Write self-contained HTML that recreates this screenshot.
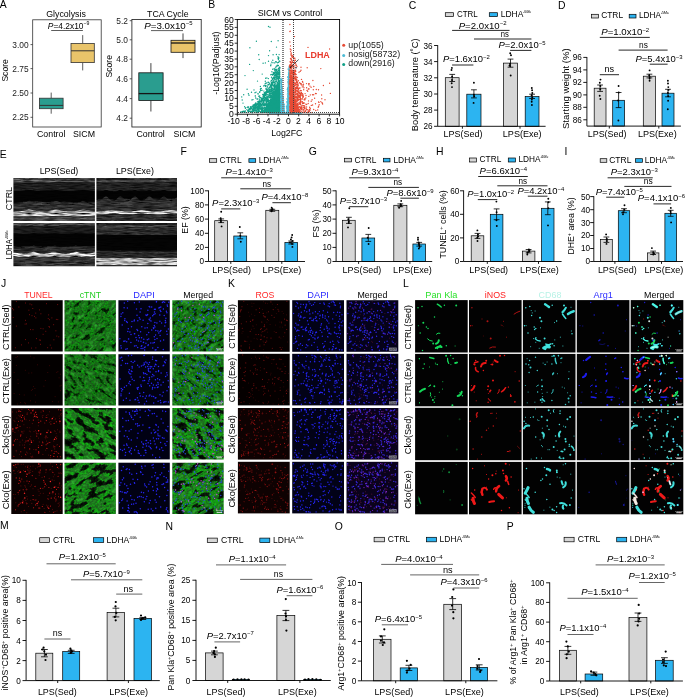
<!DOCTYPE html>
<html><head><meta charset="utf-8"><title>Figure</title>
<style>html,body{margin:0;padding:0;background:#fff}svg{display:block}text{font-family:"Liberation Sans", Arial, sans-serif}</style>
</head><body>
<svg width="685" height="697" viewBox="0 0 685 697">
<defs><filter id="gt0" x="0" y="0" width="100%" height="100%" color-interpolation-filters="sRGB"><feTurbulence type="fractalNoise" baseFrequency="0.13 0.26" numOctaves="4" seed="3" result="n"/><feColorMatrix in="n" type="matrix" values="0.3 0 0 0 -0.07  2.2 0 0 0 -0.6  0.3 0 0 0 -0.07  0 0 0 0 1"/><feComponentTransfer result="g"><feFuncG type="table" tableValues="0.10 0.14 0.34 0.66 0.44 0.39 0.41 0.45 0.54 0.62"/></feComponentTransfer><feTurbulence type="fractalNoise" baseFrequency="0.55" numOctaves="1" seed="103" result="n2"/><feColorMatrix in="n2" type="matrix" values="0 0 0 0 0.25  0.9 0 0 0 -0.2  0 0 0 0 0.25  0 0 0 0 1" result="h"/><feComposite in="g" in2="h" operator="arithmetic" k1="0" k2="1" k3="0.6" k4="-0.15"/></filter><filter id="gt1" x="0" y="0" width="100%" height="100%" color-interpolation-filters="sRGB"><feTurbulence type="fractalNoise" baseFrequency="0.13 0.26" numOctaves="4" seed="11" result="n"/><feColorMatrix in="n" type="matrix" values="0.3 0 0 0 -0.07  2.2 0 0 0 -0.6  0.3 0 0 0 -0.07  0 0 0 0 1"/><feComponentTransfer result="g"><feFuncG type="table" tableValues="0.10 0.14 0.32 0.64 0.43 0.38 0.40 0.44 0.52 0.60"/></feComponentTransfer><feTurbulence type="fractalNoise" baseFrequency="0.55" numOctaves="1" seed="111" result="n2"/><feColorMatrix in="n2" type="matrix" values="0 0 0 0 0.25  0.9 0 0 0 -0.2  0 0 0 0 0.25  0 0 0 0 1" result="h"/><feComposite in="g" in2="h" operator="arithmetic" k1="0" k2="1" k3="0.6" k4="-0.15"/></filter><filter id="gt2" x="0" y="0" width="100%" height="100%" color-interpolation-filters="sRGB"><feTurbulence type="fractalNoise" baseFrequency="0.085 0.18" numOctaves="4" seed="23" result="n"/><feColorMatrix in="n" type="matrix" values="0.3 0 0 0 -0.07  2.2 0 0 0 -0.6  0.3 0 0 0 -0.07  0 0 0 0 1"/><feComponentTransfer result="g"><feFuncG type="table" tableValues="0.04 0.05 0.07 0.16 0.70 0.60 0.42 0.42 0.50 0.62"/></feComponentTransfer><feTurbulence type="fractalNoise" baseFrequency="0.55" numOctaves="1" seed="123" result="n2"/><feColorMatrix in="n2" type="matrix" values="0 0 0 0 0.25  0.9 0 0 0 -0.2  0 0 0 0 0.25  0 0 0 0 1" result="h"/><feComposite in="g" in2="h" operator="arithmetic" k1="0" k2="1" k3="0.6" k4="-0.15"/></filter><filter id="gt3" x="0" y="0" width="100%" height="100%" color-interpolation-filters="sRGB"><feTurbulence type="fractalNoise" baseFrequency="0.085 0.18" numOctaves="4" seed="37" result="n"/><feColorMatrix in="n" type="matrix" values="0.3 0 0 0 -0.07  2.2 0 0 0 -0.6  0.3 0 0 0 -0.07  0 0 0 0 1"/><feComponentTransfer result="g"><feFuncG type="table" tableValues="0.04 0.05 0.07 0.14 0.66 0.60 0.42 0.42 0.50 0.60"/></feComponentTransfer><feTurbulence type="fractalNoise" baseFrequency="0.55" numOctaves="1" seed="137" result="n2"/><feColorMatrix in="n2" type="matrix" values="0 0 0 0 0.25  0.9 0 0 0 -0.2  0 0 0 0 0.25  0 0 0 0 1" result="h"/><feComposite in="g" in2="h" operator="arithmetic" k1="0" k2="1" k3="0.6" k4="-0.15"/></filter><clipPath id="ce1"><rect x="13.4" y="177.9" width="81.5" height="43.2"/></clipPath><filter id="ec1" x="-5%" y="-5%" width="110%" height="110%" color-interpolation-filters="sRGB"><feGaussianBlur in="SourceGraphic" stdDeviation="0.55 0.3" result="b"/><feTurbulence type="fractalNoise" baseFrequency="0.09 0.8" numOctaves="2" seed="7" result="n"/><feColorMatrix in="n" type="matrix" values="0 0 0 0 0  0 0 0 0 0  0 0 0 0 0  1.7 0 0 0 -0.62" result="a"/><feComposite in="a" in2="b" operator="over"/></filter><clipPath id="ce2"><rect x="96.4" y="177.9" width="80.6" height="43.2"/></clipPath><filter id="ec2" x="-5%" y="-5%" width="110%" height="110%" color-interpolation-filters="sRGB"><feGaussianBlur in="SourceGraphic" stdDeviation="0.55 0.3" result="b"/><feTurbulence type="fractalNoise" baseFrequency="0.09 0.8" numOctaves="2" seed="14" result="n"/><feColorMatrix in="n" type="matrix" values="0 0 0 0 0  0 0 0 0 0  0 0 0 0 0  1.7 0 0 0 -0.62" result="a"/><feComposite in="a" in2="b" operator="over"/></filter><clipPath id="ce3"><rect x="13.4" y="223.1" width="81.5" height="43.2"/></clipPath><filter id="ec3" x="-5%" y="-5%" width="110%" height="110%" color-interpolation-filters="sRGB"><feGaussianBlur in="SourceGraphic" stdDeviation="0.55 0.3" result="b"/><feTurbulence type="fractalNoise" baseFrequency="0.09 0.8" numOctaves="2" seed="21" result="n"/><feColorMatrix in="n" type="matrix" values="0 0 0 0 0  0 0 0 0 0  0 0 0 0 0  1.7 0 0 0 -0.62" result="a"/><feComposite in="a" in2="b" operator="over"/></filter><clipPath id="ce4"><rect x="96.4" y="223.1" width="80.6" height="43.2"/></clipPath><filter id="ec4" x="-5%" y="-5%" width="110%" height="110%" color-interpolation-filters="sRGB"><feGaussianBlur in="SourceGraphic" stdDeviation="0.55 0.3" result="b"/><feTurbulence type="fractalNoise" baseFrequency="0.09 0.8" numOctaves="2" seed="28" result="n"/><feColorMatrix in="n" type="matrix" values="0 0 0 0 0  0 0 0 0 0  0 0 0 0 0  1.7 0 0 0 -0.62" result="a"/><feComposite in="a" in2="b" operator="over"/></filter><clipPath id="cg0"><rect x="64.5" y="300.2" width="51.4" height="51.3"/></clipPath><clipPath id="cg10"><rect x="172.3" y="300.2" width="51.4" height="51.3"/></clipPath><clipPath id="cg1"><rect x="64.5" y="354.2" width="51.4" height="51.3"/></clipPath><clipPath id="cg11"><rect x="172.3" y="354.2" width="51.4" height="51.3"/></clipPath><clipPath id="cg2"><rect x="64.5" y="408.1" width="51.4" height="51.3"/></clipPath><clipPath id="cg12"><rect x="172.3" y="408.1" width="51.4" height="51.3"/></clipPath><clipPath id="cg3"><rect x="64.5" y="462.7" width="51.4" height="51.3"/></clipPath><clipPath id="cg13"><rect x="172.3" y="462.7" width="51.4" height="51.3"/></clipPath></defs>
<rect width="685" height="697" fill="#fff"/>
<text x="-0.3" y="7.6" font-size="10.4">A</text>
<rect x="32.7" y="19.8" width="68.5" height="107.2" fill="none" stroke="#333" stroke-width="0.8"/>
<text x="28.6" y="47.6" font-size="8.4" text-anchor="end" fill="#222">3.00</text>
<text x="28.6" y="71.6" font-size="8.4" text-anchor="end" fill="#222">2.75</text>
<text x="28.6" y="96" font-size="8.4" text-anchor="end" fill="#222">2.50</text>
<text x="28.6" y="120.3" font-size="8.4" text-anchor="end" fill="#222">2.25</text>
<path d="M32.7 44.6h-2.2M32.7 68.6h-2.2M32.7 93h-2.2M32.7 117.3h-2.2" stroke="#333" stroke-width=".8" fill="none"/>
<text x="66" y="16.8" font-size="8.8" text-anchor="middle">Glycolysis</text>
<path d="M51.2 92.6V98.2M51.2 108.7V113.7" stroke="#333" stroke-width=".8" fill="none"/>
<rect x="39.4" y="98.2" width="23.7" height="10.5" fill="#2a9d8f" stroke="#333" stroke-width="0.8"/>
<path d="M39.4 105.4L63.1 105.4" stroke="#333" stroke-width="1" fill="none"/>
<path d="M82.7 35.1V43.5M82.7 62.6V70.4" stroke="#333" stroke-width=".8" fill="none"/>
<rect x="71" y="43.5" width="23.3" height="19.1" fill="#e9c46a" stroke="#333" stroke-width="0.8"/>
<path d="M71 50.8L94.3 50.8" stroke="#333" stroke-width="1" fill="none"/>
<text x="47.8" y="28.6" font-size="8.8" textLength="41.6" lengthAdjust="spacingAndGlyphs"><tspan font-style="italic">P</tspan>=4.2x10<tspan font-size="5.4" dy="-3.2">−9</tspan></text>
<path d="M51.2 30.5L82.9 30.5" stroke="#333" stroke-width="0.8" fill="none"/>
<text x="51.2" y="137.1" font-size="8.8" text-anchor="middle">Control</text>
<text x="84" y="137.1" font-size="8.8" text-anchor="middle">SICM</text>
<text font-size="8.6" text-anchor="middle" transform="translate(7.7 70.4) rotate(-90)">Score</text>
<rect x="131.9" y="19.4" width="69.3" height="107.6" fill="none" stroke="#151515" stroke-width="0.8"/>
<text x="128" y="23.7" font-size="8.4" text-anchor="end" fill="#222">5.2</text>
<text x="128" y="42.8" font-size="8.4" text-anchor="end" fill="#222">5.0</text>
<text x="128" y="62.2" font-size="8.4" text-anchor="end" fill="#222">4.8</text>
<text x="128" y="81.8" font-size="8.4" text-anchor="end" fill="#222">4.6</text>
<text x="128" y="101.6" font-size="8.4" text-anchor="end" fill="#222">4.4</text>
<text x="128" y="121.2" font-size="8.4" text-anchor="end" fill="#222">4.2</text>
<path d="M131.9 20.7h-2.2M131.9 39.8h-2.2M131.9 59.2h-2.2M131.9 78.8h-2.2M131.9 98.6h-2.2M131.9 118.2h-2.2" stroke="#333" stroke-width=".8" fill="none"/>
<text x="167.8" y="16.8" font-size="8.8" text-anchor="middle">TCA Cycle</text>
<path d="M150.9 63.1V72.8M150.9 100.5V111.5" stroke="#151515" stroke-width=".8" fill="none"/>
<rect x="138.8" y="72.8" width="24.3" height="27.7" fill="#2a9d8f" stroke="#151515" stroke-width="0.8"/>
<path d="M138.8 93.6L163.1 93.6" stroke="#151515" stroke-width="1.3" fill="none"/>
<path d="M183 33.4V40.3M183 52.3V58.1" stroke="#151515" stroke-width=".8" fill="none"/>
<rect x="171" y="40.3" width="24" height="12" fill="#e9c46a" stroke="#151515" stroke-width="0.8"/>
<path d="M171 43L195 43" stroke="#151515" stroke-width="1.3" fill="none"/>
<text x="144.2" y="28.6" font-size="8.8" textLength="48.4" lengthAdjust="spacingAndGlyphs"><tspan font-style="italic">P</tspan>=3.0x10<tspan font-size="5.4" dy="-3.2">−5</tspan></text>
<path d="M151 30.6L183 30.6" stroke="#333" stroke-width="0.8" fill="none"/>
<text x="150.6" y="137.1" font-size="8.8" text-anchor="middle">Control</text>
<text x="184.4" y="137.1" font-size="8.8" text-anchor="middle">SICM</text>
<text font-size="8.6" text-anchor="middle" transform="translate(111.6 66.3) rotate(-90)">Score</text>
<text x="208.3" y="7.6" font-size="10.4">B</text>
<path d="M280.1 113L280.1 95.4L280.7 81.4L281.5 76.5L282.1 84.5L283.2 98.5L284.9 110.9L285.5 113Z" fill="#4dbbd5"/>
<path d="M289.7 113L289.7 69.1L288.6 65.7L287.8 79.9L287.4 95.4L286.4 110.9L285.8 113Z" fill="#4dbbd5"/>
<path d="M269.3 112.6H301.8V113.8H269.3Z" fill="#4dbbd5"/>
<path d="M280.1 112.7L280.1 79.6L277.8 83L274.7 90.7L271.6 98.5L267 106.2L262.6 110.9L260.8 112.7Z" fill="#12a088"/>
<path d="M289.5 112.7L289.5 74.5L291.7 75.6L293.4 83L295.1 98.5L297.9 107L301 112.7Z" fill="#e64b35"/>
<path d="M281 86.1h0M280.5 78.6h0M288.7 92.8h0M282.3 94h0M282.4 86.3h0M288.3 89.8h0M287.2 110.5h0M283.4 108.1h0M281.4 81.7h0M288.1 87.5h0M283.4 102.6h0M284.7 106.7h0M286.1 112h0M281.8 93h0M286.4 108.3h0M287.8 111.2h0M281.2 80.6h0M286.8 102.7h0M283.5 112.2h0M289.4 70.4h0M283.8 110h0M287.7 76.6h0M281 79.5h0M288.7 82.6h0M282.5 95.3h0M282.6 97.6h0M284.2 106.6h0M280.4 80.6h0M283.8 99.7h0M286.5 106.4h0M287.5 101.6h0M287.2 94h0M281.5 81.5h0M286.3 106.1h0M284 111.7h0M283.3 107.9h0M287.3 107.9h0M289.3 66.2h0M287.6 102h0M281.8 84.8h0M280.8 80.6h0M287.7 91.5h0M287.5 93.1h0M287 106h0M283.6 97.5h0M288.8 74.4h0M282.7 93.8h0M282.1 95h0M287.3 104.3h0M287.9 79.5h0M287.5 90.9h0M287.8 89.3h0M284.6 106.8h0M287.6 77.6h0M289.7 67.1h0M288.2 81.7h0M288.5 73.5h0M287.9 97.8h0M281 84.6h0M283.1 99.8h0M288.9 91.9h0M282.1 95.4h0M284.4 110.4h0M281.4 89.5h0M288 89.8h0M286.7 101.6h0M283.4 102h0M287.2 89.4h0M284.1 106.8h0M282.1 81.3h0M289.1 73.7h0M287.5 106.4h0M288.8 70.1h0M287.6 81.9h0M286.7 98.9h0M283.4 96.8h0M286.4 106.9h0M288.3 74.5h0M281.4 93.5h0M288.7 96.2h0M289.7 69.5h0M287 109.7h0M282.6 102.1h0M288.9 91.2h0M282.2 88.5h0M287.7 87.5h0M282.8 102.5h0M282.6 94.2h0M282.6 86.6h0M283.2 104.5h0M283 94.3h0M289.4 68.2h0M288.5 88.5h0M289.1 74.5h0M282.5 87.9h0M288.5 89.9h0M282.1 90.6h0M281.1 89.4h0M287.4 108.4h0M283.6 107.5h0M288.1 96.4h0M289.1 78.5h0M288.2 101.4h0M281.9 91.5h0M284.4 108.2h0M283.3 96.4h0M282.3 89.7h0M287.6 89.2h0M282.8 100.9h0M288.1 108.1h0M281.7 95.3h0M281.2 79.5h0M287.3 101.6h0M283.5 110.2h0M286.4 106h0M287.6 96.2h0M282.8 98.7h0M286.8 107.8h0M283.9 104.8h0M288.1 69.4h0M288.2 83h0M288.9 75.1h0M283 97h0M284.4 104.1h0M288.4 102.9h0M288.7 91.6h0M288.3 95.4h0M281.6 89h0M287.1 102.5h0M288.1 68.7h0M282 79.6h0M282.7 90.7h0M287.8 95.4h0M284 111.2h0M287.4 88.3h0M283 95h0M282 78.9h0M283.3 108.6h0M288.3 72.8h0M283.4 103.9h0M282.1 91.3h0M283.9 111h0M282.3 96.5h0M289.4 67.8h0M284 110.1h0M281.9 88.2h0M282.9 100.8h0M288.3 79.6h0M288 99.6h0M280.5 79.9h0M280.8 83.4h0M289.1 81.9h0M281 85.6h0M283.3 101.3h0M284.1 105.9h0M283 98.6h0M281 80.1h0M288.6 83.4h0M284.3 104.6h0M282 90.2h0" stroke="#4dbbd5" stroke-width="1.1" stroke-linecap="round" fill="none"/>
<path d="M276.3 66.3h0M272.5 110.8h0M275.1 109.3h0M277.8 107.5h0M262.1 106.2h0M273.8 82.5h0M270.9 88.9h0M271.7 93.2h0M275.3 104.7h0M278 99.4h0M272.2 90.8h0M255.9 107.4h0M270.6 109.3h0M241.1 112.5h0M268 98.9h0M258.9 103.9h0M253.8 104.9h0M272.6 110.8h0M253.6 110.4h0M278.7 111.7h0M276.2 81.2h0M276.5 96.5h0M263 97.6h0M274.3 102.7h0M253.1 111.5h0M256.2 110.3h0M279.9 94.6h0M278.7 72.1h0M264.2 111.7h0M265.5 94.9h0M274.5 75.4h0M275.9 106.2h0M271.6 109.6h0M279.8 74.8h0M279.9 97h0M266.8 90.9h0M274.4 100.4h0M269.3 112h0M265.7 94.9h0M274.3 85.1h0M273.7 101.4h0M252.3 106.9h0M277.3 103.2h0M276.7 101.1h0M279.5 71.6h0M244.5 112h0M277.3 104.5h0M257.9 107h0M264.1 111.1h0M275.3 94.4h0M256.9 109.1h0M268.4 89.1h0M271.3 108.9h0M277.2 78.2h0M272.3 101.5h0M242.4 111.8h0M276.7 94.7h0M277.3 100.4h0M269.3 105.8h0M268.8 101.1h0M272.8 99h0M262.9 112.4h0M276.4 112.5h0M257.4 106.4h0M276 90.1h0M270 105.1h0M276.1 90.1h0M261.6 104.9h0M273.1 97.7h0M259.3 101.2h0M272.1 95.3h0M275.1 72.4h0M274.6 88.3h0M267.3 97.7h0M261.4 98.1h0M266.6 91h0M270.1 100.7h0M275.8 67.3h0M268.2 112.3h0M274.9 76h0M279.4 108.2h0M278 107.2h0M268.7 91.8h0M263.8 94.1h0M271 64.1h0M278 56.6h0M274.4 100.5h0M279 90.1h0M272.4 79.2h0M271.7 103.8h0M257.2 99.3h0M278.2 104.7h0M262 111h0M253 109.7h0M279.2 70.6h0M274.4 97.9h0M260.4 89.2h0M276.9 77.7h0M274.8 102.2h0M272 98.9h0M277.8 71.7h0M268 85.3h0M277.3 91.7h0M268.7 110.4h0M279.5 111.7h0M265 98h0M270.9 86.9h0M271.7 90.3h0M279.2 76.9h0M277.3 106.9h0M254.1 105.6h0M253.9 106.9h0M264.7 112.1h0M258.6 105.8h0M263.2 100.7h0M273 96.2h0M257.3 112h0M270 92.6h0M274.9 76h0M258.6 103.2h0M277 109.5h0M279.4 69.2h0M267.9 96.7h0M275.5 94.4h0M263.5 96.9h0M277.6 93.5h0M278.8 93.5h0M270.7 95.9h0M276.8 73.2h0M250.4 108.7h0M278.3 70.3h0M268.4 109.2h0M276.4 62h0M256.2 105.3h0M257.8 108.4h0M268.4 102h0M272.7 109.4h0M269.9 105.4h0M275.8 97.9h0M272.3 83.8h0M261.3 88.4h0M259.4 106.5h0M277.2 101.8h0M241 112.1h0M274.7 78.8h0M271.7 85h0M273.9 109.5h0M272.8 104.9h0M262 106.1h0M264.4 105.5h0M273.6 108.4h0M243.1 111.3h0M279.9 93.4h0M265.6 92h0M267.3 86.6h0M270.3 89.8h0M279.9 106h0M273.2 81.5h0M278.4 59.6h0M264.2 95.4h0M272.3 92.5h0M272.2 110.5h0M272.2 78.7h0M273.5 80.3h0M269.7 106h0M278.4 65.5h0M270.2 93.9h0M274.6 111.4h0M276.1 80.4h0M271.3 106.6h0M275.5 104h0M270.5 85.4h0M277.4 84.8h0M265.5 104.8h0M277.2 110.2h0M276.5 76.3h0M268.5 108.1h0M274.6 111.5h0M270.9 81.1h0M271 84.9h0M276.4 78.8h0M267 111.6h0M271.6 101.5h0M275.5 96.7h0M276.2 110.1h0M278.9 80.7h0M275 89.4h0M244.3 112.1h0M278.7 85.6h0M248.4 111.7h0M266.5 107.3h0M276 75.4h0M278 80.1h0M253.6 110.1h0M271.5 89.8h0M275.4 111.4h0M250.5 106.8h0M276.4 108.7h0M270.2 101.1h0M276.6 81.7h0M260.1 108.6h0M261 101.7h0M279.7 74.5h0M271.7 100.6h0M276.8 85.5h0M254.3 108.6h0M276.6 69.9h0M277.8 88.1h0M269.7 105.7h0M268.4 110.1h0M277.1 106.8h0M266.5 99.7h0M267.2 97.2h0M279.1 104h0M273.9 98.9h0M277.5 108.9h0M270.1 104.1h0M273.7 93.1h0M248.4 111.2h0M243.7 94.8h0M273.6 82.1h0M266.9 112.4h0M274.8 89.5h0M276.7 106.7h0M274 95.6h0M277 104.5h0M263.8 111.7h0M277.5 74.8h0M266.7 107.9h0M258.7 102.2h0M266 104.6h0M269.7 92.9h0M257.7 112.3h0M270.8 95.3h0M274.9 90.9h0M265.9 103.3h0M267.9 107.1h0M268.7 101.1h0M274.1 73h0M275.2 111.1h0M277.4 65.9h0M255.5 103.5h0M257 103.8h0M279.5 91.6h0M267.3 87h0M258.3 110.8h0M276.7 91.8h0M272.6 104.2h0M271.2 107.9h0M278 75h0M266.9 98.7h0M268.5 99h0M244.6 111.5h0M252.6 110.7h0M264.6 104.3h0M261.2 112h0M253.6 107.9h0M248.6 107.2h0M264.3 95.7h0M272.9 80h0M269.5 106.7h0M271.6 106.5h0M257.7 109.8h0M255 106.8h0M270.9 112.4h0M273.5 100.8h0M258.4 109.6h0M271 97.1h0M257 112.6h0M271.1 108.5h0M259.5 101.9h0M279.1 54.6h0M279.6 76.3h0M278.3 81.2h0M271.9 111.5h0M273.7 88.9h0M278.1 94.3h0M262.1 108.5h0M273.8 112.2h0M251.3 107.9h0M266.5 105.7h0M254 107.4h0M264.2 97.1h0M277.9 94.3h0M276.4 54.5h0M270.7 65.4h0M277.8 111h0M277.1 83.6h0M268.7 92.2h0M272.8 110.6h0M273.7 78.2h0M277.7 78.6h0M271.9 71.7h0M271.2 103.2h0M279.4 81.9h0M268.5 88.9h0M277.4 95.4h0M277.5 98.2h0M273.9 109.5h0M252.3 112.7h0M278.7 91.8h0M279.7 104.7h0M274.4 78.1h0M270.2 93h0M276.2 80.7h0M275.5 88.1h0M256.2 111.8h0M261.7 109.5h0M266 94.1h0M279.9 89.7h0M272.1 102.6h0M269.4 95.1h0M257.2 106.2h0M270.7 87.1h0M272.8 85.2h0M258.9 109.5h0M273.3 106.4h0M269.1 110h0M249.4 108.7h0M252.6 111.2h0M276.2 111.3h0M266.4 97.8h0M272.4 93.6h0M278.2 74.3h0M280 102.8h0M265.2 97.4h0M271.3 99.2h0M261.6 111.2h0M275.3 103h0M260.5 104h0M271.7 92.6h0M276 92.8h0M271.8 88.6h0M277.7 108.5h0M276.5 86.3h0M263.2 105.5h0M274.4 85.3h0M266.9 88.3h0M265.1 104.3h0M278.8 101.4h0M263.7 108.7h0M273.6 105.5h0M272.5 97.7h0M261.2 98.3h0M269 100.6h0M256.1 111.4h0M273.3 100.1h0M270.8 74.7h0M279.6 92h0M268 97h0M277.1 78.2h0M276.1 107h0M277.7 72.6h0M279.7 108.3h0M277.9 106.3h0M267 109h0M275.9 77.1h0M259.2 110.1h0M279.1 74.8h0M264.7 108.2h0M265 109.9h0M274.1 93.4h0M271.4 95.9h0M266.6 104.6h0M262 90.3h0M270.9 85.9h0M263.6 85.9h0M278.8 98.2h0M262.8 99.6h0M277.3 95.1h0M272.8 99.6h0M254.3 108.3h0M276.7 99.6h0M267.5 97.8h0M274.7 72.7h0M250.8 111.6h0M266.3 93.4h0M258.9 104.7h0M275.9 86.1h0M270.9 109.7h0M275.2 87.7h0M248.7 109.1h0M275.2 100.5h0M265.7 86.1h0M260.9 104.3h0M262.3 112.5h0M242.8 112h0M264.6 100.2h0M278.7 83.6h0M279.7 108.9h0M257.3 109.9h0M277.5 110.6h0M265.8 111h0M261.7 105.5h0M258 93.5h0M275 109.7h0M265.7 88.9h0M255.4 108.4h0M276 86.7h0M267.2 104.1h0M262 99.5h0M253.3 107.9h0M276.2 76.5h0M255.5 104.7h0M261.9 108.5h0M268.1 111.7h0M252.6 106.2h0M264.6 99.5h0M259.3 111.6h0M272.7 82.6h0M257.3 105h0M279.1 78.7h0M256.1 104.3h0M253.3 105.6h0M265.3 100.8h0M270.6 102.3h0M259.7 105.7h0M266.3 110.5h0M279.7 106h0M277.2 111.3h0M279.5 91.7h0M277.3 73.2h0M265.1 93.5h0M277.3 65.2h0M271.5 99h0M262.2 74.1h0M272.5 94.8h0M273.2 97.9h0M267.3 89.7h0M279.6 73.8h0M266.8 111.7h0M255 112.2h0M246.9 109.6h0M259.7 111.3h0M266.8 110h0M279.3 60.9h0M272 111.6h0M253.8 105.3h0M268.5 110.3h0M269.1 103.8h0M268.6 96.8h0M259 105.7h0M272 104.4h0M276.3 98.9h0M252.8 110.3h0M275 78.6h0M279.2 92.2h0M276 73h0M267.1 110.5h0M258.4 109.1h0M271.7 87.8h0M253 108.6h0M279.6 73.4h0M274.1 85.2h0M273.1 73.1h0M278.6 86.7h0M270.3 96.2h0M278.3 58.7h0M265.5 95.6h0M248.8 110.5h0M276.9 105h0M272.8 75h0M268.3 100.1h0M268.3 104.8h0M254 89.9h0M262.7 103.7h0M279.3 71.1h0M271.4 82.1h0M273.5 72.4h0M258.1 111.5h0M276.8 110.8h0M268.3 109.7h0M279.8 87.1h0M258.9 110.6h0M269.6 102.3h0M265.8 93.1h0M277.6 102.6h0M254.5 104.7h0M277.1 110.5h0M270 101h0M275.6 69.3h0M272.3 82.2h0M279.1 85.6h0M277.2 85.9h0M277.6 101.2h0M272.3 96.4h0M272.5 103.5h0M266 92.6h0M266.7 102.4h0M274.5 101.9h0M274.7 70.3h0M265.8 99.3h0M268.2 101.5h0M267.9 106.9h0M277.4 96.6h0M262.9 108.6h0M257.2 109.5h0M278.8 109.9h0M271.6 110.8h0M279.4 103h0M273.1 107.6h0M271 87.7h0M262.5 100.6h0M255.2 105.9h0M276.1 62.1h0M243.5 111.7h0M279.4 75.1h0M264.9 98.5h0M275.2 91.3h0M273.5 95.6h0M253 110.4h0M274.7 78.7h0M276.9 77.8h0M251.9 99.9h0M266 93.4h0M262.7 103.9h0M279.7 97.2h0M259.7 96h0M273.2 94.2h0M264.1 104.6h0M276.4 98.6h0M274 78.1h0M269.1 109.9h0M261.3 99.2h0M240.8 112.4h0M276.5 86.6h0M271.4 82.5h0M258.5 108.9h0M266.7 106.1h0M275.2 93.5h0M271.9 92.9h0M267 110h0M273.3 77.7h0M271.3 82.9h0M262.3 107.4h0M274.5 109.1h0M270.1 103h0M251.7 108.7h0M269.7 95.8h0M254.7 109.9h0M268.3 105.3h0M245.2 112.2h0M279.1 103.2h0M254.8 110.5h0M277.4 104.9h0M273.4 94.6h0M277.4 110h0M273.5 106.1h0M271.3 111.7h0M267.6 110.6h0M261.6 110.8h0M277.1 98h0M272.2 82.8h0M269.8 100.4h0M279.7 101.5h0M272.8 93h0M272.1 108.9h0M276.8 96.7h0M255.6 109.6h0M267.5 105.2h0M255 107.4h0M278.3 99.5h0M274.9 85.7h0M259.2 101.2h0M266.7 83h0M271.1 93.1h0M268.2 92.1h0M277.1 74.7h0M273.5 77.3h0M275.4 111.2h0M266.8 108.8h0M277.6 94.4h0M269.4 112.7h0M278.9 76.2h0M275.7 61.8h0M259.6 111.6h0M267.8 94.9h0M250.9 110.1h0M261.5 101.4h0M275.4 85.6h0M278.6 73.2h0M258.6 102.6h0M274 78.6h0M279.8 97.2h0M275 101h0M274.9 103.6h0M270.7 85.7h0M274.1 92.7h0M274.6 92.3h0M270.4 99.7h0M263.3 110.7h0M278.7 100.8h0M275.1 71.8h0M273.5 109.9h0M273.6 95.9h0M256.7 105.6h0M256.1 92.1h0M277.5 86h0M271.3 107.7h0M279.3 104.8h0M267.3 104.3h0M274.8 111.2h0M270.9 89h0M264.2 103.3h0M274.2 68.5h0M244.6 106.6h0M266.9 77.9h0M276.5 101h0M265.3 104.2h0M266.5 93.1h0M256.9 107.8h0M278.1 99.1h0M274.4 79.9h0M260.7 90.5h0M275.4 101.3h0M259.7 108.7h0M277.5 111.5h0M274.3 88.9h0M278 95.1h0M274.4 106.2h0M275.6 108.3h0M265.5 107.6h0M270 106.4h0M260.9 111.5h0M278.4 94.1h0M274.7 108.5h0M256.6 111.6h0M262.7 103.2h0M248.1 106.7h0M261 109.6h0M278.2 94.7h0M267.1 91.8h0M266.8 96.4h0M268.8 109.6h0M255.7 103.2h0M274.6 92.3h0M275.9 75.4h0M274.4 82h0M265.3 81.2h0M268.7 95.1h0M276.1 77.4h0M267.4 112.4h0M247.6 110.8h0M271.1 88.5h0M278.1 92.6h0M257.2 98.6h0M261.9 98.4h0M273.4 96.8h0M268.1 82.3h0M264.3 92.8h0M277.9 101.2h0M278.7 90.2h0M261.6 112.2h0M262.8 101.9h0M262.4 108.1h0M260.1 108.5h0M271.8 97h0M266.1 111.4h0M275.4 74.3h0M279.4 97.7h0M269.5 89.4h0M268.9 84.4h0M275 85.4h0M262.7 94.5h0M253 105.1h0M254.3 112.1h0M267.3 106.3h0M274.2 87.5h0M270.4 107.1h0M274.4 86.2h0M272.5 110.2h0M275.9 105.2h0M273.4 91h0M269 96h0M258.8 96.2h0M270.9 98.3h0M270.8 65.7h0M275.1 89.3h0M279.5 108.7h0M279.3 77.7h0M273.9 92.2h0M269.8 92.7h0M272.3 88.5h0M274.4 96.2h0M241 111.7h0M259.6 102.5h0M276.7 103.2h0M272.4 110.8h0M278.6 105h0M274.6 85.4h0M272.7 111.8h0M263.4 101.5h0M278.2 93.3h0M261.9 111.7h0M265.4 86.6h0M249.9 109.3h0M263.2 108.1h0M273.1 91.6h0M256.9 110.3h0M261.3 108.7h0M258.2 109.3h0M273.4 89.6h0M274.5 91.4h0M269.8 91.3h0M270.9 87.4h0M273 62.7h0M278.9 68.7h0M269.1 89h0M273.1 78h0M278.5 91.3h0M274.7 94.6h0M274.9 106h0M278.7 107.9h0M263.1 96.6h0M251 108.1h0M274 77.1h0M264.8 85.2h0M270.1 97.7h0M251.1 108.1h0M276.7 95.3h0M268.8 109h0M270.2 95.6h0M269.2 106.3h0M271.2 87.9h0M259.1 108.5h0M273.1 102.2h0M279.4 90.8h0M252.1 111.1h0M263.7 105.6h0M264.5 99.8h0M270.3 95.6h0M277.3 92.9h0M270 108.8h0M278.6 90.4h0M279.4 77.4h0M271.3 88.1h0M266.4 94.7h0M276.1 106.4h0M263.9 103.1h0M259.9 107.3h0M264.4 97.4h0M274.9 87.2h0M278.7 98.2h0M266.1 108.4h0M270 105.1h0M259.7 92.4h0M275.4 81.8h0M265.7 111.8h0M277.3 95.7h0M268.4 104h0M271.6 83.1h0M275.6 86.3h0M279.5 90.1h0M266 85.4h0M253.6 109.3h0M273.5 97.7h0M270.2 91.8h0M261.1 102.7h0M278.9 58h0M272.9 109.8h0M259.6 103.1h0M272.7 90.4h0M253.7 105.5h0M279 101.8h0M267.5 100.7h0M270.3 90.1h0M253 99.6h0M264 102h0M276.3 104.5h0M268.2 99.7h0M276.1 99.6h0M274.2 84h0M258.4 101.3h0M265.6 78.2h0M274.7 90.8h0M256.3 107.5h0M270.5 104.4h0M260.7 97.8h0M254.8 104.1h0M278.3 83.6h0M249 95.3h0M277.8 99.3h0M261.4 99h0M265.1 93.1h0M259 107.8h0M273.9 96.4h0M278 58.1h0M257.9 101.5h0M266.1 102.1h0M260.6 105.8h0M274.1 107.8h0M278.5 76.8h0M261.2 98.3h0M276 69.4h0M279.5 105h0M256.4 112h0M256 106.5h0M271.9 74.4h0M268.1 103.5h0M273.6 106.8h0M264 103.8h0M255.7 98h0M268.1 108.7h0M269.2 103.1h0M277.8 102.6h0M272.8 60.2h0M275.3 86.2h0M261.9 110.2h0M266.3 106.4h0M269.3 97.5h0M275.2 110.3h0M258.1 94h0M274.9 82.4h0M268 112.4h0M274.9 103.5h0M276.5 106.4h0M276.9 99h0M270.4 90.3h0M274.2 85.7h0M249.5 109.6h0M261.2 107.6h0M267.4 97.1h0M264.2 95.9h0M250.4 108h0M268.7 90.8h0M257.6 106.5h0M255.3 110.3h0M274.9 105.2h0M248.8 109.5h0M278.6 79.4h0M255.2 95.9h0M270.5 103.1h0M279.7 68.8h0M278.6 94.9h0M274.9 99.4h0M271.5 80.4h0M260.4 101.4h0M272.4 111.4h0M275.3 98.9h0M244.4 111.5h0M244.3 111.7h0M279.9 76.7h0M271.2 84.8h0M279.8 101.8h0M253.3 108.7h0M270.6 86.9h0M269 88h0M269.1 96.3h0M266.3 102.2h0M252.2 112.3h0M265.5 97.5h0M274.4 73.4h0M251.3 111.8h0M271.3 111.3h0M272.7 88.1h0M271 100.4h0M272.8 100.4h0M259.7 103.3h0M256.1 104.4h0M267.7 100.4h0M279.3 67.3h0M271.2 83.9h0M267.5 108.1h0M248.1 112.3h0M252.5 110.8h0M255.8 108.2h0M277.7 106.3h0M267.8 99.5h0M277.7 74.1h0M266.7 99h0M254.3 107.8h0M273 103.9h0M257.3 105.1h0M272.8 109.1h0M260.2 103.1h0M275.8 75.2h0M259.9 108h0M263.9 103h0M273.7 74.3h0M275.6 79.3h0M264.7 107.4h0M269.4 90.5h0M279.6 74h0M263.3 98.4h0M264.8 98.9h0M263.7 111.5h0M278.7 62.3h0M270.3 90.3h0M255.4 96h0M268.1 84.5h0M278.6 68.4h0M276.2 98.8h0M275 104.9h0M255 92.7h0M265.1 111.5h0M279.5 87.5h0M271.4 86.8h0M274.7 77.4h0M265.4 110h0M272.9 89.6h0M274.7 102.3h0M266.4 101.5h0M277.3 101.6h0M271.1 84.3h0M259.8 97.4h0M269 90.5h0M278.9 105.7h0M266.6 89.6h0M259.1 98.9h0M264.8 97.7h0M258.3 106.8h0M266.6 110.3h0M277.3 111.8h0M269.4 87.5h0M278.3 78.2h0M266 112.4h0M278.5 77.4h0M278.6 110.9h0M268.6 97h0M274.4 89.3h0M268.2 110.1h0M272.2 106.4h0M265.2 83.6h0M263.1 104.5h0M277.6 85.4h0M269.7 108.9h0M270.2 85.1h0M276 81.1h0M279.8 108.7h0M276.1 70.5h0M276 75.4h0M258.9 109.3h0M279.6 70.7h0M273.3 85.6h0M260.1 100.3h0M264.6 96.4h0M260 104.5h0M279.6 110.4h0M278.6 57.8h0M278.9 93.1h0M276 108.3h0M265.5 83.3h0M276.2 97.8h0M274.7 107.3h0M279.8 61.3h0M278.3 90.7h0M264.3 95.6h0M266.8 92.7h0M258.9 101.9h0M275.8 105.5h0M277 100.2h0M269.6 110.2h0M261.4 101.3h0M252.7 107h0M277.6 103h0M278.5 98.7h0M260.4 86.5h0M263.8 101.3h0M271.7 96.5h0M278.3 73h0M266.1 110.8h0M245.4 108.3h0M271.2 99.8h0M279.3 80.6h0M279.7 82.8h0M276.6 72.8h0M269.1 94.4h0M263.9 91.1h0M267.3 90.5h0M269 92.7h0M275.2 86.3h0M266.1 110.7h0M278.3 77.6h0M276.8 79.3h0M270.8 86.6h0M279.3 87.5h0M276 73.2h0M274.8 91.3h0M252.2 111.8h0M277.4 82.5h0M279.9 67.5h0M266.4 106.6h0M278.4 103.4h0M270.8 94.2h0M259.8 101.3h0M273.4 74.6h0M273.9 95.7h0M275.9 71.9h0M247.2 107.5h0M273.7 93.5h0M275.6 75.5h0M274.5 106.4h0M270.3 86.8h0M274.3 110h0M259.8 91.8h0M264 98.9h0M277.5 91.8h0M264.3 95h0M259.5 107.8h0M277 69.2h0M260.8 106.3h0M279.9 72.1h0M261 112.5h0M263.2 96.3h0M277.6 86.6h0M263.4 104.7h0M273.5 100.9h0M267 104.5h0M260.5 109.1h0M279.8 81.9h0M253.7 111.5h0M255 107.2h0M279.1 87.6h0M271.5 86.1h0M269 88.2h0M276.9 71h0M270.9 87.3h0M243.9 111.1h0M272.9 104.8h0M279.5 78.3h0M277.9 74.8h0M274.6 87.1h0M268.4 78.6h0M267.1 102.1h0M263.9 100.3h0M279.1 105h0M278.3 72.1h0M264.8 93.8h0M278.6 84.4h0M266.5 107.9h0M272.3 99.8h0M278.3 88h0M266.2 103.4h0M262.3 112.4h0M255.1 105.5h0M253.5 107.6h0M272 103.4h0M257.2 106h0M272 112.2h0M274.8 75h0M279.6 102.8h0M278.9 69.2h0M272 102.3h0M278.4 95h0M274.4 69.7h0M278 101.6h0M270.9 107.2h0M266.1 111.6h0M263.1 108.8h0M264.9 110.8h0M273.1 86.3h0M255 106.4h0M273.2 109.1h0M262.3 108.5h0M279.3 81.6h0M276.5 86.3h0M272 103h0M274.5 107h0M269.4 87.2h0M259.8 108.4h0M275.1 110.8h0M276 75h0M277.6 91.4h0M273.2 88.9h0M275.6 97.4h0M276.5 85h0M257.7 103.7h0M276.7 74.2h0M267.4 97.9h0M270.2 85.1h0M260.7 88.8h0M275.6 69.5h0M275.3 101.5h0M278.9 68.7h0M275.6 105.9h0M272.4 101.9h0M273.1 104.2h0M278.8 74.2h0M270.7 99.4h0M272.9 108.5h0M259.5 108.2h0M263.6 104.2h0M272.2 107.2h0M270.1 107.5h0M267.8 112.5h0M265.8 94h0M264.6 107.6h0M258.4 108.3h0M275.6 96.7h0M249.2 109.1h0M265.5 98h0M279.4 96.3h0M259.3 105.7h0M264.4 96.5h0M257.3 102.1h0M277.4 76.3h0M276.4 98.8h0M273.1 101.4h0M272.7 69.2h0M275.1 84.4h0M277.8 95.8h0M272.7 84h0M261.3 101.7h0M273.9 92.1h0M277.1 92.6h0M275.2 99h0M271.7 91.6h0M261.3 106.1h0M275.9 109h0M276.8 103.5h0M267.1 107.8h0M267.1 96.6h0M274.4 101.8h0M272.9 96.2h0M263.4 95.7h0M277.5 74.6h0M271.4 86.9h0M279.3 91.2h0M277.1 72.9h0M272.6 92.5h0M277 87.6h0M264.9 93h0M271.7 90.7h0M279.5 105.2h0M262.9 109.3h0M279.9 82h0M257.5 81.1h0M275.2 81.9h0M277.3 93.5h0M267.3 107h0M259.1 107.4h0M274.6 109.6h0M271.4 97.5h0M244.4 111.8h0M265.7 108.6h0M277.2 83.4h0M275 99.2h0M274.8 107h0M266.8 112.6h0M267.7 91h0M264.1 107.2h0M276.8 106.7h0M245.4 110.9h0M261.5 104.2h0M251.1 112h0M267.5 101.5h0M277.9 75h0M261.6 105.3h0M271.1 94.6h0M270.3 102.5h0M269.8 105.2h0M268.2 112.2h0M261.5 100.3h0M269.7 93.1h0M276.1 74.5h0M252.6 109.5h0M262.5 98.3h0M263.2 102.2h0M262.7 111.8h0M274.6 108.5h0M260.7 104.1h0M254.5 108.8h0M249.7 111.5h0M277.5 105.2h0M271.5 77.3h0M265 97.1h0M276.7 76.1h0M252.9 106.1h0M259.2 110.9h0M279.5 78.2h0M278.6 112.5h0M271.1 91.4h0M263.8 95.3h0M274.4 103h0M267.4 94.7h0M275.3 83.6h0M268.4 108.8h0M275 109.6h0M248.1 112.1h0M264 104.7h0M269.4 83.7h0M269.4 93.5h0M268.9 82.4h0M275.5 101.9h0M259.7 100h0M256.8 104.5h0M268.7 102.6h0M262.4 110.3h0M264 94.6h0M266.3 104.7h0M264.9 112h0M262 112.2h0M255.7 105.5h0M271.5 108.5h0M276.2 105.1h0M262.9 104.5h0M251.9 106.4h0M251.2 107.8h0M255.1 104.5h0M257.8 104.6h0M266.8 102.6h0M272.5 90.9h0M276 105.9h0M268.8 103.4h0M279.6 87.3h0M255.7 103h0M253.3 105h0M278.5 104h0M276.9 86.6h0M274.6 77.7h0M267.5 92.6h0M270.6 85.2h0M272.5 75h0M272.9 85.5h0M279.7 72.7h0M279.9 110.6h0M279 99.3h0M253.3 107.9h0M264.5 108.9h0M253.4 110.5h0M260.2 108.2h0M278.1 77.5h0M274.8 84.6h0M266.3 92.5h0M264.1 101.1h0M277.2 97.7h0M262 110.4h0M258.3 110.8h0M266.5 100.6h0M275.1 96.7h0M279.4 102.3h0M266.5 104.4h0M271.1 106.2h0M263.8 95.8h0M274.9 72h0M271.2 103.6h0M267.9 106.9h0M265.8 98h0M252.2 112.4h0M274.9 70h0M273.4 109.3h0M271.4 92.7h0M279.2 108.8h0M277.7 62.7h0M265.9 105.8h0M277.4 83.8h0M265.9 111.3h0M274.1 94.7h0M276.9 84.9h0M271.2 88.4h0M268.5 26.5h0M270 27.3h0M256.4 41.2h0M271.3 41.5h0M278.1 40.7h0M249.9 47.7h0M276.5 47.1h0M269.6 50.8h0M258.7 54.8h0M268.5 55.6h0M273.1 54.8h0M278.1 57.9h0M259.2 59.5h0M249.6 64.4h0M263.1 63.2h0M265.4 62.9h0M268.5 61.3h0M271.6 62.1h0M274.7 62.9h0M253.3 70.6h0M245 75.6h0M241.7 96.9h0M242.2 100h0M243 103.1h0M245.3 107.8h0M247.1 89.2h0M248.4 93.8h0M251.5 92.3h0" stroke="#12a088" stroke-width="1.4" stroke-linecap="round" fill="none"/>
<path d="M305.1 93.6h0M292.4 62.4h0M298 84h0M298.1 93.1h0M292.4 82.1h0M290.7 70.4h0M294.8 67.1h0M295.9 106.4h0M296.8 79.3h0M289.7 110.2h0M289.9 74.2h0M295.7 85h0M303.2 102.8h0M299.8 99.1h0M302.7 103.3h0M292.9 89.6h0M295.1 103.3h0M297.6 100.1h0M289.5 103.1h0M291.3 81.4h0M301.2 101.6h0M296.8 100.1h0M293.1 94.1h0M292.7 80.7h0M296.7 97.5h0M291.7 79.5h0M295.6 104.2h0M291.6 82.6h0M299.3 95.6h0M295.5 111.1h0M291.8 88.8h0M301.7 107.7h0M292 106.9h0M290 95h0M297.4 97.9h0M300.1 93.2h0M297.7 100.1h0M293.8 104.9h0M290.1 72.4h0M296.1 82.8h0M301.2 108.2h0M291.9 73.7h0M291.9 94.1h0M289.4 94h0M290.8 112h0M289.8 82h0M295.6 71.1h0M293.8 103h0M293.1 73.9h0M297.2 81.1h0M294.1 85.6h0M292.9 102.2h0M289.6 92.9h0M292.2 70.6h0M291.4 75.4h0M295.2 110.8h0M292.9 77.7h0M290.7 66.6h0M297.2 105h0M291.7 87.8h0M302.6 93.6h0M289.5 65.3h0M296.9 81.9h0M295 95.3h0M293 98.9h0M309 112.1h0M291.4 90h0M292.5 74.9h0M293 96.9h0M294.6 108.6h0M291.6 63.3h0M295.5 99.7h0M290.6 96.4h0M295.7 71.6h0M291.2 82.9h0M293.6 78.7h0M292.2 76.6h0M289.6 101.6h0M291.1 82.2h0M297.3 77.4h0M289.5 81.3h0M291.7 65.5h0M292.4 97.7h0M294.7 72.4h0M295.4 87.5h0M298.4 97.2h0M297.5 99.2h0M300 103.7h0M294.1 73.7h0M291.3 53h0M292.1 71.1h0M290.9 103.6h0M302.8 82.2h0M301.6 98.9h0M294.2 77.9h0M294.5 111.3h0M293.2 64.4h0M292.4 98.6h0M292.2 73.2h0M303.8 105.7h0M304.8 108.7h0M293.6 54.7h0M299.9 99.4h0M291.9 81.8h0M292.3 78.4h0M295.1 101h0M305.8 104.1h0M291.8 101.6h0M296 80.6h0M297.6 111.6h0M289.9 79.4h0M292.4 96.3h0M293.1 83.7h0M293.4 73.6h0M290 89.2h0M293 96.1h0M299.9 110h0M294.7 96.8h0M295.4 103.7h0M301.9 107.3h0M289.5 87.2h0M291.9 78.7h0M292 75.3h0M295 95.1h0M300.9 93h0M295.2 74.8h0M293.6 75.9h0M292 86.7h0M293 91.1h0M297 66.6h0M292.4 61.2h0M297.2 105.3h0M293.1 98.1h0M290.6 83.5h0M298.4 80.7h0M290.8 87.5h0M293.1 107.3h0M290.9 67.8h0M291 108h0M289.4 91h0M295.3 83.6h0M293.1 112.1h0M292.6 107h0M293.8 62.5h0M312 112.4h0M294.1 108.9h0M293.2 89.6h0M300.4 94.4h0M294 104.1h0M294.9 87h0M293.9 92.3h0M289.7 66.3h0M298.3 89.6h0M299.1 96.7h0M290.2 67.2h0M292 102.5h0M300.3 97.8h0M296.8 101.6h0M290.4 62.6h0M292.2 98h0M301.4 84.9h0M304.3 112.2h0M296.2 76.8h0M296.6 108h0M289.4 97.9h0M294.9 102.9h0M294.4 98.6h0M292.8 79.8h0M295.4 73.6h0M292.7 92.4h0M292.7 65.8h0M304.1 99.7h0M296.8 94.6h0M296.8 84.4h0M291 86.1h0M304 110.7h0M295.5 74.6h0M294.9 73.8h0M295 74.5h0M293.1 77.3h0M289.8 100.1h0M290.5 51.6h0M291.2 93.5h0M291.5 109.1h0M291.8 86.2h0M290.8 103.2h0M297.4 103.7h0M291.1 59.7h0M294.7 92.5h0M295.6 93.9h0M294.9 97.3h0M293.7 71.9h0M292.9 70.7h0M290 84.8h0M302.2 94.6h0M292.6 108.4h0M297.7 107h0M292.8 91.5h0M292.4 107.5h0M295.7 89.2h0M294.2 110.4h0M296.1 97.4h0M291.1 81.7h0M293.5 87.3h0M295.1 104.6h0M301.2 92.8h0M292 76.3h0M289.9 71.7h0M300.4 93.5h0M291.2 97.6h0M297.1 88.6h0M295.2 71.2h0M298 106.2h0M292.6 81.2h0M291.8 75.9h0M292.8 99.8h0M294.2 112h0M290.2 74.8h0M290.1 112.7h0M290.1 61.7h0M294.7 89.2h0M289.5 70.3h0M295.1 76.5h0M299 112h0M298.9 92.4h0M301.5 109.1h0M293.3 99.9h0M293.3 87.1h0M299.6 97.4h0M300.6 100h0M295.4 79.5h0M294.4 84.1h0M293.1 84.2h0M300.5 102.4h0M294 81.1h0M296.9 87.6h0M295.6 87.8h0M292 90.1h0M292.1 72h0M301 70.3h0M293.5 66.9h0M297.3 99.8h0M290.3 93.1h0M291.1 100.9h0M298.5 99.3h0M294.4 98.6h0M295.9 79.2h0M289.9 65.9h0M290.3 75.8h0M302.4 101.8h0M292.2 111.9h0M290.1 109h0M299.1 102.6h0M292.1 80.5h0M291.2 64.1h0M303.5 84.2h0M304.2 103h0M300.8 93.9h0M295.7 91.6h0M292.7 85.3h0M300.7 100.6h0M303.5 103.4h0M295.7 111.3h0M300 90.9h0M293 90.9h0M300 88h0M291.7 60.2h0M299.3 93.2h0M291.3 94.7h0M291.8 85.5h0M297.6 95.5h0M292.5 100.6h0M306.2 108.8h0M290.8 87.2h0M293.5 68.6h0M305.7 110.7h0M290.1 93.8h0M291.7 69h0M290.5 97.9h0M292.5 77.9h0M291.1 105.2h0M291.5 72.2h0M293.8 58.9h0M290.8 78.8h0M292.2 84.4h0M295.6 83h0M290 97.4h0M294.8 90.1h0M301.8 107.3h0M298.5 89.8h0M299.8 96.2h0M298.1 92.1h0M297.8 109.4h0M290.4 68.8h0M297.1 101.3h0M290.8 62.8h0M291.7 108.1h0M296.7 98.9h0M301.5 111.9h0M290 80.6h0M301.7 101.9h0M294.2 99.5h0M294.3 82.7h0M292 75.3h0M294.4 92.5h0M303.9 105.6h0M297.2 87.2h0M289.6 89.3h0M292.6 104.7h0M297.4 100.7h0M289.9 73.5h0M296.5 88.5h0M296.3 90.5h0M295.1 95h0M289.9 72.7h0M296.5 65.3h0M292.9 84.4h0M307.6 112.5h0M300.4 94.7h0M291.7 79.6h0M293.6 93.9h0M292.9 107.9h0M300.1 107h0M297.2 86.6h0M294.1 86h0M291.4 89h0M291 91.9h0M294.9 58.2h0M292.7 86.3h0M294.1 98.5h0M291.8 92h0M293.8 68.7h0M291.2 78.3h0M290.4 92h0M301.5 92.8h0M294.7 96.7h0M298.6 91.7h0M297.5 93.5h0M293 110.2h0M300.5 98.7h0M291.8 92.1h0M291.1 76.9h0M293.4 81.5h0M292.7 83.8h0M298.2 97.2h0M299.6 99.6h0M291.1 107.3h0M291 111.9h0M302.7 97.7h0M290.5 101.1h0M295.2 100.5h0M296.3 93.1h0M298.9 88.4h0M290.4 64.6h0M289.5 94.1h0M291.3 78.2h0M293.8 80.5h0M301 107.5h0M292.1 112.7h0M295.4 89h0M299.6 95.2h0M291.7 85.8h0M297.7 106.3h0M291.1 96.1h0M292 61.9h0M298 84.5h0M297.2 96.6h0M301.7 106.6h0M300.3 97h0M289.9 66.8h0M306.4 109.5h0M302.9 112.1h0M295.7 64h0M290.1 106.4h0M294.2 70.9h0M296.1 101.3h0M293 79.1h0M298 91.3h0M302.4 103.6h0M299 72.3h0M300.2 83.2h0M290 75.8h0M298 98.6h0M292.9 93.1h0M298.5 107.1h0M294.8 70.3h0M290.8 103.8h0M297.4 82.7h0M294.9 83.4h0M295.1 96.8h0M292 96.4h0M293 88.2h0M292.3 106.5h0M291.1 50h0M300.8 110h0M290.4 81.9h0M295.4 60.3h0M298.8 100.1h0M297.7 103.5h0M297.4 109.8h0M290.7 82.3h0M306 95.5h0M292.1 80.7h0M305.1 107.1h0M291 76.9h0M304.9 99.5h0M292.3 70.3h0M290.4 73.4h0M293.2 67.2h0M289.9 31.5h0M289.6 107h0M295.5 110.7h0M298.9 99.7h0M294.5 61h0M296 97.4h0M289.9 83.3h0M297.1 86.2h0M310.2 108.2h0M291 66.3h0M304.7 106h0M292.8 82.1h0M289.7 80h0M295.3 91.5h0M290.1 96.1h0M293.6 78.1h0M292.9 107.1h0M292.6 80.1h0M290.9 87.1h0M297.6 94h0M296.3 87.5h0M293.7 106.1h0M295.9 92.7h0M292.9 94.5h0M302.3 86.9h0M302.8 105.5h0M295 62.8h0M293 72.7h0M295.4 110h0M290.7 76h0M289.7 77.2h0M300.2 103.3h0M293.5 65h0M302.7 95.8h0M293.2 109.3h0M290.4 108.8h0M293.4 74.7h0M296.2 74.5h0M294 74.9h0M291.9 106.3h0M294.4 98.5h0M297 87.9h0M290.6 71.7h0M295.5 99.8h0M294.9 88.3h0M294 71.3h0M293.4 98.2h0M291 73.5h0M289.7 99.1h0M298.6 108h0M303.5 109.7h0M295.1 106.8h0M292.8 79.6h0M295.5 94.6h0M291.7 92.9h0M304.3 108.7h0M299.8 103.1h0M291.1 105.6h0M296.2 96.5h0M297.7 82.9h0M293 112.5h0M297.3 82.1h0M292.5 87.9h0M302 107.4h0M290.6 77.7h0M295.7 87.7h0M291.3 67.9h0M292.2 88.7h0M295.7 103.1h0M293.2 80h0M308.3 111.4h0M295 107.3h0M298.4 85.8h0M300.8 95.6h0M296 102h0M297.6 109.7h0M298.6 102.9h0M292 92.5h0M289.4 84h0M293.6 57.8h0M292.7 100.9h0M292.2 90.8h0M291.5 58.9h0M304 112.3h0M295.3 74.6h0M296.8 86.3h0M297.6 90.3h0M296.1 106.5h0M291 104.2h0M292.8 106.1h0M297.8 100.7h0M292.2 107.9h0M302.1 95.8h0M295 91.7h0M292.5 57.3h0M290.9 97.2h0M292.5 81.7h0M290.2 77.4h0M291 79h0M292.9 95.3h0M296.9 97.6h0M300.2 104.4h0M300.9 94.2h0M290.3 81.6h0M297 95.1h0M298.4 104.7h0M291.3 108.1h0M295 65.6h0M298.1 97.7h0M291 54h0M292.4 83h0M291.7 77.4h0M291.4 112h0M290.3 64.7h0M289.9 88.3h0M293.4 80.3h0M295 76.9h0M290.1 82h0M290.3 77.4h0M297.4 87.3h0M297.9 90.8h0M292.1 56h0M291.2 67.2h0M297.3 91.4h0M305 99.7h0M305.4 111.6h0M291.8 55.1h0M294.3 78.9h0M295 89.3h0M291.4 70.8h0M291.3 67.1h0M302.3 109.9h0M302.5 96h0M290.5 67.5h0M297.4 103.1h0M292.4 87.4h0M292.9 82.4h0M300.2 101.5h0M289.8 90.8h0M291.3 103.3h0M299.3 92.8h0M298.8 107.5h0M291 66.9h0M309.4 111.6h0M299.6 104h0M298.1 103.1h0M297.5 95.3h0M305.5 111.8h0M291.5 67h0M309.3 109.8h0M294.5 111.3h0M290.8 99.7h0M295.2 78.8h0M296.4 84.3h0M290 93h0M290.6 100.1h0M293.8 82.6h0M291.9 107.6h0M299.1 87.9h0M294.1 72.5h0M301.4 93.6h0M292.6 88.6h0M308.9 110.3h0M291.7 76h0M302 108.4h0M294.3 111.3h0M292.9 73.3h0M291.2 103.3h0M295.6 70.1h0M293.4 105.9h0M294.3 73.2h0M302.3 99h0M290.3 92.4h0M290.4 85.9h0M290.1 67.8h0M292.1 92.4h0M292.1 66.9h0M294.8 85.4h0M290.7 107.2h0M293.6 92.2h0M298.5 95h0M296.5 107.7h0M289.8 90.6h0M297.3 94.2h0M292.4 87.9h0M296.5 81.4h0M291.7 84.5h0M293.7 100.9h0M296.3 82.3h0M289.4 83h0M291.2 67.5h0M295.5 94.7h0M300.3 90.5h0M301.1 111.7h0M297.8 94.8h0M290.8 75.2h0M295.7 90.4h0M291 99.8h0M294.7 99h0M289.5 66.9h0M299.2 109.4h0M297.4 100.6h0M296 79.5h0M292.9 73.5h0M290.6 110.6h0M293 83.1h0M291.5 72.9h0M294.5 111.6h0M290.9 70.5h0M291.5 66.5h0M297.9 90.8h0M296.6 81.4h0M300.6 94.7h0M296.8 104.4h0M293.9 112.6h0M293.6 93.7h0M292.3 70.7h0M298.1 88.2h0M299.5 106.6h0M295.1 98.8h0M296.3 107.6h0M292.1 90h0M301.2 105.2h0M290.9 79.7h0M293.9 77.6h0M293.3 87.1h0M291.9 107.5h0M290.5 61.7h0M290.5 102.3h0M299 92.1h0M290.7 94h0M298.3 108.1h0M300.3 108.2h0M301.3 90.7h0M297.1 85.7h0M291.4 84.1h0M290.9 112.7h0M295.9 78.1h0M291.2 65.5h0M299.4 112.5h0M292.9 112.5h0M303.9 87.8h0M308.2 89.1h0M318.6 101.9h0M303.7 107.5h0M309.2 83.8h0M318.2 107.2h0M300.9 93.9h0M305.8 97.9h0M314.6 98.2h0M313.3 89.7h0M318.6 106.2h0M306.5 83.6h0M319.2 104.7h0M318.5 89.8h0M312.1 99.7h0M303.7 89.8h0M300.4 103.9h0M302.5 81.4h0M304.8 98.6h0M313.7 94.7h0M319 102.4h0M303.1 95h0M302.1 85h0M301.5 79.4h0M306.6 107h0M303.3 96.9h0M300.2 96.1h0M312.5 94.8h0M306.3 109h0M307.7 91.2h0M311.3 105.4h0M322.4 103h0M311.2 101.2h0M313.7 109.5h0M321.9 102.7h0M303.3 96.2h0M308.8 84.7h0M315.5 93.5h0M308.5 100.9h0M315.8 110.5h0M322.6 104h0M304.4 99.6h0M310.2 108.8h0M309 89h0M298.5 92.8h0M311.1 87.3h0M300.5 93.3h0M299.6 82.7h0M308.9 88.7h0M310.3 94.9h0M298.4 95.9h0M306.6 87.7h0M316.3 93.6h0M301.2 83.8h0M307 90.4h0M307.4 109.7h0M308.8 96.4h0M321.8 98.7h0M312.6 105h0M321.6 95h0M316.3 89.5h0M313.8 86.5h0M304.7 107.2h0M303.4 86h0M310 110.2h0M300.8 84h0M308.2 103.5h0M315.5 103.8h0M300.8 107.1h0M306.7 104.5h0M309.6 107.2h0M289.9 24.5h0M290.2 31.2h0M294.5 36.6h0M289.9 42h0M290.5 45.9h0M290.2 49h0M290.9 55.1h0M291.7 56.7h0M292.6 55.9h0M290.5 58.5h0M291.4 62.9h0M308 47.4h0M329.6 49h0M320.8 68.6h0M307.2 67.8h0M301 67.2h0M300.2 71.4h0M329.6 83.3h0M323.4 85.5h0M330.4 93.4h0M325 99.7h0M320.8 101.6h0M317.7 109.9h0M312.9 80.5h0M308.7 83.8h0M310 86.1h0M294.8 77.6h0M296.4 79.9h0" stroke="#e64b35" stroke-width="1.4" stroke-linecap="round" fill="none"/>
<path d="M283 20V114" stroke="#808080" stroke-width="2" stroke-dasharray="1 1" fill="none"/>
<path d="M293.5 20V114" stroke="#444" stroke-width="1" stroke-dasharray="1 1" fill="none"/>
<path d="M238 112.5H339" stroke="#444" stroke-width="1" stroke-dasharray="1 1" fill="none"/>
<rect x="237.3" y="19.5" width="102.3" height="94.7" fill="none" stroke="#000" stroke-width="0.9"/>
<text x="233.9" y="117.2" font-size="8.6" text-anchor="end">0</text>
<text x="233.9" y="109.3" font-size="8.6" text-anchor="end">5</text>
<text x="233.9" y="101.4" font-size="8.6" text-anchor="end">10</text>
<text x="233.9" y="93.5" font-size="8.6" text-anchor="end">15</text>
<text x="233.9" y="85.6" font-size="8.6" text-anchor="end">20</text>
<text x="233.9" y="77.7" font-size="8.6" text-anchor="end">25</text>
<text x="233.9" y="69.8" font-size="8.6" text-anchor="end">30</text>
<text x="233.9" y="62" font-size="8.6" text-anchor="end">35</text>
<text x="233.9" y="54.1" font-size="8.6" text-anchor="end">40</text>
<text x="233.9" y="46.2" font-size="8.6" text-anchor="end">45</text>
<text x="233.9" y="38.3" font-size="8.6" text-anchor="end">50</text>
<text x="233.9" y="30.4" font-size="8.6" text-anchor="end">55</text>
<text x="233.9" y="22.5" font-size="8.6" text-anchor="end">60</text>
<path d="M237.3 114.2h-2.6M237.3 106.3h-2.6M237.3 98.4h-2.6M237.3 90.5h-2.6M237.3 82.6h-2.6M237.3 74.7h-2.6M237.3 66.8h-2.6M237.3 59h-2.6M237.3 51.1h-2.6M237.3 43.2h-2.6M237.3 35.3h-2.6M237.3 27.4h-2.6M237.3 19.5h-2.6M237.3 114.2v2.2M247.5 114.2v2.2M257.8 114.2v2.2M268 114.2v2.2M278.2 114.2v2.2M288.5 114.2v2.2M298.7 114.2v2.2M308.9 114.2v2.2M319.1 114.2v2.2M329.4 114.2v2.2M339.6 114.2v2.2" stroke="#000" stroke-width=".8" fill="none"/>
<text x="233.6" y="123.9" font-size="8.6" text-anchor="middle">-10</text>
<text x="246.1" y="123.9" font-size="8.6" text-anchor="middle">-8</text>
<text x="256.6" y="123.9" font-size="8.6" text-anchor="middle">-6</text>
<text x="266.6" y="123.9" font-size="8.6" text-anchor="middle">-4</text>
<text x="276.9" y="123.9" font-size="8.6" text-anchor="middle">-2</text>
<text x="288.4" y="123.9" font-size="8.6" text-anchor="middle">0</text>
<text x="298.5" y="123.9" font-size="8.6" text-anchor="middle">2</text>
<text x="308.6" y="123.9" font-size="8.6" text-anchor="middle">4</text>
<text x="318.8" y="123.9" font-size="8.6" text-anchor="middle">6</text>
<text x="329" y="123.9" font-size="8.6" text-anchor="middle">8</text>
<text x="339.8" y="123.9" font-size="8.6" text-anchor="middle">10</text>
<text x="290" y="16.1" font-size="8.8" text-anchor="middle" textLength="64.6" lengthAdjust="spacingAndGlyphs">SICM vs Control</text>
<text x="286.8" y="136" font-size="8.8" text-anchor="middle">Log2FC</text>
<text font-size="8.8" text-anchor="middle" textLength="63.2" lengthAdjust="spacingAndGlyphs" transform="translate(218.6 63.2) rotate(-90)">-Log10(Padjust)</text>
<path d="M290.5 67.2L298.7 59.5" stroke="#222" stroke-width="0.8" fill="none"/>
<path d="M290.5 67.2h0M296 67.8h0" stroke="#222" stroke-width="1.6" stroke-linecap="round" fill="none"/>
<text x="305" y="58" font-size="9.2" textLength="24.8" lengthAdjust="spacingAndGlyphs" fill="#e8392b" font-weight="bold">LDHA</text>
<circle cx="343.7" cy="45.2" r="1.5" fill="#e64b35"/>
<text x="348.3" y="47.7" font-size="8.8" textLength="35.5" lengthAdjust="spacingAndGlyphs" fill="#222">up(1055)</text>
<circle cx="343.7" cy="55.5" r="1.5" fill="#4dbbd5"/>
<text x="348.3" y="57.1" font-size="8.8" textLength="52" lengthAdjust="spacingAndGlyphs" fill="#222">nosig(58732)</text>
<circle cx="343.7" cy="64.6" r="1.5" fill="#12a088"/>
<text x="348.3" y="66.4" font-size="8.8" textLength="46.5" lengthAdjust="spacingAndGlyphs" fill="#222">down(2916)</text>
<text x="408.8" y="8.9" font-size="10.4">C</text>
<rect x="445.3" y="12.7" width="8.3" height="3.9" fill="#d6d6d6" stroke="#000" stroke-width="0.7"/>
<text x="456.9" y="17.1" font-size="8.3" textLength="20.8" lengthAdjust="spacingAndGlyphs">CTRL</text>
<rect x="489.3" y="12.7" width="8.1" height="3.9" fill="#2cb4f1" stroke="#000" stroke-width="0.7"/>
<text x="500.7" y="17.1" font-size="8.3" textLength="22.6" lengthAdjust="spacingAndGlyphs">LDHA</text>
<text x="523.6" y="13.1" font-size="4.2" textLength="7.6" lengthAdjust="spacingAndGlyphs" font-style="italic">ΔMc</text>
<rect x="445.3" y="77.7" width="13.8" height="48.6" fill="#d6d6d6" stroke="#000" stroke-width="0.7"/>
<rect x="466.8" y="94.2" width="14.2" height="32.1" fill="#2cb4f1" stroke="#000" stroke-width="0.7"/>
<rect x="503.4" y="63.1" width="14.2" height="63.2" fill="#d6d6d6" stroke="#000" stroke-width="0.7"/>
<rect x="525.2" y="96.6" width="13.8" height="29.7" fill="#2cb4f1" stroke="#000" stroke-width="0.7"/>
<path d="M452.2 74.4V81.5M449.3 74.4h5.8M449.3 81.5h5.8" stroke="#000" stroke-width=".8" fill="none"/>
<path d="M473.9 89.8V97.9M471 89.8h5.8M471 97.9h5.8" stroke="#000" stroke-width=".8" fill="none"/>
<path d="M510.5 59.1V67.2M507.6 59.1h5.8M507.6 67.2h5.8" stroke="#000" stroke-width=".8" fill="none"/>
<path d="M532.1 94.2V98.5M529.2 94.2h5.8M529.2 98.5h5.8" stroke="#000" stroke-width=".8" fill="none"/>
<path d="M437.7 45.1V126.3H545.6" stroke="#000" stroke-width=".9" fill="none"/>
<text x="432.6" y="48.5" font-size="8.2" text-anchor="end">36</text>
<text x="432.6" y="64.5" font-size="8.2" text-anchor="end">34</text>
<text x="432.6" y="80.8" font-size="8.2" text-anchor="end">32</text>
<text x="432.6" y="97" font-size="8.2" text-anchor="end">30</text>
<text x="432.6" y="113" font-size="8.2" text-anchor="end">28</text>
<text x="432.6" y="129.2" font-size="8.2" text-anchor="end">26</text>
<path d="M437.7 45.5h-3.6M437.7 61.6h-3.6M437.7 77.8h-3.6M437.7 94h-3.6M437.7 110.1h-3.6M437.7 126.3h-3.6M462.4 126.3v2.4M520 126.3v2.4" stroke="#000" stroke-width=".9" fill="none"/>
<text x="463" y="136.9" font-size="8.9" text-anchor="middle" textLength="38.8" lengthAdjust="spacingAndGlyphs">LPS(Sed)</text>
<text x="522.2" y="136.9" font-size="8.9" text-anchor="middle" textLength="38.8" lengthAdjust="spacingAndGlyphs">LPS(Exe)</text>
<path d="M451.9 67.9h0M451.5 70h0M452.1 76.6h0M452 80h0M451.7 83.2h0M452 87.1h0M473.9 82.8h0M473.9 94.6h0M474.2 96.3h0M473.6 102.9h0M510.2 53.2h0M511 55.2h0M509.9 64h0M509.5 65.6h0M510 66h0M510.7 75.5h0M531.8 88h0M532.1 90.2h0M532.3 93h0M531.6 95.2h0M532.3 97.4h0M531.9 99.6h0M531.7 101.8h0M531.9 105h0" stroke="#000" stroke-width="1.9" stroke-linecap="round" fill="none"/>
<path d="M452.1 30.4L509.5 30.4" stroke="#111" stroke-width="0.9" fill="none"/>
<text x="458.7" y="28.5" font-size="8.6" textLength="47.9" lengthAdjust="spacingAndGlyphs"><tspan font-style="italic">P</tspan>=2.0x10<tspan font-size="5.4" dy="-3.2">−2</tspan></text>
<path d="M474 39L531.4 39" stroke="#111" stroke-width="0.9" fill="none"/>
<text x="500.7" y="36.8" font-size="8.6" textLength="8.1" lengthAdjust="spacingAndGlyphs">ns</text>
<path d="M510.1 50.4L531.4 50.4" stroke="#111" stroke-width="0.9" fill="none"/>
<text x="498.5" y="48.2" font-size="8.6" textLength="47.1" lengthAdjust="spacingAndGlyphs"><tspan font-style="italic">P</tspan>=2.0x10<tspan font-size="5.4" dy="-3.2">−5</tspan></text>
<path d="M452.1 65L473.4 65" stroke="#111" stroke-width="0.9" fill="none"/>
<text x="442.9" y="62.4" font-size="8.6" textLength="46.9" lengthAdjust="spacingAndGlyphs"><tspan font-style="italic">P</tspan>=1.6x10<tspan font-size="5.4" dy="-3.2">−2</tspan></text>
<text font-size="8.8" text-anchor="middle" textLength="93" lengthAdjust="spacingAndGlyphs" transform="translate(418 84.8) rotate(-90)">Body temperature (˚C)</text>
<text x="557.9" y="8.9" font-size="10.4">D</text>
<rect x="591.6" y="14.3" width="6.9" height="3.7" fill="#d6d6d6" stroke="#000" stroke-width="0.7"/>
<text x="601.2" y="18.4" font-size="8.3" textLength="21.9" lengthAdjust="spacingAndGlyphs">CTRL</text>
<rect x="629.2" y="14.3" width="6.8" height="3.7" fill="#2cb4f1" stroke="#000" stroke-width="0.7"/>
<text x="639" y="18.4" font-size="8.3" textLength="22" lengthAdjust="spacingAndGlyphs">LDHA</text>
<text x="661.3" y="14.4" font-size="4.2" textLength="7.6" lengthAdjust="spacingAndGlyphs" font-style="italic">ΔMc</text>
<rect x="594.2" y="88.2" width="11.8" height="37.9" fill="#d6d6d6" stroke="#000" stroke-width="0.7"/>
<rect x="612.7" y="100.3" width="11.9" height="25.8" fill="#2cb4f1" stroke="#000" stroke-width="0.7"/>
<rect x="643.3" y="76.2" width="12.2" height="49.9" fill="#d6d6d6" stroke="#000" stroke-width="0.7"/>
<rect x="662" y="93.2" width="12" height="32.9" fill="#2cb4f1" stroke="#000" stroke-width="0.7"/>
<path d="M600.1 85V91.4M597.2 85h5.8M597.2 91.4h5.8" stroke="#000" stroke-width=".8" fill="none"/>
<path d="M618.6 92.5V107.6M615.7 92.5h5.8M615.7 107.6h5.8" stroke="#000" stroke-width=".8" fill="none"/>
<path d="M649.4 74.2V77.9M646.5 74.2h5.8M646.5 77.9h5.8" stroke="#000" stroke-width=".8" fill="none"/>
<path d="M668 89.3V96.8M665.1 89.3h5.8M665.1 96.8h5.8" stroke="#000" stroke-width=".8" fill="none"/>
<path d="M586.9 57V126.1H680.9" stroke="#000" stroke-width=".9" fill="none"/>
<text x="581.9" y="60.4" font-size="8.2" text-anchor="end">96</text>
<text x="581.9" y="72.9" font-size="8.2" text-anchor="end">94</text>
<text x="581.9" y="85.4" font-size="8.2" text-anchor="end">92</text>
<text x="581.9" y="97.9" font-size="8.2" text-anchor="end">90</text>
<text x="581.9" y="110.2" font-size="8.2" text-anchor="end">88</text>
<text x="581.9" y="122.8" font-size="8.2" text-anchor="end">86</text>
<path d="M586.9 57.4h-3.6M586.9 69.9h-3.6M586.9 82.4h-3.6M586.9 94.9h-3.6M586.9 107.3h-3.6M586.9 119.8h-3.6M609.3 126.1v2.4M658.8 126.1v2.4" stroke="#000" stroke-width=".9" fill="none"/>
<text x="607.1" y="137" font-size="8.9" text-anchor="middle" textLength="38.8" lengthAdjust="spacingAndGlyphs">LPS(Sed)</text>
<text x="657.3" y="137" font-size="8.9" text-anchor="middle" textLength="38.8" lengthAdjust="spacingAndGlyphs">LPS(Exe)</text>
<path d="M600.5 79.6h0M599.8 82.8h0M600.4 86h0M600.3 89.3h0M599.7 95.7h0M600.4 99h0M618.6 86h0M618.7 92.5h0M618.1 100.5h0M618.4 120.5h0M649.6 70.4h0M649.2 75.3h0M649.7 77h0M649.6 78.5h0M649.6 80.7h0M667.9 80.7h0M668 83.5h0M668.3 87.1h0M668.5 89.9h0M667.9 92.9h0M668.2 96.2h0M668.1 100.7h0M667.8 109.3h0" stroke="#000" stroke-width="1.9" stroke-linecap="round" fill="none"/>
<path d="M599.8 37.4L649.8 37.4" stroke="#111" stroke-width="0.9" fill="none"/>
<text x="601.2" y="34.7" font-size="8.6" textLength="48" lengthAdjust="spacingAndGlyphs"><tspan font-style="italic">P</tspan>=1.0x10<tspan font-size="5.4" dy="-3.2">−2</tspan></text>
<path d="M618.6 50.1L667.6 50.1" stroke="#111" stroke-width="0.9" fill="none"/>
<text x="639" y="48" font-size="8.6" textLength="8.8" lengthAdjust="spacingAndGlyphs">ns</text>
<path d="M649.8 64.2L667.6 64.2" stroke="#111" stroke-width="0.9" fill="none"/>
<text x="635.5" y="61.9" font-size="8.6" textLength="47.1" lengthAdjust="spacingAndGlyphs"><tspan font-style="italic">P</tspan>=5.4x10<tspan font-size="5.4" dy="-3.2">−3</tspan></text>
<path d="M599.8 74.7L619 74.7" stroke="#111" stroke-width="0.9" fill="none"/>
<text x="604.5" y="72.1" font-size="8.6" textLength="9.7" lengthAdjust="spacingAndGlyphs">ns</text>
<text font-size="8.8" text-anchor="middle" textLength="80.6" lengthAdjust="spacingAndGlyphs" transform="translate(569.3 88.7) rotate(-90)">Starting weight (%)</text>
<text x="-0.2" y="157.6" font-size="10.4">E</text>
<text x="59" y="173.6" font-size="8.9" text-anchor="middle" textLength="38.7" lengthAdjust="spacingAndGlyphs">LPS(Sed)</text>
<text x="134.9" y="173.6" font-size="8.9" text-anchor="middle" textLength="38" lengthAdjust="spacingAndGlyphs">LPS(Exe)</text>
<text font-size="8.6" text-anchor="middle" textLength="23.2" lengthAdjust="spacingAndGlyphs" transform="translate(11.6 198.6) rotate(-90)">CTRL</text>
<g transform="translate(11.6 259.3) rotate(-90)">
<text x="0" y="0" font-size="8.6" textLength="20.1" lengthAdjust="spacingAndGlyphs">LDHA</text>
<text x="20.5" y="-4" font-size="4.2" textLength="8.5" lengthAdjust="spacingAndGlyphs" font-style="italic">ΔMc</text>
</g>
<g clip-path="url(#ce1)"><g filter="url(#ec1)">
<rect x="10.4" y="174.9" width="87.5" height="49.2" fill="#050505"/>
<rect x="10.4" y="177.9" width="87.5" height="4.6" fill="rgb(62,62,62)"/>
<rect x="10.4" y="181.3" width="87.5" height="1.2" fill="rgb(110,110,110)"/>
<rect x="10.4" y="182.5" width="87.5" height="8.1" fill="rgb(34,34,34)"/>
<path d="M25.2 180.5h13.6M68.3 179.2h5.3M54.7 180.4h6.7M31.7 180.9h10.8M48.6 181.4h13.8" stroke="rgb(144,144,144)" stroke-width=".7" fill="none" opacity=".8"/>
<path d="M65.8 180h5.4M57.2 177.9h4.7M67.5 181h3.1M76.9 181.5h4.5M89.5 178.3h5.8M64.9 178.3h12.8M27.5 178.1h3.7M47.7 179.9h6.3" stroke="rgb(80,80,80)" stroke-width=".7" fill="none" opacity=".8"/>
<path d="M25.1 178.2h4M38.3 180.3h3.2M84.2 180.1h6.4M38.3 178h13.4M18.7 181.7h10.8M20.5 181.9h13.5M14.2 179.4h9M13.4 179.5h6.1M20.8 180.7h11.2" stroke="rgb(128,128,128)" stroke-width=".7" fill="none" opacity=".8"/>
<path d="M49.2 179.5h6.6M79.6 178.4h10.5M66.3 179.7h3.1M14.1 178.7h4.7M39.8 181.2h10.2M82.5 180.7h8M29 181.5h6M56 180.9h4.4" stroke="rgb(112,112,112)" stroke-width=".7" fill="none" opacity=".8"/>
<path d="M26.4 179.7h7.7M42.5 181.9h7.2M72.3 181.5h12.8M93.3 178.4h12.9M67.1 179.2h12.8M38 178.4h7.1M66.9 180.9h10.6M66.9 179.3h11.1M94.3 178.1h11.1M44 178.2h8" stroke="rgb(96,96,96)" stroke-width=".7" fill="none" opacity=".8"/>
<path d="M68.3 183h5.9M21.1 188.3h10.8M29 184.6h5.4M11.7 186h5.1M11.9 183.4h9.7M60.5 190.3h13.9M13.6 183.6h6.2M34.1 190.3h5.6M34.8 182.8h12.9M21.5 184.1h4.8M84.9 189.8h11.3M75.7 184h5.5M85.6 182.8h4.4M67.9 184h11.7M92.4 184.6h11M42.8 184.7h11.3M33.1 188h9.9M13.9 186h4.1M55.2 183.3h12.7M83.3 188.7h12.4M91.3 186.5h11.1M13.1 189.7h11.2M30.5 182.6h10.9M14.9 188.9h5.8M83 184.4h6.5M38.7 187.1h12.7M9.4 188.1h4.2M84 189.5h5.8M26.5 189.8h4.2M19.5 183.9h9.6M61.6 189.8h9.8M85.8 184.1h12.5M50.3 188h4.7M51.3 183.9h11.3M84.4 184.4h6.5M69.1 186h3.4M77.7 186.4h7M13.4 190.1h11.7" stroke="rgb(48,48,48)" stroke-width=".7" fill="none" opacity=".8"/>
<path d="M92.9 188h11.8M28.5 183.3h5.1M87.9 188.2h8.6M58.3 189.6h8.3M73.7 189.8h13.3M64.1 187.7h10.5M13.2 189.2h10.4M40.5 187.7h12.4M12.2 190h3.6M54.3 182.9h10.8M90 183.6h5.7M80.2 188.9h4.8M56.2 190.2h11M56.8 183.6h12.1M51.6 183.7h6.4M45.1 183.8h11.7M36.3 182.6h4.7M58 185h6.2M83.9 187.9h12.6M23.3 188.7h3.6M91.6 184.1h8.7" stroke="rgb(32,32,32)" stroke-width=".7" fill="none" opacity=".8"/>
<path d="M59.2 188.3h10.3M89.3 187.2h6.7M56.7 185.6h4.7M89.6 188.8h9.8M93.7 183.5h12.2M88 186.4h7.6M33.3 186.9h9.2M22.2 189.5h10.9M92.8 189.9h4.7M25.8 188.2h12.6M32.2 184.9h5.4" stroke="rgb(64,64,64)" stroke-width=".7" fill="none" opacity=".8"/>
<path d="M10.7 191.1L12 191.3L13.4 191.3L14.8 191.4L16.1 191.4L17.5 191.4L18.8 191.3L20.2 191.2L21.6 191L22.9 190.9L24.3 190.7L25.6 190.5L27 190.2L28.3 190L29.7 189.9L31.1 190.1L32.4 190.4L33.8 190.6L35.1 190.8L36.5 191L37.9 191.1L39.2 191.3L40.6 191.3L41.9 191.4L43.3 191.4L44.6 191.4L46 191.3L47.4 191.2L48.7 191L50.1 190.9L51.4 190.6L52.8 190.4L54.1 190.2L55.5 189.9L56.9 189.9L58.2 190.2L59.6 190.4L60.9 190.6L62.3 190.8L63.7 191L65 191.2L66.4 191.3L67.7 191.4L69.1 191.4L70.5 191.4L71.8 191.4L73.2 191.3L74.5 191.2L75.9 191L77.2 190.8L78.6 190.6L80 190.4L81.3 190.2L82.7 189.9L84 189.9L85.4 190.2L86.8 190.4L88.1 190.7L89.5 190.9L90.8 191L92.2 191.2L93.5 191.3L94.9 191.4L96.3 191.4L97.6 191.4L97.6 203.8L96.3 203.8L94.9 203.7L93.5 203.5L92.2 203.1L90.8 202.7L89.5 202.2L88.1 201.6L86.8 200.9L85.4 200.2L84 199.4L82.7 199.3L81.3 200.1L80 200.8L78.6 201.5L77.2 202.1L75.9 202.6L74.5 203.1L73.2 203.4L71.8 203.7L70.5 203.8L69.1 203.8L67.7 203.7L66.4 203.4L65 203.1L63.7 202.7L62.3 202.1L60.9 201.5L59.6 200.8L58.2 200.1L56.9 199.4L55.5 199.4L54.1 200.1L52.8 200.9L51.4 201.5L50.1 202.2L48.7 202.7L47.4 203.1L46 203.5L44.6 203.7L43.3 203.8L41.9 203.8L40.6 203.6L39.2 203.4L37.9 203L36.5 202.6L35.1 202L33.8 201.4L32.4 200.7L31.1 200L29.7 199.3L28.3 199.5L27 200.2L25.6 201L24.3 201.6L22.9 202.2L21.6 202.7L20.2 203.2L18.8 203.5L17.5 203.7L16.1 203.8L14.8 203.8L13.4 203.6L12 203.4L10.7 203Z" fill="rgb(4,4,4)"/>
<path d="M10.7 204.5L12 204.9L13.4 205.1L14.8 205.3L16.1 205.3L17.5 205.2L18.8 205L20.2 204.7L21.6 204.2L22.9 203.7L24.3 203.1L25.6 202.5L27 201.7L28.3 201L29.7 200.8L31.1 201.5L32.4 202.2L33.8 202.9L35.1 203.5L36.5 204.1L37.9 204.5L39.2 204.9L40.6 205.1L41.9 205.3L43.3 205.3L44.6 205.2L46 205L47.4 204.6L48.7 204.2L50.1 203.7L51.4 203L52.8 202.4L54.1 201.6L55.5 200.9L56.9 200.9L58.2 201.6L59.6 202.3L60.9 203L62.3 203.6L63.7 204.2L65 204.6L66.4 204.9L67.7 205.2L69.1 205.3L70.5 205.3L71.8 205.2L73.2 204.9L74.5 204.6L75.9 204.1L77.2 203.6L78.6 203L80 202.3L81.3 201.6L82.7 200.8L84 200.9L85.4 201.7L86.8 202.4L88.1 203.1L89.5 203.7L90.8 204.2L92.2 204.6L93.5 205L94.9 205.2L96.3 205.3L97.6 205.3L97.6 211.7L96.3 211.7L94.9 211.7L93.5 211.6L92.2 211.5L90.8 211.3L89.5 211.2L88.1 211L86.8 210.7L85.4 210.5L84 210.2L82.7 210.2L81.3 210.5L80 210.7L78.6 210.9L77.2 211.1L75.9 211.3L74.5 211.5L73.2 211.6L71.8 211.7L70.5 211.7L69.1 211.7L67.7 211.7L66.4 211.6L65 211.5L63.7 211.3L62.3 211.1L60.9 210.9L59.6 210.7L58.2 210.5L56.9 210.2L55.5 210.2L54.1 210.5L52.8 210.7L51.4 210.9L50.1 211.2L48.7 211.3L47.4 211.5L46 211.6L44.6 211.7L43.3 211.7L41.9 211.7L40.6 211.6L39.2 211.6L37.9 211.4L36.5 211.3L35.1 211.1L33.8 210.9L32.4 210.7L31.1 210.4L29.7 210.2L28.3 210.3L27 210.5L25.6 210.8L24.3 211L22.9 211.2L21.6 211.3L20.2 211.5L18.8 211.6L17.5 211.7L16.1 211.7L14.8 211.7L13.4 211.6L12 211.6L10.7 211.4Z" fill="rgb(52,52,52)"/>
<path d="M58.7 208.2h12.7M52.4 205.2h11.6M15.4 208.9h8.9M44.3 204.6h9.3M75.2 206.3h3.8M91.9 203.4h11.1M84.8 209.3h5.2M57.2 203.9h8M82 208.8h11.4M13.1 204.2h11.8M25.3 208.4h11.6M56.5 205.7h9M91.5 209.9h11.8M45.1 209.3h10.8M89.9 208.1h3.7M51.3 203.4h5.7M78.4 206h4M70.5 206.5h11.6M59.7 209.3h4.3M53.3 204.4h4.3M21.7 207.4h6.1M18.5 209.3h3.8M36.5 205.7h5.2M26.2 202.3h9.7M76.1 208.6h7.6M31.9 204.1h8.4M90.8 206.7h8.9M62.9 202.3h7.9M93.3 209.6h3.3M38.9 202.3h7M63.6 203.1h12.8M47 207.5h11.2M77.7 208.4h12M39 205h13.1" stroke="rgb(48,48,48)" stroke-width=".7" fill="none" opacity=".8"/>
<path d="M10.8 207.4h5M27.5 202h10.7M58.6 204.2h3.9M50.7 202.1h4.2M42.1 202.6h7.7M52.8 208h7.5M35.2 202h6.7M64.6 207.6h4.2M78.2 204.1h11.5M72.5 205.3h10.3M32.7 205.6h6M24 209.5h5.6M68.3 206.7h9.5M23.8 209.3h3.1M91.1 203.1h6M13.5 205.6h7M42.4 206h6.5M61.7 207.9h11.1M59.3 203.9h12.7M77.4 204.8h9.9M51 209.1h13.6M22.3 207.2h4.4M50 202.8h3.2M47.4 206.8h12.2M68.7 203.3h11.1M61.4 202.2h4.2" stroke="rgb(64,64,64)" stroke-width=".7" fill="none" opacity=".8"/>
<path d="M32.8 204.4h9.3M10.4 209.9h7.1M79.7 202.7h7.2M53.9 203.2h6.1M91.4 208.4h8.1M73.4 203.2h10.6M32.5 207.6h12.2M23 202.2h10.3M61.4 208.5h11.8M66.2 205.6h12.4M47.4 202.7h13.3M87.7 202.3h11M62.9 202.9h9.7M56.6 205.9h4.2M12.8 204.3h11.6M60.3 209.4h11.8M62 207.6h7.4M38 203.1h7.8M36.2 209.5h4.6M11.5 208h13.4M54.9 207.2h11.9M20 204.2h9.1M50.8 202.4h8.1M57 205.2h12.7M29.6 207.3h13.8M57 208.3h13.2M40.8 202.4h9.8M91.8 207.9h5.8M11.4 209.3h9.3M80.1 205.8h13.8M68.2 205.7h12.6M27.6 202.4h8.5M47.9 203.1h7.1M37.8 206.8h5.3M52.9 206.9h11.8M49.7 205.9h11.7M11 207.8h13.8M82.7 208.1h12M14 209.3h3.9M77.9 202.8h7.6M56 202.7h10.9M29.3 203.3h12.3M10 206h10.9M92.6 207.1h10M62.3 202.8h10.5" stroke="rgb(80,80,80)" stroke-width=".7" fill="none" opacity=".8"/>
<path d="M37 203.8h4.9M37.5 208.8h13.8M14.3 202.9h12.6M26.3 205.2h10.5M31.4 204h10.6M90.8 204.6h4.9M90 205.7h7.1M44.6 206.3h11.4M40.8 204.5h9M13.4 208.2h9.9M92.5 203.2h8.5M80.9 204.3h10.1M44.2 207.7h3.1M41.2 204.7h8.7M33.3 203.9h13.8" stroke="rgb(96,96,96)" stroke-width=".7" fill="none" opacity=".8"/>
<path d="M10.7 211.1L12 211.3L13.4 211.4L14.8 211.5L16.1 211.5L17.5 211.5L18.8 211.4L20.2 211.2L21.6 211L22.9 210.8L24.3 210.5L25.6 210.2L27 209.9L28.3 209.5L29.7 209.4L31.1 209.8L32.4 210.1L33.8 210.4L35.1 210.7L36.5 210.9L37.9 211.2L39.2 211.3L40.6 211.4L41.9 211.5L43.3 211.5L44.6 211.4L46 211.3L47.4 211.2L48.7 211L50.1 210.7L51.4 210.5L52.8 210.2L54.1 209.8L55.5 209.5L56.9 209.5L58.2 209.8L59.6 210.1L60.9 210.4L62.3 210.7L63.7 211L65 211.2L66.4 211.3L67.7 211.4L69.1 211.5L70.5 211.5L71.8 211.4L73.2 211.3L74.5 211.2L75.9 211L77.2 210.7L78.6 210.4L80 210.1L81.3 209.8L82.7 209.4L84 209.5L85.4 209.8L86.8 210.2L88.1 210.5L89.5 210.8L90.8 211L92.2 211.2L93.5 211.4L94.9 211.5L96.3 211.5L97.6 211.5L97.6 214.2L96.3 214.2L94.9 214.2L93.5 214.1L92.2 214L90.8 213.9L89.5 213.8L88.1 213.6L86.8 213.5L85.4 213.3L84 213.1L82.7 213.1L81.3 213.3L80 213.4L78.6 213.6L77.2 213.8L75.9 213.9L74.5 214L73.2 214.1L71.8 214.2L70.5 214.2L69.1 214.2L67.7 214.2L66.4 214.1L65 214L63.7 213.9L62.3 213.8L60.9 213.6L59.6 213.5L58.2 213.3L56.9 213.1L55.5 213.1L54.1 213.3L52.8 213.5L51.4 213.6L50.1 213.8L48.7 213.9L47.4 214L46 214.1L44.6 214.2L43.3 214.2L41.9 214.2L40.6 214.2L39.2 214.1L37.9 214L36.5 213.9L35.1 213.8L33.8 213.6L32.4 213.4L31.1 213.3L29.7 213.1L28.3 213.1L27 213.3L25.6 213.5L24.3 213.7L22.9 213.8L21.6 213.9L20.2 214L18.8 214.1L17.5 214.2L16.1 214.2L14.8 214.2L13.4 214.2L12 214.1L10.7 214Z" fill="rgb(225,225,225)"/>
<rect x="10.4" y="214.1" width="87.5" height="2.2" fill="rgb(255,255,255)"/>
<rect x="10.4" y="216.2" width="87.5" height="5.7" fill="rgb(92,92,92)"/>
<path d="M73.1 216.8h3.2M54.3 217.8h9.5M54.3 216.8h3.2M74.9 220.7h10.6M14.1 219.6h3.6M71.7 218.7h6.9M53.4 218.4h10.8M54.7 217.5h6.7M87.3 218.7h6.9" stroke="rgb(80,80,80)" stroke-width=".7" fill="none" opacity=".8"/>
<path d="M67.1 218.9h5.8M35.6 217.5h5.9M42.2 216.9h7.3M75.1 217.5h5M37.5 220h3.5M44.1 217.1h10.8M14.7 218.5h10M60.6 217.3h5.3M56.3 217.8h4.7" stroke="rgb(96,96,96)" stroke-width=".7" fill="none" opacity=".8"/>
<path d="M79.3 219.4h8.2M70.3 217.8h12M52.7 218.8h13.6M16.5 216.4h7.8M11.7 218.2h12.5M45.7 217.9h4.2M45.8 216.7h3.3M77.6 218.7h9" stroke="rgb(128,128,128)" stroke-width=".7" fill="none" opacity=".8"/>
<path d="M87.7 218.4h7.4M79.5 218h7.2M62.6 219.9h9.1M36.2 217.4h12.6M94.7 218.5h13.4M83.8 217.5h12.1M75.9 218.6h8.8M76.4 220h11.7M58.1 220h10.3M75.1 219.5h9.3M54.5 220.6h8.4M10.4 216.9h9.6" stroke="rgb(112,112,112)" stroke-width=".7" fill="none" opacity=".8"/>
<path d="M62.7 217.7h11.3M15.6 219.9h11.7M48.5 217.7h12.7M66.8 220.3h7.3M18.6 218.7h10.7M16.1 220.5h6M72.3 220.5h12.8M84 220.8h6M68.9 219.7h13.6M75.1 220.3h12.9" stroke="rgb(64,64,64)" stroke-width=".7" fill="none" opacity=".8"/>
<path d="M80 219.6h3.7M49.6 217.9h6.9" stroke="rgb(48,48,48)" stroke-width=".7" fill="none" opacity=".8"/>
</g></g>
<g clip-path="url(#ce2)"><g filter="url(#ec2)">
<rect x="93.4" y="174.9" width="86.6" height="49.2" fill="#050505"/>
<rect x="93.4" y="177.9" width="86.6" height="2" fill="rgb(30,30,30)"/>
<rect x="93.4" y="179.9" width="86.6" height="2" fill="rgb(85,85,85)"/>
<rect x="93.4" y="181.9" width="86.6" height="9" fill="rgb(40,40,40)"/>
<path d="M144.1 178.5h4.9M149.9 181.4h7.3M136.6 181.8h7.4M106.1 181.7h3.8M162.4 181.1h8.1M147 178.8h10.7M114.9 181.2h11.6M96.6 181.4h5.1M168.7 179h12.7" stroke="rgb(112,112,112)" stroke-width=".7" fill="none" opacity=".8"/>
<path d="M124.3 180.3h9.8M136.8 178.1h9.8M160.8 178.4h10.6M134.3 179.7h5.4M144.6 178.5h9.9M99.3 178.9h6.7M105.7 181.5h5.3M128.5 180.4h9.1M167.5 180.6h12.1M172.5 179.8h7.9M169.7 180.3h9.9M124.3 181.4h5.8M109.6 181.7h7.9M126.9 178.8h4.6M155 179.1h5.2M173.5 180.7h10M130 178.5h9.6M141.3 177.9h6.1M139 179.9h9.6" stroke="rgb(96,96,96)" stroke-width=".7" fill="none" opacity=".8"/>
<path d="M154.3 181.4h7.1M155.4 179.9h7.7M104.3 178.4h7.6M126.9 180.8h5.7M110.8 180.5h4M131.6 181.6h3.1" stroke="rgb(80,80,80)" stroke-width=".7" fill="none" opacity=".8"/>
<path d="M98.3 178.8h7.3M173.2 181.4h6.8M130.2 181.6h5.7M132.9 181.6h13.5M156 180.9h13.5" stroke="rgb(64,64,64)" stroke-width=".7" fill="none" opacity=".8"/>
<path d="M124.8 181.1h12.2" stroke="rgb(128,128,128)" stroke-width=".7" fill="none" opacity=".8"/>
<path d="M138.8 190.5h3.9M167.1 184h4.5M109 186.3h4.2M174.6 186.7h3.6M124.8 189.5h7.8M169.7 188h12.3M161.7 188h12M161 185.5h3.1M115.6 185.8h3.7M99.7 184.9h7.4M158.6 182.6h3.9M119.2 184.5h12.1M153.4 187.6h5.1M134.4 182h6.1M94.7 188.8h8.5M144.4 185h9M104.9 185.1h7M174.6 185.2h7.4M112.1 183.7h11.4M108.6 183.7h10.7M119.1 188.6h13.7M125.1 189.5h6.8M170.7 189.9h13.1M164 187.2h13.9M159.3 185.6h3.8M157.5 188.6h5.1M169.6 189.2h4M92.6 186.3h11.8M154.5 182.1h9.7M152.8 188.3h4.9M165.5 187.2h10.1M166 182h5.3M147.7 186.6h13.3M128.3 183.4h5M113 190.9h10.7M176.3 182.1h7.4" stroke="rgb(48,48,48)" stroke-width=".7" fill="none" opacity=".8"/>
<path d="M155.7 182.8h10.1M122.1 186.2h13.6M133.1 185h10.6M150.3 182.4h13.9M161 185.3h13.7M93.4 183.8h4.9M112.4 188.4h9.4M119.8 190.5h12.3M146.9 184.5h12.9M154.2 184.1h13.8M162.8 190.8h8.7M167.8 186.2h9.5M155.7 185.3h6.7M166.5 186.9h13.6M119.7 182.8h8.7M119.6 188.8h11.2M147.9 186.3h5.3M144.5 189.9h11.6M172 183.5h5.3M98.2 188.4h10.2M163.7 189.3h5.7" stroke="rgb(32,32,32)" stroke-width=".7" fill="none" opacity=".8"/>
<path d="M97.2 183.3h4.9M176.5 186h12.2M160.2 184.8h11.2M98.7 184.5h12.5M114.1 189.9h11.1M174.6 190.7h7.8M164.8 185.2h12.8M163.7 190.1h12.7M146.6 182.7h6.8M162.4 183.3h6.6M106.8 186.9h13.9M142.9 188.6h11.3M142.9 187.4h9.4M105.8 189.3h13M165.4 188.1h9.2M124.7 188.2h4.2M120.3 185.6h9M101.2 189.4h11.6M172 190.7h9.3M155.6 183h13.3M129.8 186.1h4.4M101.8 184.3h4.1M147.2 188.6h9.9" stroke="rgb(64,64,64)" stroke-width=".7" fill="none" opacity=".8"/>
<path d="M93.7 190.6L95.1 191.5L96.4 192.4L97.7 193L99.1 193.1L100.4 192.6L101.8 191.8L103.1 190.9L104.5 190.2L105.8 189.9L107.1 190.1L108.5 190.8L109.8 191.7L111.2 192.6L112.5 193L113.9 193L115.2 192.5L116.6 191.6L117.9 190.7L119.2 190.1L120.6 189.9L121.9 190.2L123.3 191L124.6 191.9L126 192.7L127.3 193.1L128.6 193L130 192.3L131.3 191.5L132.7 190.6L134 190L135.4 189.9L136.7 190.4L138 191.2L139.4 192.1L140.7 192.8L142.1 193.1L143.4 192.9L144.8 192.2L146.1 191.3L147.4 190.4L148.8 190L150.1 190L151.5 190.5L152.8 191.4L154.2 192.3L155.5 192.9L156.8 193.1L158.2 192.8L159.5 192L160.9 191.1L162.2 190.3L163.6 189.9L164.9 190.1L166.3 190.7L167.6 191.6L168.9 192.4L170.3 193L171.6 193.1L173 192.6L174.3 191.8L175.7 190.9L177 190.2L178.3 189.9L179.7 190.1L179.7 196.4L178.3 196L177 196.4L175.7 197.5L174.3 198.9L173 200.1L171.6 200.7L170.3 200.6L168.9 199.8L167.6 198.5L166.3 197.2L164.9 196.2L163.6 196L162.2 196.6L160.9 197.8L159.5 199.1L158.2 200.3L156.8 200.8L155.5 200.5L154.2 199.5L152.8 198.2L151.5 196.9L150.1 196.1L148.8 196.1L147.4 196.8L146.1 198L144.8 199.4L143.4 200.4L142.1 200.8L140.7 200.4L139.4 199.3L138 197.9L136.7 196.7L135.4 196L134 196.2L132.7 197L131.3 198.3L130 199.7L128.6 200.6L127.3 200.8L126 200.2L124.6 199L123.3 197.6L121.9 196.5L120.6 196L119.2 196.3L117.9 197.3L116.6 198.6L115.2 199.9L113.9 200.7L112.5 200.7L111.2 200L109.8 198.7L108.5 197.4L107.1 196.3L105.8 196L104.5 196.4L103.1 197.5L101.8 198.9L100.4 200.1L99.1 200.8L97.7 200.6L96.4 199.8L95.1 198.4L93.7 197.1Z" fill="rgb(4,4,4)"/>
<path d="M93.7 197.6L95.1 198.9L96.4 200.3L97.7 201.1L99.1 201.3L100.4 200.6L101.8 199.4L103.1 198L104.5 196.9L105.8 196.5L107.1 196.8L108.5 197.9L109.8 199.2L111.2 200.5L112.5 201.2L113.9 201.2L115.2 200.4L116.6 199.1L117.9 197.8L119.2 196.8L120.6 196.5L121.9 197L123.3 198.1L124.6 199.5L126 200.7L127.3 201.3L128.6 201.1L130 200.2L131.3 198.8L132.7 197.5L134 196.7L135.4 196.5L136.7 197.2L138 198.4L139.4 199.8L140.7 200.9L142.1 201.3L143.4 200.9L144.8 199.9L146.1 198.5L147.4 197.3L148.8 196.6L150.1 196.6L151.5 197.4L152.8 198.7L154.2 200L155.5 201L156.8 201.3L158.2 200.8L159.5 199.6L160.9 198.3L162.2 197.1L163.6 196.5L164.9 196.7L166.3 197.7L167.6 199L168.9 200.3L170.3 201.1L171.6 201.2L173 200.6L174.3 199.4L175.7 198L177 196.9L178.3 196.5L179.7 196.9L179.7 210.4L178.3 210.3L177 210.4L175.7 210.7L174.3 211L173 211.3L171.6 211.5L170.3 211.5L168.9 211.2L167.6 210.9L166.3 210.6L164.9 210.4L163.6 210.3L162.2 210.4L160.9 210.7L159.5 211.1L158.2 211.4L156.8 211.5L155.5 211.4L154.2 211.2L152.8 210.8L151.5 210.5L150.1 210.3L148.8 210.3L147.4 210.5L146.1 210.8L144.8 211.2L143.4 211.4L142.1 211.5L140.7 211.4L139.4 211.1L138 210.8L136.7 210.5L135.4 210.3L134 210.3L132.7 210.6L131.3 210.9L130 211.2L128.6 211.4L127.3 211.5L126 211.3L124.6 211.1L123.3 210.7L121.9 210.4L120.6 210.3L119.2 210.4L117.9 210.6L116.6 211L115.2 211.3L113.9 211.5L112.5 211.5L111.2 211.3L109.8 211L108.5 210.6L107.1 210.4L105.8 210.3L104.5 210.4L103.1 210.7L101.8 211L100.4 211.3L99.1 211.5L97.7 211.5L96.4 211.2L95.1 210.9L93.7 210.6Z" fill="rgb(55,55,55)"/>
<path d="M127.6 201.7h4.3M110.3 208.2h7.2M130.7 202.8h9.3M120.7 210.1h9.9M131.7 205h6.1M171 208.1h13.4M100.8 199.7h6.8M157.7 202.2h13.3M124.1 202.3h4.7M151 210.1h9.5M151.7 202.2h8.8M165.5 206.1h10.1M97.3 210.4h3.9M101.2 209.6h8.1M108.4 208.5h5.6M92.3 203.1h7.7M157.9 210.7h9.4M93.4 201.1h13.5M175.3 209.7h4M115 207.8h3.4M102.4 204.1h6.7M120 204.5h12.6M161.8 205.6h3.7M120.4 203.9h5.1M92.2 206.3h4.4M173.9 207.5h13.8M172.2 207.5h10.6M120.3 203.4h9.6M170.9 209.8h5.2M152.4 209.6h13.6M172.4 209.4h6.6M159.9 204.7h9.8M98.3 206h10.3M113.6 203.1h5.3" stroke="rgb(96,96,96)" stroke-width=".7" fill="none" opacity=".8"/>
<path d="M97.6 199.4h11M171.9 202.8h10.7M171.6 207.4h12.6M125.7 207.7h9M136.1 207.4h8M160.8 209.5h5.7M140 201.3h11.2M97 208.8h11.5M122.5 203.4h10.8M128.6 209.4h10M177 203.7h8.6M157.8 204.3h6.9M170.4 208.3h12.5M134.8 209.4h12.2M93.7 200.6h8.4M116.7 210.3h9.2M165.5 203.4h4.7M165.1 205.7h3.4M105.5 207.6h3.4M166.1 206.9h11.1M103.2 204.1h4.2M100.2 201.1h9.4M93.6 204.8h4.5M102.4 201h7.7M163.2 208h4.4M97.7 203.5h12.7M138 210.1h7.4M134 202.7h4.1M151.9 201h13.6M122.6 205.5h6.9M156.4 208.3h7.8M107.2 206.3h8.4M106 205.9h4.9M92.6 207.6h10.4M95.7 204.7h4.9M174.2 209.2h12.2M102 209.5h6.3M175.9 209h4.1M108 205.8h12.5M141.3 209.3h13.8M114.4 201.7h10.3M124.3 208.5h9.7M174.4 200.1h12.7M139.7 202.7h8.5M122.6 199.3h4.5M99.9 210.9h3.1M146.6 208.8h8.6M134.2 209.9h5.6M130.1 207h4.4M150.8 204.9h8.5M127.5 208.9h8.8M134.3 205.6h10.9M140.3 209.3h11.5M171.1 210.6h4.2M170.8 203.7h4.5M117.3 209.5h11M104.1 210.3h8.6M108.3 205.2h12.2M126.7 206.5h4.2M122.4 209.8h10.2M130.1 203.1h13.7M175.9 202.9h8.7M101.6 205.7h8.5" stroke="rgb(64,64,64)" stroke-width=".7" fill="none" opacity=".8"/>
<path d="M153.9 209.7h9.6M115.2 210.8h3.9M116 210.6h5.5M140.4 202.9h8.3M160.2 209.9h9.8M92.4 208.2h9.8M164.4 205.9h3.1M145.9 203.6h3.2M126.7 205.2h3.8M163.5 204.1h11.3M155.2 206.3h11.4M114 204.5h10.5M123.8 199.6h6.4M95.2 201.7h12.3M174.3 208.4h13.4M105.6 199.8h7.9M94.3 210.1h5.4M160.2 199.2h11.1M94 206h5.4M124.7 208.3h5.7M172.5 207.9h12.8M110.9 205.1h10.2M174.9 208.1h4.6M127.6 207h12.5M98.6 203.5h12.5M136.5 202.2h4.3M160.4 206h11.7M134.9 206.9h8.9M125.6 202.9h5.9M172.2 199.1h4.7M101.8 206.2h9.8M132.2 207.5h11.4M174 208.9h8.1M154 207.7h3.7M170.8 206h10M160.6 199.2h13.9M104.4 210.6h10.9M97.9 205h3.7M150.1 201h4.6M105 210.5h8.3M150.5 200.6h5.9M94.4 207.2h3.2M108 207.3h11.1M111.4 208.3h5.8M154.4 200.1h8.2M119.5 209.7h7.2M135.3 201.1h4M109.9 202.2h8.3M131.9 199h4.1M122.2 209.4h13.6M138.6 204.3h11.8M171.1 203.7h3.4M165 204.8h5.3M147.8 209.1h10.2M154.4 205.8h11.2M148.1 199.2h14" stroke="rgb(80,80,80)" stroke-width=".7" fill="none" opacity=".8"/>
<path d="M128.3 203.8h9.6M112.9 201.9h6M133.3 206.1h4.8M163.6 207.8h11.9M121 206.5h6.9M160.6 203.2h11.1M92.2 203.5h7.1M116.9 198.9h10.9M107.4 210.5h12.1M167.2 202.3h3.2M139.3 200.6h11.4M172.2 200.7h8.2M137.8 206.1h4.6M142.5 200.3h9.7M150.7 203.9h13.7M167.4 208.1h11.6M148.8 207.6h13.2M150.3 199.5h12.1M143.4 199.1h13.1M149.6 199.1h4M115.7 200.8h12M142.9 210.7h9.8M171 203.9h10.2M159.7 205.7h8.6M129.4 208.3h12M173.5 209.7h5.2M134.6 209.3h5.7M145.6 208.5h4.1M156.1 200.1h13.6M148.4 207.9h12.6M121.5 201.5h7.2M94 207.5h10.5M103.3 200.1h13.2M134.2 205.8h12.4M174.5 199.6h10.5M138.7 202.3h11.4M171.7 208.6h7.2M131 209h5.8M148.7 207h10.1M108.9 201.5h9.3" stroke="rgb(48,48,48)" stroke-width=".7" fill="none" opacity=".8"/>
<path d="M134.4 205.6h3.8M150.9 204.3h6.9M101.2 199.4h5.9M154.3 210.8h7.2M161 199.4h5.5M117.3 201h6.2M146 209.9h5" stroke="rgb(32,32,32)" stroke-width=".7" fill="none" opacity=".8"/>
<path d="M93.7 211.2L95.1 211.4L96.4 211.5L97.7 211.6L99.1 211.6L100.4 211.6L101.8 211.5L103.1 211.3L104.5 211.2L105.8 211L107.1 210.8L108.5 210.6L109.8 210.4L111.2 210.3L112.5 210.2L113.9 210.2L115.2 210.2L116.6 210.3L117.9 210.5L119.2 210.7L120.6 210.9L121.9 211.1L123.3 211.3L124.6 211.4L126 211.5L127.3 211.6L128.6 211.6L130 211.5L131.3 211.4L132.7 211.3L134 211.1L135.4 210.9L136.7 210.7L138 210.5L139.4 210.4L140.7 210.3L142.1 210.2L143.4 210.2L144.8 210.3L146.1 210.4L147.4 210.6L148.8 210.8L150.1 211L151.5 211.2L152.8 211.3L154.2 211.5L155.5 211.6L156.8 211.6L158.2 211.6L159.5 211.5L160.9 211.4L162.2 211.2L163.6 211L164.9 210.8L166.3 210.6L167.6 210.4L168.9 210.3L170.3 210.2L171.6 210.2L173 210.2L174.3 210.3L175.7 210.5L177 210.6L178.3 210.8L179.7 211L179.7 214.2L178.3 214.1L177 213.9L175.7 213.8L174.3 213.7L173 213.6L171.6 213.6L170.3 213.6L168.9 213.7L167.6 213.8L166.3 213.9L164.9 214L163.6 214.2L162.2 214.3L160.9 214.4L159.5 214.5L158.2 214.6L156.8 214.6L155.5 214.6L154.2 214.5L152.8 214.4L151.5 214.3L150.1 214.1L148.8 214L147.4 213.9L146.1 213.7L144.8 213.7L143.4 213.6L142.1 213.6L140.7 213.6L139.4 213.7L138 213.8L136.7 213.9L135.4 214.1L134 214.2L132.7 214.4L131.3 214.5L130 214.6L128.6 214.6L127.3 214.6L126 214.6L124.6 214.5L123.3 214.4L121.9 214.2L120.6 214.1L119.2 213.9L117.9 213.8L116.6 213.7L115.2 213.6L113.9 213.6L112.5 213.6L111.2 213.7L109.8 213.8L108.5 213.9L107.1 214L105.8 214.2L104.5 214.3L103.1 214.4L101.8 214.5L100.4 214.6L99.1 214.6L97.7 214.6L96.4 214.5L95.1 214.4L93.7 214.3Z" fill="rgb(250,250,250)"/>
<rect x="93.4" y="214.5" width="86.6" height="7.4" fill="rgb(58,58,58)"/>
<path d="M121.1 217.4h9.3M113.6 215.8h8.5M133.4 216.9h3.5M142.7 219.5h11.4M119.4 220.8h6.9M92.7 216.3h13M169.1 215h10.1M121.6 220.4h4.9M111.5 219.3h3.5M102 218.1h12.9M169 215.9h11M104 220.1h11.5M116.8 215h11.9M172.7 214.7h4M151.9 215.1h10.9M152.8 219.3h9.5M127.7 216.7h9.6" stroke="rgb(80,80,80)" stroke-width=".7" fill="none" opacity=".8"/>
<path d="M143 217.4h4.4M143.2 216.8h8.3M155.7 219.2h5.9M121.9 216.6h5.7M110.8 218.6h3.9M122.4 216.9h8.4M101 216.5h9.4M116.1 218.7h12.5M156.9 217.6h12.9M103.5 216.3h7.5M100.3 220.5h12.7M155 215.9h8M168.1 220.2h5.9M115.3 218.9h8.7M168.6 215.1h7M163.4 218.4h12.5M141 217h11.8M163.1 217.5h10.3M151.4 215.3h3.2M155.3 218.9h4.4M142.7 215.4h12.7M138.7 217.6h9.7M166.4 218.6h4.8M159 220.2h5.6M109.8 220.3h3.4M175.1 218.3h4.2M175 214.7h6" stroke="rgb(48,48,48)" stroke-width=".7" fill="none" opacity=".8"/>
<path d="M95 216.9h10.6M104.6 217.5h3.7M168.1 217.8h13.3M129 216.9h7.3M119.6 217.7h4.7M111.2 220.7h12.1M127.5 216.1h13.1M108.6 216.5h8.6M121.7 216.9h4.2M149.4 217.7h13.6M112 220.2h8.6M143.1 218.3h12.7M176 218.2h3.5M166.1 216.9h12M153.3 216.6h8.2" stroke="rgb(96,96,96)" stroke-width=".7" fill="none" opacity=".8"/>
<path d="M164.1 217.9h11.2M100.5 214.8h7.8M115 220.5h8.1M148.3 216.1h10.7M119.3 220.5h10.1M137.7 218.3h11.8M110.1 216.9h10.9M151.3 220h7.3M132.3 217h13.8M93 219.3h12.9M139.7 218.2h11M112.9 215.1h7.8M124.8 216.5h12.9M132.8 218.5h7.8M176.3 215.8h13.4M97.3 219.9h7.7M94.5 217.8h9M122.3 220.3h3.3M147.6 220.1h11.1M131.8 220.1h6.4" stroke="rgb(64,64,64)" stroke-width=".7" fill="none" opacity=".8"/>
<path d="M113.7 220.4h3.2M101.6 220.5h4.7M168.1 220.3h12.3M166.6 216.6h13.1M95.3 215.9h3.3M148.8 218.8h5.1M166.1 216.7h4.7M147.5 220h5.7M103.7 217.8h8.2M155.9 218.1h3.9M156.5 220.5h11.9" stroke="rgb(32,32,32)" stroke-width=".7" fill="none" opacity=".8"/>
</g></g>
<g clip-path="url(#ce3)"><g filter="url(#ec3)">
<rect x="10.4" y="220.1" width="87.5" height="49.2" fill="#050505"/>
<rect x="10.4" y="223.1" width="87.5" height="2.6" fill="rgb(85,85,85)"/>
<rect x="10.4" y="225.7" width="87.5" height="7.9" fill="rgb(34,34,34)"/>
<path d="M47.9 225.6h10.9M43.8 223.6h11.1M76.4 224.2h9.3M93.7 223.7h12.8M16.8 225.5h11.9M60 224.5h7.3M11.2 225.2h9.8M14.2 224.7h3.3M33.2 225.4h11" stroke="rgb(128,128,128)" stroke-width=".7" fill="none" opacity=".8"/>
<path d="M15.2 223.7h9.6M85.4 224.1h12.6M27.6 223.3h12.1M44.7 223.5h5.8" stroke="rgb(80,80,80)" stroke-width=".7" fill="none" opacity=".8"/>
<path d="M17.7 223.7h4.4M69.7 224.5h6.3M64.4 223.2h12.6M64.3 224.6h7.2" stroke="rgb(112,112,112)" stroke-width=".7" fill="none" opacity=".8"/>
<path d="M40.3 223.7h9.4M50.4 223.3h14M81.8 224.9h8.9" stroke="rgb(144,144,144)" stroke-width=".7" fill="none" opacity=".8"/>
<path d="M49.5 224.7h5.8M75.2 224.6h10.8M73.2 224.3h3.7M62.2 224.6h5.5M56.3 224h10.4M87.9 223.9h5M67.4 225.6h6.8M22.5 224.7h7.7M30.2 223.9h8.7M36.8 224.6h11.7" stroke="rgb(96,96,96)" stroke-width=".7" fill="none" opacity=".8"/>
<path d="M75.4 226.8h12.8M94.8 225.8h11.6M12.9 226.6h13.3M76.2 232.5h11.3M29.7 227.7h7.8M66.1 227.2h10.2M10.3 227.9h11.7M25.5 228.7h4.2M36.4 229.2h6.6M43 226.5h4.2M91.9 228.1h8.3M79.3 229.8h10.7M63.4 233.4h12.1M17.9 227.8h5.8M25.5 231h6.3M33.7 227.4h5.4M47 229.9h11.7M60.6 231.6h5.9M47.2 226.6h9.5M37.5 228.4h12.1M34.8 231.5h12.1M21.7 233.2h12.5M11.7 232.7h10.7M87 232.6h11M89.1 229.4h7.7M43.4 231.6h12M59.2 227h8.3M69 225.9h7.4" stroke="rgb(48,48,48)" stroke-width=".7" fill="none" opacity=".8"/>
<path d="M83.8 230h13.3M48.3 233.1h11.4M55.4 229.4h4M32.2 232h11" stroke="rgb(16,16,16)" stroke-width=".7" fill="none" opacity=".8"/>
<path d="M10 229.6h6.7M67 229.3h12.5M73.9 232h9.4M93.1 231.4h13.4M61.4 228h10.6M60.9 233.2h6.6M47.6 228.2h10.8M20.7 226h11.3M65.3 233.3h13.3M12.2 230.9h3.3M39.6 230h3.2M71.1 232.6h12M59.5 231.1h12.4M75.6 232.9h6.3M63.5 233.5h10.8M36 226.7h5.7M72.2 233.6h3.1M68.6 233.6h12.4M16.9 227.6h8.8M20.4 229.4h3.3M64.9 233h9.3M40.3 229.1h9.9M77.3 226.9h12.4M91.5 227.3h9.5M57.4 233.5h6.3M58.4 228.6h7.6M87.2 227.1h8.5M94.8 227.4h11.8" stroke="rgb(32,32,32)" stroke-width=".7" fill="none" opacity=".8"/>
<path d="M10.7 233.4L12 233.2L13.4 233.2L14.8 233.4L16.1 233.6L17.5 233.8L18.8 233.9L20.2 234L21.6 234.1L22.9 234.1L24.3 234.1L25.6 234L27 233.9L28.3 233.8L29.7 233.7L31.1 233.5L32.4 233.3L33.8 233.1L35.1 233.3L36.5 233.5L37.9 233.7L39.2 233.8L40.6 234L41.9 234L43.3 234.1L44.6 234.1L46 234.1L47.4 234L48.7 233.9L50.1 233.7L51.4 233.6L52.8 233.4L54.1 233.2L55.5 233.2L56.9 233.4L58.2 233.6L59.6 233.8L60.9 233.9L62.3 234L63.7 234.1L65 234.1L66.4 234.1L67.7 234L69.1 233.9L70.5 233.8L71.8 233.7L73.2 233.5L74.5 233.3L75.9 233.1L77.2 233.3L78.6 233.5L80 233.7L81.3 233.8L82.7 234L84 234L85.4 234.1L86.8 234.1L88.1 234.1L89.5 234L90.8 233.9L92.2 233.7L93.5 233.6L94.9 233.4L96.3 233.2L97.6 233.2L97.6 245.1L96.3 244.9L94.9 245.5L93.5 246L92.2 246.5L90.8 246.9L89.5 247.2L88.1 247.4L86.8 247.5L85.4 247.5L84 247.3L82.7 247.1L81.3 246.8L80 246.4L78.6 245.9L77.2 245.3L75.9 244.8L74.5 245.2L73.2 245.7L71.8 246.3L70.5 246.7L69.1 247L67.7 247.3L66.4 247.5L65 247.5L63.7 247.4L62.3 247.2L60.9 246.9L59.6 246.6L58.2 246.1L56.9 245.6L55.5 245L54.1 244.9L52.8 245.5L51.4 246L50.1 246.5L48.7 246.9L47.4 247.2L46 247.4L44.6 247.5L43.3 247.5L41.9 247.3L40.6 247.1L39.2 246.7L37.9 246.3L36.5 245.8L35.1 245.3L33.8 244.7L32.4 245.2L31.1 245.8L29.7 246.3L28.3 246.7L27 247.1L25.6 247.3L24.3 247.5L22.9 247.5L21.6 247.4L20.2 247.2L18.8 246.9L17.5 246.5L16.1 246.1L14.8 245.5L13.4 245L12 245L10.7 245.5Z" fill="rgb(4,4,4)"/>
<path d="M10.7 246.3L12 245.8L13.4 245.8L14.8 246.3L16.1 246.9L17.5 247.3L18.8 247.7L20.2 248L21.6 248.2L22.9 248.3L24.3 248.3L25.6 248.1L27 247.9L28.3 247.5L29.7 247.1L31.1 246.6L32.4 246L33.8 245.5L35.1 246.1L36.5 246.6L37.9 247.1L39.2 247.5L40.6 247.9L41.9 248.1L43.3 248.3L44.6 248.3L46 248.2L47.4 248L48.7 247.7L50.1 247.3L51.4 246.8L52.8 246.3L54.1 245.7L55.5 245.8L56.9 246.4L58.2 246.9L59.6 247.4L60.9 247.7L62.3 248L63.7 248.2L65 248.3L66.4 248.3L67.7 248.1L69.1 247.8L70.5 247.5L71.8 247.1L73.2 246.5L74.5 246L75.9 245.6L77.2 246.1L78.6 246.7L80 247.2L81.3 247.6L82.7 247.9L84 248.1L85.4 248.3L86.8 248.3L88.1 248.2L89.5 248L90.8 247.7L92.2 247.3L93.5 246.8L94.9 246.3L96.3 245.7L97.6 245.9L97.6 252L96.3 251.9L94.9 252.3L93.5 252.6L92.2 252.9L90.8 253.2L89.5 253.4L88.1 253.5L86.8 253.6L85.4 253.6L84 253.5L82.7 253.4L81.3 253.1L80 252.9L78.6 252.5L77.2 252.2L75.9 251.8L74.5 252.1L73.2 252.5L71.8 252.8L70.5 253.1L69.1 253.3L67.7 253.5L66.4 253.6L65 253.6L63.7 253.6L62.3 253.4L60.9 253.2L59.6 253L58.2 252.7L56.9 252.4L55.5 252L54.1 252L52.8 252.3L51.4 252.7L50.1 253L48.7 253.2L47.4 253.4L46 253.5L44.6 253.6L43.3 253.6L41.9 253.5L40.6 253.3L39.2 253.1L37.9 252.8L36.5 252.5L35.1 252.2L33.8 251.8L32.4 252.2L31.1 252.5L29.7 252.8L28.3 253.1L27 253.3L25.6 253.5L24.3 253.6L22.9 253.6L21.6 253.5L20.2 253.4L18.8 253.2L17.5 253L16.1 252.7L14.8 252.3L13.4 252L12 252L10.7 252.3Z" fill="rgb(50,50,50)"/>
<path d="M10.2 247.9h8.1M60.2 247h6.8M75.8 251.7h9.8M19.6 251.9h8.7M49.6 251h11M81 247h13.6M85.4 247.6h12.4M47.2 247.2h4.2M54.6 249.8h12.7M71.3 249.8h4.8M9.3 250.5h6.8M43.6 251h6.2M12.9 250.2h9.8M31.5 251h11.6M40.9 250.8h6M73.7 246.9h13.7M63.5 249.7h13.1M56.9 250.6h6.5M49.6 250.9h10.5M63.2 251.2h4.5M82.4 249.9h10.3" stroke="rgb(64,64,64)" stroke-width=".7" fill="none" opacity=".8"/>
<path d="M55.2 250.9h12.7M22.3 247.1h10M52.2 252h6.8M91.7 247.2h9.6M13.3 249.9h7.7M84.1 246.7h10.5M53.4 247.4h7.5M34.8 251.9h12.4M65.5 247.4h9.1M62.3 247h9.3M92.1 247.2h4.5M10.4 250h4M85.3 247.8h3.5M57.4 251.1h8M27.8 248.7h7M44.6 251.9h4M15.1 249.1h10.4M76.1 246.7h7.9M20.1 248.2h6.1M21.2 246.6h9.1M8.6 250.8h5.4M8.4 247.2h8.6M8.5 247.2h12.2M75.4 248.9h4.6M55 251.2h6M42.3 251.6h5.2M28.7 248.5h10.4M74.3 247.3h8.9M55.5 251h8.3" stroke="rgb(48,48,48)" stroke-width=".7" fill="none" opacity=".8"/>
<path d="M43.3 247.3h10.2M52.6 249.5h5.8M75.2 249.4h10.5M47.3 246.9h12.2M52.1 251.3h4M57.9 247.9h13.3M64 251.3h7.4M51.3 247.6h8.6M60 248h6.3M11.2 251.6h13.8M43 249.6h4.1M24.6 247.7h5.4M45.2 248.4h12.6M41.5 247.7h9.3M84.2 248h13.9M37.8 250.1h7.3M87.4 249.1h10.4M29.8 246.8h11.9M58.2 251.7h5.7M69.5 247h11M34.4 249.2h5.4M10.7 249.4h10.6M31.7 251h5.4M10.1 248h10.5M93.5 251.4h3.8M72.7 248.2h13.1M50 249.7h12.1" stroke="rgb(80,80,80)" stroke-width=".7" fill="none" opacity=".8"/>
<path d="M48.5 248h8.8M23.8 250.9h4.3M87 247.3h7.4" stroke="rgb(32,32,32)" stroke-width=".7" fill="none" opacity=".8"/>
<path d="M10.7 252.3L12 251.9L13.4 251.9L14.8 252.3L16.1 252.7L17.5 253L18.8 253.3L20.2 253.5L21.6 253.6L22.9 253.7L24.3 253.7L25.6 253.6L27 253.4L28.3 253.1L29.7 252.8L31.1 252.5L32.4 252.1L33.8 251.7L35.1 252.1L36.5 252.5L37.9 252.9L39.2 253.2L40.6 253.4L41.9 253.6L43.3 253.7L44.6 253.7L46 253.6L47.4 253.5L48.7 253.3L50.1 253L51.4 252.6L52.8 252.3L54.1 251.9L55.5 251.9L56.9 252.3L58.2 252.7L59.6 253L60.9 253.3L62.3 253.5L63.7 253.6L65 253.7L66.4 253.7L67.7 253.6L69.1 253.4L70.5 253.1L71.8 252.8L73.2 252.4L74.5 252.1L75.9 251.7L77.2 252.1L78.6 252.5L80 252.9L81.3 253.2L82.7 253.4L84 253.6L85.4 253.7L86.8 253.7L88.1 253.6L89.5 253.5L90.8 253.2L92.2 253L93.5 252.6L94.9 252.2L96.3 251.8L97.6 252L97.6 255.9L96.3 255.8L94.9 256.1L93.5 256.4L92.2 256.7L90.8 256.9L89.5 257.1L88.1 257.2L86.8 257.3L85.4 257.3L84 257.2L82.7 257.1L81.3 256.9L80 256.6L78.6 256.4L77.2 256.1L75.9 255.7L74.5 256L73.2 256.3L71.8 256.6L70.5 256.8L69.1 257L67.7 257.2L66.4 257.3L65 257.3L63.7 257.3L62.3 257.1L60.9 257L59.6 256.8L58.2 256.5L56.9 256.2L55.5 255.9L54.1 255.8L52.8 256.2L51.4 256.5L50.1 256.7L48.7 257L47.4 257.1L46 257.2L44.6 257.3L43.3 257.3L41.9 257.2L40.6 257.1L39.2 256.9L37.9 256.6L36.5 256.3L35.1 256L33.8 255.7L32.4 256L31.1 256.3L29.7 256.6L28.3 256.9L27 257.1L25.6 257.2L24.3 257.3L22.9 257.3L21.6 257.2L20.2 257.1L18.8 257L17.5 256.7L16.1 256.5L14.8 256.2L13.4 255.9L12 255.9L10.7 256.2Z" fill="rgb(255,255,255)"/>
<rect x="10.4" y="256.9" width="87.5" height="10.2" fill="rgb(62,62,62)"/>
<path d="M78.6 263.9h11.7M74.4 263h5.8M15.7 261.2h7.2M38 257.1h11.5M84.1 257.5h11.2M82.4 262.6h11.8M32.8 261.5h3.9M64.2 260.8h8.4M79.3 262.3h7.3M31.9 263.2h4.7M73.2 259.2h6.3M86.7 259.3h7.4M82.8 264.5h13.1M64.8 262.8h13.3M11.8 264.3h7.7M54.6 264.8h11.8M49.3 257.2h5.5M83.4 259h7.7M90.3 263.2h8.3M30.8 263.6h3.6M74.1 263.5h13.7M38.7 261.6h12.1M90.5 264.1h9.1M75.5 264.4h12M69.5 264.5h4.2M17.5 265.4h7.8M38.9 265.8h3.1M25.1 257.7h4.9M82.6 261.8h13.2M39.9 261.8h11.8M88.9 260.9h5.4M62.4 262.3h6.7" stroke="rgb(48,48,48)" stroke-width=".7" fill="none" opacity=".8"/>
<path d="M88.8 263.7h13.5M79.5 260h11.6M21.3 262.8h8.2M30.7 259.4h4.4M38.1 264h11.7M21 257.8h12.7M64.9 265.7h8.5M75.1 265.4h6.8M78.1 258.6h7.2M20.5 259h4.8M15.6 258.4h4.2M32 261.5h10.2M21.8 262.9h9.2M33.6 260.3h5.2M21.7 259.6h12.1M10.4 261.4h13.2M60.4 261.4h12.5M80.8 264.1h7M72.8 264.5h4.6M62.2 262.1h10.5M68.7 259.9h7.1M49.4 260.2h5.3M8.8 265.4h13.1M39.6 259.2h10M33.7 258.2h5.7M20.9 260.3h5.8M84.2 259.5h8.6M93.6 262.3h11.1M34.4 258.5h7.8M57 261.9h11.7M71.3 258.2h3.1M91 257.2h9.8M55.5 265.9h10.2M89.5 258.5h11" stroke="rgb(64,64,64)" stroke-width=".7" fill="none" opacity=".8"/>
<path d="M18 264.7h12.8M18.3 265.8h11M90.7 260.2h9.8M33.4 257.3h4.5M12.8 263.2h13.6M46.6 265.9h11.4M66.2 264h4.7M36.8 260h4.3M16.9 259.3h6M22.9 258.6h10.8M23.7 265.2h10.5M37.5 263.2h9.7M53.1 262.4h3.7M40.8 259.9h5.1M57.3 265.2h6.2M84.5 262.8h9M82.3 259.6h8.6M90.7 258.1h9.1M10.9 264.7h9.5M84.9 264.5h8.2M59.2 259.9h8.5M61.8 260.6h5.8M73 263.3h9.7M16 264.9h6.2M72.3 264.6h10.4M86.6 261.7h3.9M60.4 263.4h8.7M55.7 257.2h13.7M80.7 262.2h5.9M73.5 265.4h13.9M57.6 264.5h5M44.8 262.4h4.8M26.4 260.9h3.5M59.9 263.1h3M13.9 259.2h5.7M69.7 263.5h8.3M39.7 257.7h8.1" stroke="rgb(80,80,80)" stroke-width=".7" fill="none" opacity=".8"/>
<path d="M70 257.7h3.4M51.4 263h13.9M29.3 258.2h4.9M69 264.6h13.2M53.1 263.1h11.2M64.9 262.4h10.1M22.1 264.3h8.3M87 263h8.4M38.4 264.3h5.6M89.3 261.7h6.6M93.9 263.4h3M24 262.1h8.6M15 265.4h6.2M76.8 263h9M45.8 263.1h11.7M79.6 257.6h12M82.6 262.6h11.7M58.1 260.6h3.4M52.8 262h3.3M10.1 259h5.4M67.3 258.2h6.7M48.2 265.4h7.3M58.4 259.7h5.6M19.4 261.4h3.7" stroke="rgb(32,32,32)" stroke-width=".7" fill="none" opacity=".8"/>
<path d="M25.2 261.9h11.8M83.8 265.3h13.3M89.7 265.2h8.1M65.5 259.5h3.2M51.2 260.7h13.6M83 260.5h6.1" stroke="rgb(112,112,112)" stroke-width=".7" fill="none" opacity=".8"/>
<path d="M46.3 258h11M59.1 258.4h10.1M38.2 263.4h7.7M20.9 263.4h5.5M86 258h13.9M38.6 260.4h13.8M59.1 257.8h10.7M59 260.1h11.6M85.2 261h13.5M21.2 261.6h13.7M15.7 259.4h10.2M40.4 259h4.6M36.7 261.7h7.1M24.9 261.9h6.6M86.3 260.7h4.5M69.3 263.5h7.2M27.4 259.2h12.1M42.3 259h4.2M74 262.2h13.3M77.4 258.6h4.2M62.6 260.5h6M75.7 261.4h9.5M90.6 258.4h12.2M9.2 265.1h4.5M51.6 263.5h13.8M39.8 264.5h13.7M25.9 264.8h6.2" stroke="rgb(96,96,96)" stroke-width=".7" fill="none" opacity=".8"/>
</g></g>
<g clip-path="url(#ce4)"><g filter="url(#ec4)">
<rect x="93.4" y="220.1" width="86.6" height="49.2" fill="#050505"/>
<rect x="93.4" y="223.1" width="86.6" height="2" fill="rgb(25,25,25)"/>
<rect x="93.4" y="225.1" width="86.6" height="2.6" fill="rgb(100,100,100)"/>
<rect x="93.4" y="227.7" width="86.6" height="7.4" fill="rgb(52,52,52)"/>
<path d="M166 234.6h11.1M131.3 228h8.9M121.4 234.2h13.9M105.1 224.8h9.9M92.2 224.9h11.9M137.2 229.7h10.9M93.8 230h13.1M161 230.2h9.7M150.4 223.2h5.3M106.6 227.1h3.9M112.8 225.9h11.8M96.1 225.5h8.6M94.6 233.7h5M99.5 223.9h6.6M168 226.7h5.4M143 226.5h5M96.3 228.7h8M161.3 231h3.5M156 232.6h13.4M166.9 223.4h6.9M106.6 226.5h9.5M122.6 233.3h13.5M93.7 225.9h3.5M138.5 230.2h11M175.7 230.3h6.5M135.4 226.1h12.9M108.4 234.2h6.2M151.4 234.6h3.7M153.5 226.8h6.4M115.1 229.9h13.5M175.3 229.5h8.9M120.9 227.5h4.7M166 231.4h13.3M137.9 229.9h11.5M148.5 233.3h8.9M98.7 227.5h5.7M105.4 223.3h7.9" stroke="rgb(48,48,48)" stroke-width=".7" fill="none" opacity=".8"/>
<path d="M152.5 227.1h11.9M169.7 232.4h8.1M103.9 230h5.6M102.4 234.3h10.9M102.7 230.8h3.4M125.4 224.2h13.8M170 228.3h3.7" stroke="rgb(32,32,32)" stroke-width=".7" fill="none" opacity=".8"/>
<path d="M168 225.1h4.3M94.9 233.2h10.3M150.8 233.2h12.4M135.8 233.2h8.7M173.5 229.9h10M117.7 232.7h10.5M128.9 223.2h4.3M122.9 229h11.9M128 228.4h13.7M161.9 226.1h12.1M116 233.9h3.1M112.3 230.4h7.6M101.5 234.9h8.7M131.7 234.2h7.8M170.6 229.1h6.6M98.2 229h5.5M156.7 228.8h11.2M127.5 231.8h11.2M114.6 225.3h8.5M102.1 227.8h10.2M102 224.8h3.3M113.2 230.5h12.3M96.9 233.3h9.6M150.6 234.7h12.4M127 232h10.4M100.6 229.1h12.4M121.4 227.4h10.3M144.8 225.8h9.1M120.6 229.9h6.8M105 227.9h9.8" stroke="rgb(80,80,80)" stroke-width=".7" fill="none" opacity=".8"/>
<path d="M146.7 227.1h12.5M119 227.8h9.8M140.1 225.3h4.1M162.3 232.7h5.8M136.1 225.3h3.4M144.6 224h10.9M130.1 228.9h4M111.8 229.5h5.2M167.1 224h9.2M172.5 229.7h8.4M124 225.7h11.5M168.3 226.4h4.5M128 229.8h3.3M144.3 234.6h5.6M138.1 235h3.4M162.6 231h13.5M160.7 233.9h11.6M164 234.6h12M135 223.7h13.4M104.5 228.1h5.2M91.9 232.7h11.4M174 225.3h10M140.8 234h5.5M99.7 233.6h4.7M97.7 227.8h10.6M98.7 223.6h6.4M174.6 229.9h9M158.8 226.3h9.6M168 230.8h6.8M154.9 231.3h7.2" stroke="rgb(64,64,64)" stroke-width=".7" fill="none" opacity=".8"/>
<path d="M145.6 229.7h13.1M141.4 225h4.6M100 233.3h9.1M98.6 224.5h7.6M107.7 223.2h12.6M167.6 224.7h10.4" stroke="rgb(96,96,96)" stroke-width=".7" fill="none" opacity=".8"/>
<rect x="93.4" y="235.1" width="86.6" height="15.7" fill="rgb(5,5,5)"/>
<rect x="93.4" y="250.8" width="86.6" height="7.3" fill="rgb(46,46,46)"/>
<path d="M157.5 253.7h3M142.2 255.6h9M120.4 253.1h9.5M118.8 252.1h9.3M142.3 252.7h6.1M157.1 257.5h3.9M141.6 257.9h4.6M126.7 256.3h11.7M97.9 257.9h6.9M109.4 252.8h8M92.2 252.4h4.5" stroke="rgb(32,32,32)" stroke-width=".7" fill="none" opacity=".8"/>
<path d="M158.5 251.9h6M139.7 257.1h7.5M109.3 252.7h13.7M110.9 257.4h12.6M176.3 256.1h8.4M160.7 252.5h3.4M148.2 256.1h11.5M155.1 256.9h9M116.9 252.3h7.9M115.5 253.3h7.4M104.2 254.1h10.7M117.8 254.7h9.8M100.2 256.9h11.7M116.8 254.9h12.9M171 250.8h7.7M173.1 251.5h6.4M169.8 256.2h7.9M131.5 252.8h10.9M116.2 258.1h7.6M173.9 256.2h11.4M147.8 256h12.2M136.7 253.1h5.1M146.1 256.3h11.3M141.1 257.7h9.9M121 256.2h5.6M150 257.7h12.8M119.2 253.5h6.7M175.1 253.8h5.4M99.5 254.6h8.4" stroke="rgb(64,64,64)" stroke-width=".7" fill="none" opacity=".8"/>
<path d="M153.6 257.9h12.7M133.3 256.8h9.4M149 253.8h12.4M108.1 255.5h10.1M173 255.9h9.6M113 252.4h13.7M95.5 253h3.7M102.4 255.6h7.6M130.8 254.2h6.3M118.1 257.4h9.6M144.5 256.6h11.5M120.8 254.4h7.4M171.3 257.8h4.4M113.1 258h6.3M170.8 252.9h8.1M121.8 253.1h11.4M113.8 256h8.8M121.5 253h3.3M136.6 253.3h7.3M149.7 252.3h8.3M93 251h7M130.1 252.4h11.7M135.8 258h4.1M155.8 255.5h3.6M158.7 253.1h9.8M125.2 251.6h13.9M116.6 257.7h5.8" stroke="rgb(80,80,80)" stroke-width=".7" fill="none" opacity=".8"/>
<path d="M129.3 252.4h9.6M145.9 256.6h6.5M144 257.7h9.7M170.7 255.2h8.2M96.8 253.7h5.8M143.2 251h13.1M147.7 253.6h14M107.8 253.6h5M130.9 256.2h5.5M157.4 257.4h10.2M104.2 256.2h8.1M161.1 253.9h4.8M115.1 250.8h6.1M135.6 251.9h6M138.5 256.8h5.6M164.1 252.2h5.9M118.8 256.1h11.3M137.7 255.6h3.7M98 251.2h13.8M101.2 254.3h4.7M95.6 252.5h8.9M139.2 251.1h6.6M131 253.7h3.6" stroke="rgb(48,48,48)" stroke-width=".7" fill="none" opacity=".8"/>
<rect x="93.4" y="258.1" width="86.6" height="7.2" fill="rgb(235,235,235)"/>
<path d="M141.4 261.8h3.5M112 260.3h14M143.8 260.9h3.8M135.4 262.9h6.9M132.2 262.5h13.2M98.1 262h4.9M143.7 260.8h8.6M127 263.2h13.3M165.4 263.5h3.1M100.7 259.8h7.2" stroke="rgb(176,176,176)" stroke-width=".7" fill="none" opacity=".8"/>
<path d="M118.5 259.9h8M165 263.7h5.8M96.3 261.1h12.6M161.6 264.8h3.4M138.9 262.3h8M126.7 264.6h4.6M156.1 262.3h4M122.4 258.9h4M121.1 259.6h13.1M118.5 260.4h12.9M133.9 264.7h13.6M147.7 261.9h4.3M144.4 263.9h3.9M166.6 264.1h4.1M99.5 261.7h11.7M114.3 261.1h13.4M92.3 258.3h8.6" stroke="rgb(224,224,224)" stroke-width=".7" fill="none" opacity=".8"/>
<path d="M121.7 262.3h3.1M116.2 265h11.8M99.9 262.3h11.3M126.8 259.9h5.6M131.9 261.7h13.1M107.2 263.3h6.2M114.5 262.4h7.8M97.1 263.4h10.2M102.2 264.9h5.7M154.2 262.7h4.6M142.7 259.9h4.2M141.3 262.6h5.1M133.7 262.5h11.4M102.2 259.9h7.7M146.2 262.3h12.5" stroke="rgb(192,192,192)" stroke-width=".7" fill="none" opacity=".8"/>
<path d="M129.3 265h3.8M138.5 258.7h8M120.6 263.5h6.6M122.7 260h7.5M100.4 259.5h12.8M103.7 264.2h9.1M117.5 263.8h11.8M162.2 261.9h9.3M114.7 258.7h5.7" stroke="rgb(208,208,208)" stroke-width=".7" fill="none" opacity=".8"/>
<path d="M134.4 260.2h10.7M151.9 264.5h9.6M145.7 261.5h9.1M92.7 262.3h10.3M173 264.1h10.6M127.8 258.4h5.3M162.8 258.7h5.5M137 263.6h8.5M135.7 263.9h7.7" stroke="rgb(240,240,240)" stroke-width=".7" fill="none" opacity=".8"/>
<rect x="93.4" y="265.3" width="86.6" height="1.8" fill="rgb(40,40,40)"/>
</g></g>
<text x="180.5" y="155.1" font-size="10.4">F</text>
<rect x="209.5" y="158.7" width="7.2" height="3.6" fill="#d6d6d6" stroke="#000" stroke-width="0.7"/>
<text x="219.6" y="162.7" font-size="8.3" textLength="22.1" lengthAdjust="spacingAndGlyphs">CTRL</text>
<rect x="248.9" y="158.7" width="6.8" height="3.6" fill="#2cb4f1" stroke="#000" stroke-width="0.7"/>
<text x="258.7" y="162.7" font-size="8.3" textLength="22.3" lengthAdjust="spacingAndGlyphs">LDHA</text>
<text x="281.3" y="158.7" font-size="4.2" textLength="7.6" lengthAdjust="spacingAndGlyphs" font-style="italic">ΔMc</text>
<rect x="214.7" y="220.7" width="12.9" height="40.8" fill="#d6d6d6" stroke="#000" stroke-width="0.7"/>
<rect x="233.8" y="236" width="12.9" height="25.5" fill="#2cb4f1" stroke="#000" stroke-width="0.7"/>
<rect x="265.8" y="210.3" width="13" height="51.2" fill="#d6d6d6" stroke="#000" stroke-width="0.7"/>
<rect x="284.9" y="242.4" width="12.6" height="19.1" fill="#2cb4f1" stroke="#000" stroke-width="0.7"/>
<path d="M221.2 218.9V222.6M218.3 218.9h5.8M218.3 222.6h5.8" stroke="#000" stroke-width=".8" fill="none"/>
<path d="M240.3 232.8V238.8M237.4 232.8h5.8M237.4 238.8h5.8" stroke="#000" stroke-width=".8" fill="none"/>
<path d="M272.3 209.3V211.3M269.4 209.3h5.8M269.4 211.3h5.8" stroke="#000" stroke-width=".8" fill="none"/>
<path d="M291.2 241V244M288.3 241h5.8M288.3 244h5.8" stroke="#000" stroke-width=".8" fill="none"/>
<path d="M208.5 190.4V261.5H305" stroke="#000" stroke-width=".9" fill="none"/>
<text x="204" y="193.8" font-size="8.2" text-anchor="end">100</text>
<text x="204" y="207.8" font-size="8.2" text-anchor="end">80</text>
<text x="204" y="222" font-size="8.2" text-anchor="end">60</text>
<text x="204" y="236.2" font-size="8.2" text-anchor="end">40</text>
<text x="204" y="250.3" font-size="8.2" text-anchor="end">20</text>
<text x="204" y="264.4" font-size="8.2" text-anchor="end">0</text>
<path d="M208.5 190.8h-3.6M208.5 204.9h-3.6M208.5 219.1h-3.6M208.5 233.3h-3.6M208.5 247.4h-3.6M208.5 261.5h-3.6M230.8 261.5v2.4M281.8 261.5v2.4" stroke="#000" stroke-width=".9" fill="none"/>
<text x="231.6" y="273" font-size="8.9" text-anchor="middle" textLength="38.8" lengthAdjust="spacingAndGlyphs">LPS(Sed)</text>
<text x="282" y="273" font-size="8.9" text-anchor="middle" textLength="38.8" lengthAdjust="spacingAndGlyphs">LPS(Exe)</text>
<path d="M221.2 211.7h0M220.7 218.3h0M220.7 220.3h0M220.9 222h0M221.6 226.4h0M239.8 227h0M240.3 235.8h0M240.8 241.8h0M271.7 207.7h0M272.6 209.3h0M271.4 210.3h0M271.5 211.3h0M292.2 235h0M291.6 237.4h0M290.9 239.4h0M292.4 241h0M289.9 242.4h0M292.1 244h0M292.4 246.9h0" stroke="#000" stroke-width="1.9" stroke-linecap="round" fill="none"/>
<path d="M221.2 177.8L272 177.8" stroke="#111" stroke-width="0.9" fill="none"/>
<text x="225.6" y="175.1" font-size="8.6" textLength="47.2" lengthAdjust="spacingAndGlyphs"><tspan font-style="italic">P</tspan>=1.4x10<tspan font-size="5.4" dy="-3.2">−3</tspan></text>
<path d="M240.3 188.8L290.9 188.8" stroke="#111" stroke-width="0.9" fill="none"/>
<text x="262.4" y="186.6" font-size="8.6" textLength="8.6" lengthAdjust="spacingAndGlyphs">ns</text>
<path d="M272.4 202.7L290.9 202.7" stroke="#111" stroke-width="0.9" fill="none"/>
<text x="261.4" y="199.9" font-size="8.6" textLength="47" lengthAdjust="spacingAndGlyphs"><tspan font-style="italic">P</tspan>=4.4x10<tspan font-size="5.4" dy="-3.2">−8</tspan></text>
<path d="M221.2 208.9L240.3 208.9" stroke="#111" stroke-width="0.9" fill="none"/>
<text x="212.1" y="205.9" font-size="8.6" textLength="47.2" lengthAdjust="spacingAndGlyphs"><tspan font-style="italic">P</tspan>=2.3x10<tspan font-size="5.4" dy="-3.2">−3</tspan></text>
<text font-size="8.8" text-anchor="middle" textLength="27.5" lengthAdjust="spacingAndGlyphs" transform="translate(188.3 220) rotate(-90)">EF (%)</text>
<text x="308.8" y="155.2" font-size="10.4">G</text>
<rect x="344.6" y="158.3" width="7" height="3.6" fill="#d6d6d6" stroke="#000" stroke-width="0.7"/>
<text x="354.6" y="162.5" font-size="8.3" textLength="21.7" lengthAdjust="spacingAndGlyphs">CTRL</text>
<rect x="383.4" y="158.3" width="6.6" height="3.6" fill="#2cb4f1" stroke="#000" stroke-width="0.7"/>
<text x="393.4" y="162.5" font-size="8.3" textLength="22.5" lengthAdjust="spacingAndGlyphs">LDHA</text>
<text x="416.2" y="158.5" font-size="4.2" textLength="7.6" lengthAdjust="spacingAndGlyphs" font-style="italic">ΔMc</text>
<rect x="342.6" y="220.3" width="12.6" height="41.2" fill="#d6d6d6" stroke="#000" stroke-width="0.7"/>
<rect x="361.9" y="238" width="12.8" height="23.5" fill="#2cb4f1" stroke="#000" stroke-width="0.7"/>
<rect x="393.8" y="205.3" width="13.1" height="56.2" fill="#d6d6d6" stroke="#000" stroke-width="0.7"/>
<rect x="412.9" y="244" width="12.7" height="17.5" fill="#2cb4f1" stroke="#000" stroke-width="0.7"/>
<path d="M348.9 217.3V223.4M346 217.3h5.8M346 223.4h5.8" stroke="#000" stroke-width=".8" fill="none"/>
<path d="M368.3 234.4V241.4M365.4 234.4h5.8M365.4 241.4h5.8" stroke="#000" stroke-width=".8" fill="none"/>
<path d="M400.3 203.9V206.7M397.4 203.9h5.8M397.4 206.7h5.8" stroke="#000" stroke-width=".8" fill="none"/>
<path d="M419.2 242.4V246.1M416.3 242.4h5.8M416.3 246.1h5.8" stroke="#000" stroke-width=".8" fill="none"/>
<path d="M336.1 190.4V261.5H432.2" stroke="#000" stroke-width=".9" fill="none"/>
<text x="331.6" y="193.8" font-size="8.2" text-anchor="end">50</text>
<text x="331.6" y="207.8" font-size="8.2" text-anchor="end">40</text>
<text x="331.6" y="222" font-size="8.2" text-anchor="end">30</text>
<text x="331.6" y="236.2" font-size="8.2" text-anchor="end">20</text>
<text x="331.6" y="250.3" font-size="8.2" text-anchor="end">10</text>
<text x="331.6" y="264.4" font-size="8.2" text-anchor="end">0</text>
<path d="M336.1 190.8h-3.6M336.1 204.9h-3.6M336.1 219.1h-3.6M336.1 233.3h-3.6M336.1 247.4h-3.6M336.1 261.5h-3.6M358.6 261.5v2.4M409.9 261.5v2.4" stroke="#000" stroke-width=".9" fill="none"/>
<text x="361.9" y="273" font-size="8.9" text-anchor="middle" textLength="38.8" lengthAdjust="spacingAndGlyphs">LPS(Sed)</text>
<text x="412.5" y="273" font-size="8.9" text-anchor="middle" textLength="38.8" lengthAdjust="spacingAndGlyphs">LPS(Exe)</text>
<path d="M349.3 208.3h0M348.3 219.3h0M348.8 221.4h0M348.7 223h0M348 227.4h0M368.7 228h0M367.7 237.8h0M368.6 244h0M401.2 200.9h0M400.7 204.3h0M401.1 205.3h0M400.9 206.3h0M399.1 207.7h0M418 237.8h0M418 239.8h0M418.6 242.4h0M418.9 244h0M419.2 245.5h0M419.6 246.9h0M418.9 248.5h0" stroke="#000" stroke-width="1.9" stroke-linecap="round" fill="none"/>
<path d="M349.2 177.8L399.8 177.8" stroke="#111" stroke-width="0.9" fill="none"/>
<text x="351.6" y="175.1" font-size="8.6" textLength="46.8" lengthAdjust="spacingAndGlyphs"><tspan font-style="italic">P</tspan>=9.3x10<tspan font-size="5.4" dy="-3.2">−4</tspan></text>
<path d="M368.3 187.4L418.9 187.4" stroke="#111" stroke-width="0.9" fill="none"/>
<text x="393.4" y="185.2" font-size="8.6" textLength="8.6" lengthAdjust="spacingAndGlyphs">ns</text>
<path d="M400.4 198.2L418.9 198.2" stroke="#111" stroke-width="0.9" fill="none"/>
<text x="386.4" y="195.8" font-size="8.6" textLength="47.2" lengthAdjust="spacingAndGlyphs"><tspan font-style="italic">P</tspan>=8.6x10<tspan font-size="5.4" dy="-3.2">−9</tspan></text>
<path d="M349.2 206.7L368.3 206.7" stroke="#111" stroke-width="0.9" fill="none"/>
<text x="339.8" y="204.3" font-size="8.6" textLength="47.2" lengthAdjust="spacingAndGlyphs"><tspan font-style="italic">P</tspan>=3.7x10<tspan font-size="5.4" dy="-3.2">−3</tspan></text>
<text font-size="8.8" text-anchor="middle" textLength="28" lengthAdjust="spacingAndGlyphs" transform="translate(319 223.4) rotate(-90)">FS (%)</text>
<text x="435.9" y="155.1" font-size="10.4">H</text>
<rect x="469.6" y="158" width="7" height="4" fill="#d6d6d6" stroke="#000" stroke-width="0.7"/>
<text x="479.6" y="162.2" font-size="8.3" textLength="21.7" lengthAdjust="spacingAndGlyphs">CTRL</text>
<rect x="508.3" y="158" width="7.1" height="4" fill="#2cb4f1" stroke="#000" stroke-width="0.7"/>
<text x="518.4" y="162.2" font-size="8.3" textLength="22.1" lengthAdjust="spacingAndGlyphs">LDHA</text>
<text x="540.8" y="158.2" font-size="4.2" textLength="7.6" lengthAdjust="spacingAndGlyphs" font-style="italic">ΔMc</text>
<rect x="471.2" y="235.8" width="12.6" height="25.7" fill="#d6d6d6" stroke="#000" stroke-width="0.7"/>
<rect x="490.3" y="214.3" width="12.6" height="47.2" fill="#2cb4f1" stroke="#000" stroke-width="0.7"/>
<rect x="522.4" y="251.1" width="12.5" height="10.4" fill="#d6d6d6" stroke="#000" stroke-width="0.7"/>
<rect x="541.5" y="208.3" width="12.5" height="53.2" fill="#2cb4f1" stroke="#000" stroke-width="0.7"/>
<path d="M477.5 233.4V238.4M474.6 233.4h5.8M474.6 238.4h5.8" stroke="#000" stroke-width=".8" fill="none"/>
<path d="M496.6 208.9V219.7M493.7 208.9h5.8M493.7 219.7h5.8" stroke="#000" stroke-width=".8" fill="none"/>
<path d="M528.6 249.5V252.9M525.7 249.5h5.8M525.7 252.9h5.8" stroke="#000" stroke-width=".8" fill="none"/>
<path d="M547.8 201.9V214.7M544.9 201.9h5.8M544.9 214.7h5.8" stroke="#000" stroke-width=".8" fill="none"/>
<path d="M463.6 190.4V261.5H561.6" stroke="#000" stroke-width=".9" fill="none"/>
<text x="459.4" y="193.8" font-size="8.2" text-anchor="end">60</text>
<text x="459.4" y="217.2" font-size="8.2" text-anchor="end">40</text>
<text x="459.4" y="240.8" font-size="8.2" text-anchor="end">20</text>
<text x="459.4" y="264.4" font-size="8.2" text-anchor="end">0</text>
<path d="M463.6 190.8h-3.6M463.6 214.3h-3.6M463.6 237.9h-3.6M463.6 261.5h-3.6M487.3 261.5v2.4M538.5 261.5v2.4" stroke="#000" stroke-width=".9" fill="none"/>
<text x="488.7" y="273" font-size="8.9" text-anchor="middle" textLength="38.8" lengthAdjust="spacingAndGlyphs">LPS(Sed)</text>
<text x="539.5" y="273" font-size="8.9" text-anchor="middle" textLength="38.8" lengthAdjust="spacingAndGlyphs">LPS(Exe)</text>
<path d="M477.4 230.4h0M478 234.4h0M478.1 236.4h0M477.3 237.8h0M477.5 241h0M496.4 201.6h0M496.6 212.3h0M496.5 220.3h0M496.8 226h0M528.9 249.5h0M529.5 250.5h0M529.3 251.5h0M527.5 252.5h0M527.3 254.5h0M548.3 198.8h0M548.5 202.3h0M548.4 208.3h0M548 225.4h0" stroke="#000" stroke-width="1.9" stroke-linecap="round" fill="none"/>
<path d="M478.2 176.5L527.8 176.5" stroke="#111" stroke-width="0.9" fill="none"/>
<text x="479.6" y="174.1" font-size="8.6" textLength="47.4" lengthAdjust="spacingAndGlyphs"><tspan font-style="italic">P</tspan>=6.6x10<tspan font-size="5.4" dy="-3.2">−4</tspan></text>
<path d="M497.3 185.8L547.5 185.8" stroke="#111" stroke-width="0.9" fill="none"/>
<text x="518.4" y="184.2" font-size="8.6" textLength="8.6" lengthAdjust="spacingAndGlyphs">ns</text>
<path d="M527.8 196.2L547.5 196.2" stroke="#111" stroke-width="0.9" fill="none"/>
<text x="517.4" y="194.2" font-size="8.6" textLength="47" lengthAdjust="spacingAndGlyphs"><tspan font-style="italic">P</tspan>=4.2x10<tspan font-size="5.4" dy="-3.2">−4</tspan></text>
<path d="M477.8 199.6L497.3 199.6" stroke="#111" stroke-width="0.9" fill="none"/>
<text x="467.2" y="197.2" font-size="8.6" textLength="46.8" lengthAdjust="spacingAndGlyphs"><tspan font-style="italic">P</tspan>=1.0x10<tspan font-size="5.4" dy="-3.2">−2</tspan></text>
<text font-size="8.8" text-anchor="middle" textLength="68.3" lengthAdjust="spacingAndGlyphs" transform="translate(446.2 224.4) rotate(-90)">TUNEL<tspan font-size="5.4" dy="-3">+</tspan><tspan dy="3"> cells (%)</tspan></text>
<text x="564.4" y="155.1" font-size="10.4">I</text>
<rect x="600.2" y="158.7" width="6.6" height="3.6" fill="#d6d6d6" stroke="#000" stroke-width="0.7"/>
<text x="609.2" y="162.7" font-size="8.3" textLength="22.2" lengthAdjust="spacingAndGlyphs">CTRL</text>
<rect x="635.4" y="158.7" width="7" height="3.6" fill="#2cb4f1" stroke="#000" stroke-width="0.7"/>
<text x="644.8" y="162.7" font-size="8.3" textLength="22.3" lengthAdjust="spacingAndGlyphs">LDHA</text>
<text x="667.4" y="158.7" font-size="4.2" textLength="7.6" lengthAdjust="spacingAndGlyphs" font-style="italic">ΔMc</text>
<rect x="600.6" y="239.4" width="11.7" height="22.1" fill="#d6d6d6" stroke="#000" stroke-width="0.7"/>
<rect x="618.3" y="210.7" width="11.4" height="50.8" fill="#2cb4f1" stroke="#000" stroke-width="0.7"/>
<rect x="647.4" y="252.9" width="11.5" height="8.6" fill="#d6d6d6" stroke="#000" stroke-width="0.7"/>
<rect x="664.9" y="213.3" width="11.7" height="48.2" fill="#2cb4f1" stroke="#000" stroke-width="0.7"/>
<path d="M606.4 237V242.4M603.5 237h5.8M603.5 242.4h5.8" stroke="#000" stroke-width=".8" fill="none"/>
<path d="M624 208.7V212.7M621.1 208.7h5.8M621.1 212.7h5.8" stroke="#000" stroke-width=".8" fill="none"/>
<path d="M653.1 251.1V254.5M650.2 251.1h5.8M650.2 254.5h5.8" stroke="#000" stroke-width=".8" fill="none"/>
<path d="M670.7 210.3V216.3M667.8 210.3h5.8M667.8 216.3h5.8" stroke="#000" stroke-width=".8" fill="none"/>
<path d="M593.8 196.2V261.5H683" stroke="#000" stroke-width=".9" fill="none"/>
<text x="590" y="199.5" font-size="8.2" text-anchor="end">50</text>
<text x="590" y="212.6" font-size="8.2" text-anchor="end">40</text>
<text x="590" y="225.5" font-size="8.2" text-anchor="end">30</text>
<text x="590" y="238.4" font-size="8.2" text-anchor="end">20</text>
<text x="590" y="251.4" font-size="8.2" text-anchor="end">10</text>
<text x="590" y="264.4" font-size="8.2" text-anchor="end">0</text>
<path d="M593.8 196.6h-3.6M593.8 209.7h-3.6M593.8 222.6h-3.6M593.8 235.5h-3.6M593.8 248.5h-3.6M593.8 261.5h-3.6M614.9 261.5v2.4M661.5 261.5v2.4" stroke="#000" stroke-width=".9" fill="none"/>
<text x="617.3" y="273" font-size="8.9" text-anchor="middle" textLength="38.8" lengthAdjust="spacingAndGlyphs">LPS(Sed)</text>
<text x="663.9" y="273" font-size="8.9" text-anchor="middle" textLength="38.8" lengthAdjust="spacingAndGlyphs">LPS(Exe)</text>
<path d="M606.1 234.4h0M606.9 239h0M607 241h0M606.5 243.9h0M624.5 205.3h0M624.4 209.7h0M623.1 212.3h0M623 214.3h0M651.9 248.1h0M653.4 252.5h0M654 253.5h0M653.3 254.5h0M670.8 207.9h0M670.5 211.3h0M670.8 213.3h0M671.1 222.4h0" stroke="#000" stroke-width="1.9" stroke-linecap="round" fill="none"/>
<path d="M607.6 177.8L652.8 177.8" stroke="#111" stroke-width="0.9" fill="none"/>
<text x="610.7" y="175.1" font-size="8.6" textLength="47.2" lengthAdjust="spacingAndGlyphs"><tspan font-style="italic">P</tspan>=2.3x10<tspan font-size="5.4" dy="-3.2">−3</tspan></text>
<path d="M624.3 186.4L671.5 186.4" stroke="#111" stroke-width="0.9" fill="none"/>
<text x="643.8" y="184.2" font-size="8.6" textLength="9" lengthAdjust="spacingAndGlyphs">ns</text>
<path d="M606.2 197.2L624.3 197.2" stroke="#111" stroke-width="0.9" fill="none"/>
<text x="595.8" y="194.8" font-size="8.6" textLength="47" lengthAdjust="spacingAndGlyphs"><tspan font-style="italic">P</tspan>=7.4x10<tspan font-size="5.4" dy="-3.2">−5</tspan></text>
<path d="M653.5 203.9L671.1 203.9" stroke="#111" stroke-width="0.9" fill="none"/>
<text x="637.8" y="201.3" font-size="8.6" textLength="47.2" lengthAdjust="spacingAndGlyphs"><tspan font-style="italic">P</tspan>=4.1x10<tspan font-size="5.4" dy="-3.2">−6</tspan></text>
<text font-size="8.8" text-anchor="middle" textLength="57.3" lengthAdjust="spacingAndGlyphs" transform="translate(573.6 225.9) rotate(-90)">DHE<tspan font-size="5.4" dy="-3">+</tspan><tspan dy="3"> area (%)</tspan></text>
<text x="0.9" y="287.1" font-size="10.4">J</text>
<text x="38.4" y="298.3" font-size="8.7" text-anchor="middle" textLength="28.4" lengthAdjust="spacingAndGlyphs" fill="#ff2a2a">TUNEL</text>
<text x="90.4" y="298.3" font-size="8.7" text-anchor="middle" textLength="21.4" lengthAdjust="spacingAndGlyphs" fill="#22cc22">cTNT</text>
<text x="144" y="298.3" font-size="8.7" text-anchor="middle" textLength="21.5" lengthAdjust="spacingAndGlyphs" fill="#2a2aff">DAPI</text>
<text x="198.1" y="298.3" font-size="8.7" text-anchor="middle" textLength="29.9" lengthAdjust="spacingAndGlyphs" fill="#000">Merged</text>
<text font-size="8.8" text-anchor="middle" textLength="45.5" lengthAdjust="spacingAndGlyphs" transform="translate(8.8 327.3) rotate(-90)">CTRL(Sed)</text>
<text font-size="8.8" text-anchor="middle" textLength="45.5" lengthAdjust="spacingAndGlyphs" transform="translate(8.8 381) rotate(-90)">CTRL(Exe)</text>
<text font-size="8.8" text-anchor="middle" textLength="39" lengthAdjust="spacingAndGlyphs" transform="translate(8.8 435) rotate(-90)">Cko(Sed)</text>
<text font-size="8.8" text-anchor="middle" textLength="39" lengthAdjust="spacingAndGlyphs" transform="translate(8.8 489.8) rotate(-90)">Cko(Exe)</text>
<rect x="11.3" y="300.2" width="51.4" height="51.3" fill="#030000"/>
<g>
<path d="M51.7 348h0M40.9 313.8h0M49.6 319.7h0M51.9 317.9h0M40.5 340.2h0M13.2 317.5h0M32 315.7h0M57.7 304.6h0M34.4 316.4h0M18.9 307h0M56.3 319.4h0M57.8 319.6h0M28.9 310.2h0M16.3 301.6h0M50.2 345.1h0M58.8 336.8h0M55.9 330.8h0M35.9 347.9h0M39.6 309.9h0M40.6 344.3h0M49.6 327.2h0M48.7 314.9h0M45.8 331.3h0M15.3 347.8h0M53.9 339.8h0M25.5 339.6h0M30 304h0M56.8 336.1h0M25.1 324.1h0M21.4 344.9h0M28.6 342.9h0M33 329.7h0M25.6 303h0M13.7 309.8h0M31.8 304.8h0M35.8 313.1h0M25.6 320.3h0M26.4 323.9h0M40.9 328.4h0M12.5 308.4h0M16.3 326.1h0M35.9 317.9h0M32.8 308.5h0M30.6 329.6h0M53.7 324.7h0M46.6 303.7h0M49 326.5h0M39.3 340h0M48.2 318.6h0M31.4 348.1h0M47.7 347.7h0M36.5 338.6h0M43.1 328.8h0M43.1 334.3h0M29.5 314.7h0" stroke="#b01414" stroke-width="0.8" stroke-linecap="round" fill="none"/>
</g>
<g clip-path="url(#cg0)"><rect x="51.7" y="287.4" width="77.1" height="76.9" fill="#0a6a0a" filter="url(#gt0)" transform="rotate(-40 90.2 325.8)"/></g>
<rect x="118.4" y="300.2" width="51.4" height="51.3" fill="#010113"/>
<path d="M165.9 318.2h0M141.1 348.4h0M165.4 320.5h0M141.3 346.2h0M153.6 328.6h0M119.9 338.7h0M150.3 318h0M127.7 301.3h0M127.4 308h0M138.7 335.6h0M159.6 307.5h0M165.7 322.5h0M153.4 327.8h0M159.8 315.1h0M149.2 306.6h0M151 321h0M151.7 330h0M148 345.5h0M166.9 312.8h0M125.8 349.2h0M143.8 339.3h0M137.6 330.4h0M163.3 301.8h0M129.9 332h0M145.9 343.2h0M146.8 315.5h0M136 337.4h0M127.8 331.5h0M141 308.7h0M151.7 306.9h0M163.3 349.5h0M147.2 327.8h0M128.3 328.8h0M131 334.4h0M134.4 302.7h0M158.8 332.9h0M145.1 347.1h0M160.8 307h0M128.7 338.9h0M155.2 349.9h0M153.8 314.5h0M161.6 323h0M124.3 303.1h0M154.3 325.6h0M155.6 335h0M127.2 348.7h0M149.8 319.9h0M134.7 333.8h0M134.4 319.9h0M147.8 323.6h0M122.2 325.1h0M145 327.9h0M138.5 340.9h0M128.5 339h0M144.7 350.1h0M123.8 341.2h0M154.5 312.1h0M141.8 345.7h0M154.9 322.6h0M146.8 334.7h0M154.9 326.9h0M157.9 347.5h0M155.1 313.7h0M166.4 311.3h0M139.3 302.1h0M160.9 330.6h0M144.5 347.5h0M165.3 322.8h0M167.2 304.9h0M145.9 314.9h0M137 315.2h0M164.7 302.2h0M136.1 345.7h0M156.5 301.6h0M140.6 331.8h0M167.1 334.2h0M160.5 341h0M154.4 309.2h0M148.7 338.9h0M125 341.1h0M121.2 314h0M140.9 341.2h0M157.9 330.9h0M163.4 309h0M160.1 335.4h0M134.1 321.1h0M132 321.5h0M152.7 315.8h0M160.1 310.3h0M131.5 326.7h0M137.8 320.8h0M143.6 342.3h0M155.8 330.4h0M120.9 316.4h0M147.9 310.2h0M120.9 345.8h0M149.1 319.2h0M126.7 341.7h0M140.1 319.2h0M147.6 314.6h0M153 342.9h0M166.7 331.2h0M141.6 337.8h0M162.4 302.4h0M159.9 321.3h0M136.5 309.1h0M143.4 342.4h0M154.4 342.4h0M136.6 340h0M165.8 322.3h0M142.9 348.6h0M155.4 309.3h0M121.3 347.9h0M139.3 317.7h0M160.8 311.4h0M134.5 345.9h0M163.6 340.1h0M154.3 336.7h0M148.3 344.7h0M150.8 343.1h0M134.4 333.8h0M140.1 311.9h0M168.8 302.3h0M164.8 326h0M124.7 320.5h0M143.1 320.2h0M139.4 337.8h0M157 338.4h0M137.7 347.6h0M148.7 332.4h0M122.8 312.7h0M160.1 331.6h0M154.9 339.4h0M152.7 348.1h0M164.2 315.4h0M124.1 307.7h0M156.9 323h0M168.4 329h0M124.9 318.8h0M156.4 302.1h0M130.9 342.5h0M126.5 321.6h0M156 349.7h0M137 329.5h0M127.3 322.4h0M149.8 307h0M167.5 306.2h0M158.9 308.1h0M141.8 326.8h0M147.3 339.7h0" stroke="#2626f4" stroke-width="1.5" stroke-linecap="round" fill="none"/>
<g clip-path="url(#cg10)"><rect x="159.4" y="287.4" width="77.1" height="76.9" fill="#0a6a0a" filter="url(#gt0)" transform="rotate(-40 198 325.8)"/></g>
<path d="M219.8 318.2h0M195 348.4h0M219.3 320.5h0M195.2 346.2h0M207.5 328.6h0M173.8 338.7h0M204.2 318h0M181.6 301.3h0M181.3 308h0M192.6 335.6h0M213.5 307.5h0M219.6 322.5h0M207.3 327.8h0M213.7 315.1h0M203.1 306.6h0M204.9 321h0M205.6 330h0M201.9 345.5h0M220.8 312.8h0M179.7 349.2h0M197.7 339.3h0M191.5 330.4h0M217.2 301.8h0M183.8 332h0M199.8 343.2h0M200.7 315.5h0M189.9 337.4h0M181.7 331.5h0M194.9 308.7h0M205.6 306.9h0M217.2 349.5h0M201.1 327.8h0M182.2 328.8h0M184.9 334.4h0M188.3 302.7h0M212.7 332.9h0M199 347.1h0M214.7 307h0M182.6 338.9h0M209.1 349.9h0M207.7 314.5h0M215.5 323h0M178.2 303.1h0M208.2 325.6h0M209.5 335h0M181.1 348.7h0M203.7 319.9h0M188.6 333.8h0M188.3 319.9h0M201.7 323.6h0M176.1 325.1h0M198.9 327.9h0M192.4 340.9h0M182.4 339h0M198.6 350.1h0M177.7 341.2h0M208.4 312.1h0M195.7 345.7h0M208.8 322.6h0M200.7 334.7h0M208.8 326.9h0M211.8 347.5h0M209 313.7h0M220.3 311.3h0M193.2 302.1h0M214.8 330.6h0M198.4 347.5h0M219.2 322.8h0M221.1 304.9h0M199.8 314.9h0M190.9 315.2h0M218.6 302.2h0M190 345.7h0M210.4 301.6h0M194.5 331.8h0M221 334.2h0M214.4 341h0M208.3 309.2h0M202.6 338.9h0M178.9 341.1h0M175.1 314h0M194.8 341.2h0M211.8 330.9h0M217.3 309h0M214 335.4h0M188 321.1h0M185.9 321.5h0M206.6 315.8h0M214 310.3h0M185.4 326.7h0M191.7 320.8h0M197.5 342.3h0M209.7 330.4h0M174.8 316.4h0M201.8 310.2h0M174.8 345.8h0M203 319.2h0M180.6 341.7h0M194 319.2h0M201.5 314.6h0M206.9 342.9h0M220.6 331.2h0M195.5 337.8h0M216.3 302.4h0M213.8 321.3h0M190.4 309.1h0M197.3 342.4h0M208.3 342.4h0M190.5 340h0M219.7 322.3h0M196.8 348.6h0M209.3 309.3h0M175.2 347.9h0M193.2 317.7h0M214.7 311.4h0M188.4 345.9h0M217.5 340.1h0M208.2 336.7h0M202.2 344.7h0M204.7 343.1h0M188.3 333.8h0M194 311.9h0M222.7 302.3h0M218.7 326h0M178.6 320.5h0M197 320.2h0M193.3 337.8h0M210.9 338.4h0M191.6 347.6h0M202.6 332.4h0M176.7 312.7h0M214 331.6h0M208.8 339.4h0M206.6 348.1h0M218.1 315.4h0M178 307.7h0M210.8 323h0M222.3 329h0M178.8 318.8h0M210.3 302.1h0M184.8 342.5h0M180.4 321.6h0M209.9 349.7h0M190.9 329.5h0M181.2 322.4h0M203.7 307h0M221.4 306.2h0M212.8 308.1h0M195.7 326.8h0M201.2 339.7h0" stroke="#2a4ae0" stroke-width="1.4" stroke-linecap="round" fill="none"/>
<path d="M181.5 310.7h0M207.9 342.3h0M203.7 317.2h0M173.6 342.7h0M177.7 309h0M185.2 317.7h0M214.3 315.4h0M204 331.4h0M189.3 317.5h0M192.9 305.6h0M199.3 304.2h0" stroke="#b850c8" stroke-width="1.4" stroke-linecap="round" fill="none"/>
<path d="M216.7 349.9h5.4" stroke="#fff" stroke-width=".8"/>
<text x="219.4" y="348.9" font-size="2.4" text-anchor="middle" fill="#eee">100μm</text>
<rect x="11.3" y="354.2" width="51.4" height="51.3" fill="#030000"/>
<g>
<path d="M43.9 386.2h0M24.2 395h0M28.9 373.1h0M47.8 372.5h0M59.1 377.8h0M30.7 356.2h0M49.7 365.7h0M34.9 388.5h0M35.4 402.1h0M31.8 372.9h0M17.4 356.6h0M18.1 383.4h0M18 379.8h0M19.7 394.4h0M14.1 393.5h0M58.5 401.9h0M35.3 395.1h0M20.7 402.5h0M60.5 390.7h0M60.1 386h0M60.3 374.2h0M16.3 365.4h0M55.1 396.7h0M31.3 390.4h0M56.8 372.4h0M25.5 403.7h0M30.5 400.8h0M24.8 402.7h0M14.2 372.6h0M34 357.9h0M52.4 401.6h0M32.6 389.4h0M25.3 370.3h0M45.3 380.5h0M17.3 404h0M61.2 385.3h0M57.9 371.7h0M33.6 386.6h0M16 357.4h0M37.6 364.8h0" stroke="#700c0c" stroke-width="0.6" stroke-linecap="round" fill="none"/>
</g>
<g clip-path="url(#cg1)"><rect x="51.7" y="341.4" width="77.1" height="76.9" fill="#0a6a0a" filter="url(#gt1)" transform="rotate(35 90.2 379.8)"/></g>
<rect x="118.4" y="354.2" width="51.4" height="51.3" fill="#010113"/>
<path d="M128.9 383.2h0M155.7 360.6h0M155.4 379.8h0M162.2 396.1h0M137.1 388h0M148.8 381h0M152.4 389.1h0M131.3 371.1h0M146.9 374.5h0M154.5 366.2h0M131.2 377.1h0M121.7 390.9h0M131.6 355.3h0M152.7 374.5h0M144.4 364.6h0M149.5 379.3h0M122.6 389.4h0M124.4 387.3h0M149.4 377.4h0M130 400.2h0M168.7 387.3h0M158.5 371.4h0M165.6 376.6h0M150.2 372h0M153.3 368.8h0M165.9 401.7h0M129.3 369.8h0M157.9 382.6h0M160 394.7h0M145.8 362h0M131.9 371.5h0M143.7 377.4h0M144 355.5h0M147.7 366.5h0M129.7 381.5h0M143.7 392.6h0M153.7 403h0M148.3 369.9h0M156 364.7h0M129.5 373.6h0M145.3 398.3h0M156.4 385.3h0M126.5 385.8h0M145.6 366.9h0M121.3 388.5h0M163.2 392.3h0M137.6 365.2h0M121 394.1h0M161.1 373.1h0M154.9 387.7h0M168.2 380.8h0M155.2 398.1h0M163.7 365.3h0M151.8 396.3h0M145.5 373.5h0M130.8 374.1h0M141.4 366h0M162.5 356.7h0M148.4 368.5h0M149.5 362.6h0M163.1 365.8h0M158.6 370.5h0M153.9 375.8h0M158.1 401.3h0M132.2 367.9h0M166 360h0M137.4 397.8h0M158.1 386.9h0M151.7 366.8h0M164.5 361.8h0M134.1 380.5h0M132.1 366.4h0M139.2 366.9h0M144.3 355.2h0M135.5 399.5h0M139.7 393.2h0M152.6 387.6h0M144.6 380.5h0M137.7 389.3h0M147.1 362.9h0M151.9 376.7h0M141.3 386.4h0M152.5 359.3h0M167.2 375h0M121.7 357.3h0M127.5 363.5h0M153.4 384.9h0M150.2 368.2h0M139.1 402.6h0M121 395.8h0M156 371.7h0M163.2 382.3h0M158.2 384.3h0M155.9 397.8h0M140.9 384.9h0M146.5 401.3h0M165.3 362.8h0M149.7 385.7h0M128.6 372.1h0M157.6 378.8h0M134.7 361.3h0M152.6 356.9h0M159.6 379.7h0M153.6 396.4h0M143.9 373.8h0M133.1 362.4h0M167 390.7h0M131.2 361.4h0M155.4 364.2h0M143.5 372.7h0M126.3 398.3h0M140.1 376.9h0M158.5 366.6h0M146.4 396.1h0M160.4 400.5h0M168.4 402.1h0M140.3 396.1h0M148.7 371.3h0M163.8 402.4h0M138.3 387.6h0M160.8 402.7h0M129.4 393.2h0M143 380.8h0M156.6 360.8h0M120.1 378.9h0M142.9 396.6h0M130.4 384.8h0M125.6 363.4h0M122.4 360.4h0M120.2 357.9h0M148 383.6h0M151.5 383.2h0M157.4 387.4h0M149.1 395.9h0M168.6 386.8h0M143.1 365.2h0M150.2 366.4h0M144.1 363h0M144.5 404.1h0M123.4 400.2h0M148.6 364.4h0M166.8 372.8h0M138.1 400.3h0M128.4 355.8h0M161 384.9h0M121.1 365.2h0M149.9 395.1h0M135 399.7h0M132.2 379.3h0M164.2 401.8h0" stroke="#2626f4" stroke-width="1.5" stroke-linecap="round" fill="none"/>
<g clip-path="url(#cg11)"><rect x="159.4" y="341.4" width="77.1" height="76.9" fill="#0a6a0a" filter="url(#gt1)" transform="rotate(35 198 379.8)"/></g>
<path d="M182.8 383.2h0M209.6 360.6h0M209.3 379.8h0M216.1 396.1h0M191 388h0M202.7 381h0M206.3 389.1h0M185.2 371.1h0M200.8 374.5h0M208.4 366.2h0M185.1 377.1h0M175.6 390.9h0M185.5 355.3h0M206.6 374.5h0M198.3 364.6h0M203.4 379.3h0M176.5 389.4h0M178.3 387.3h0M203.3 377.4h0M183.9 400.2h0M222.6 387.3h0M212.4 371.4h0M219.5 376.6h0M204.1 372h0M207.2 368.8h0M219.8 401.7h0M183.2 369.8h0M211.8 382.6h0M213.9 394.7h0M199.7 362h0M185.8 371.5h0M197.6 377.4h0M197.9 355.5h0M201.6 366.5h0M183.6 381.5h0M197.6 392.6h0M207.6 403h0M202.2 369.9h0M209.9 364.7h0M183.4 373.6h0M199.2 398.3h0M210.3 385.3h0M180.4 385.8h0M199.5 366.9h0M175.2 388.5h0M217.1 392.3h0M191.5 365.2h0M174.9 394.1h0M215 373.1h0M208.8 387.7h0M222.1 380.8h0M209.1 398.1h0M217.6 365.3h0M205.7 396.3h0M199.4 373.5h0M184.7 374.1h0M195.3 366h0M216.4 356.7h0M202.3 368.5h0M203.4 362.6h0M217 365.8h0M212.5 370.5h0M207.8 375.8h0M212 401.3h0M186.1 367.9h0M219.9 360h0M191.3 397.8h0M212 386.9h0M205.6 366.8h0M218.4 361.8h0M188 380.5h0M186 366.4h0M193.1 366.9h0M198.2 355.2h0M189.4 399.5h0M193.6 393.2h0M206.5 387.6h0M198.5 380.5h0M191.6 389.3h0M201 362.9h0M205.8 376.7h0M195.2 386.4h0M206.4 359.3h0M221.1 375h0M175.6 357.3h0M181.4 363.5h0M207.3 384.9h0M204.1 368.2h0M193 402.6h0M174.9 395.8h0M209.9 371.7h0M217.1 382.3h0M212.1 384.3h0M209.8 397.8h0M194.8 384.9h0M200.4 401.3h0M219.2 362.8h0M203.6 385.7h0M182.5 372.1h0M211.5 378.8h0M188.6 361.3h0M206.5 356.9h0M213.5 379.7h0M207.5 396.4h0M197.8 373.8h0M187 362.4h0M220.9 390.7h0M185.1 361.4h0M209.3 364.2h0M197.4 372.7h0M180.2 398.3h0M194 376.9h0M212.4 366.6h0M200.3 396.1h0M214.3 400.5h0M222.3 402.1h0M194.2 396.1h0M202.6 371.3h0M217.7 402.4h0M192.2 387.6h0M214.7 402.7h0M183.3 393.2h0M196.9 380.8h0M210.5 360.8h0M174 378.9h0M196.8 396.6h0M184.3 384.8h0M179.5 363.4h0M176.3 360.4h0M174.1 357.9h0M201.9 383.6h0M205.4 383.2h0M211.3 387.4h0M203 395.9h0M222.5 386.8h0M197 365.2h0M204.1 366.4h0M198 363h0M198.4 404.1h0M177.3 400.2h0M202.5 364.4h0M220.7 372.8h0M192 400.3h0M182.3 355.8h0M214.9 384.9h0M175 365.2h0M203.8 395.1h0M188.9 399.7h0M186.1 379.3h0M218.1 401.8h0" stroke="#2a4ae0" stroke-width="1.4" stroke-linecap="round" fill="none"/>
<path d="M210.2 379.8h0M178.8 382.3h0M185.2 381.5h0M222.5 381.8h0M175.4 363.9h0M217.7 362.8h0M192 357.4h0M189.2 373h0M221.7 401.3h0M179 393.3h0M185.7 381.8h0" stroke="#b850c8" stroke-width="1.4" stroke-linecap="round" fill="none"/>
<path d="M216.7 403.9h5.4" stroke="#fff" stroke-width=".8"/>
<text x="219.4" y="402.9" font-size="2.4" text-anchor="middle" fill="#eee">100μm</text>
<rect x="11.3" y="408.1" width="51.4" height="51.3" fill="#0b0101"/>
<g>
<path d="M37.3 417.4h0M29.7 448.9h0M46.8 417.5h0M56.1 451.6h0M14.3 440.9h0M31 412.9h0M28.1 440.9h0M17.6 425h0M46.3 420.6h0M55.5 437.3h0M43.5 411h0M15.7 439.3h0M20.9 434.9h0M56.6 438.3h0M34.2 414.1h0M18.5 421.3h0M59.5 446.3h0M20.7 411.5h0M60.3 456.7h0M38.6 422.6h0M38.7 453.3h0M24.7 447.7h0M36.8 436.1h0M58.6 409.7h0M27.1 414h0M20.8 451.8h0M13.9 456.2h0M29.9 439h0M36.6 414.5h0M24.5 418.9h0M28.6 409.5h0M40.8 421.1h0M46 436.1h0M53.8 456.4h0M28.1 440.4h0M50.9 424h0M41.8 445.4h0M54.8 446.8h0M36.9 433.7h0M31.1 440.7h0M60.8 410.1h0M46.1 444.8h0M33.3 410h0M25.6 454.2h0M49.8 442.5h0M58.7 453.3h0M12.9 431h0M46.9 448.4h0M35.7 412.4h0M42.8 442.3h0M32.6 410.6h0M21.4 417.4h0M36 449.8h0M20 426.3h0M22.6 415.4h0M20.6 436.1h0M50.7 455.6h0M57.5 456.7h0M38.4 447.4h0M26 441h0M54.1 423.4h0M22.3 420.9h0M42.6 442h0M33.3 420.1h0M36.7 416.6h0M51.8 450.7h0M17.7 427.6h0M56.3 421.8h0M54.1 453.4h0M47.3 443.6h0" stroke="#d81818" stroke-width="1.1" stroke-linecap="round" fill="none"/>
<path d="M16.1 428.1h0M54.6 439.2h0M13.3 445.1h0M38.6 451.9h0M52.3 418.4h0M19.1 411.2h0M38.6 430.8h0M40.6 434h0M59.9 421.2h0M47 432.4h0M12.8 429.1h0M50.7 432.3h0M34.8 416.2h0M31.5 442.2h0" stroke="#ff2828" stroke-width="1.5" stroke-linecap="round" fill="none"/>
<path d="M36 417.1h0M21.6 431.3h0M30.3 453.7h0M21.9 409.4h0M57.2 452.8h0M21.5 456.6h0M17.5 439.4h0M54.7 448.9h0M34 431.6h0M31.7 457.2h0M53.4 446.9h0M61.4 413.6h0M32.3 423.6h0M29.5 420.3h0M26.5 452.1h0M19.6 411.4h0M56.2 433.3h0M22.2 421.4h0M57.5 429.8h0M43 415.2h0M45.8 438.8h0M14.9 421.6h0M61.2 415.7h0M54.5 451.5h0M20.5 420.4h0M53.3 439.8h0M32.3 456.1h0M26.6 437.2h0M22.4 440.1h0M42.9 454.4h0M14 420.2h0M41 433.2h0M48 414.7h0M16.2 451.7h0M38.4 438.1h0M16.9 418h0M44.8 423.3h0M51.1 432.5h0M45.7 450.1h0M27.2 412.7h0M35.8 411.2h0M32.9 457h0M26 455.1h0M39 452.3h0M55.1 419.8h0M38.3 425.8h0M29.7 410.4h0M29.9 444.3h0M60.6 414.1h0M59.5 418.2h0M48.6 430.7h0M23.8 417.5h0M31 456.6h0M48.2 442.2h0M56.9 445h0M24.5 416.9h0M25.1 442.6h0M14.9 432.4h0M57.3 444.5h0M12.5 411.9h0M49.5 411.8h0M19.4 454.3h0M48.6 455h0M22.8 445h0M49.4 422.2h0M20.8 414.9h0M59.8 422.9h0M33.8 449.5h0M53.4 445.7h0M38.8 433.7h0M33.6 440.7h0M16.6 412h0M45.2 437.4h0M50.3 457.6h0M55.7 418.7h0M49.3 419.1h0M41 412.1h0M36.2 431.9h0M39.3 441.9h0M42.6 417.6h0M46.4 415.5h0M27.2 427.6h0M27.7 453h0M20.5 416.2h0M35.5 430.2h0M50.9 421.6h0M23 433.1h0M42.9 443.8h0M33.4 417h0M56.6 439.1h0M54.3 430.8h0M53.8 441.1h0M46.5 437h0M59.9 432.2h0M18.2 430.8h0M42.2 416h0M29.8 427.8h0M19.7 416.2h0M47.7 437.6h0M30.3 431.8h0M23.9 424.7h0M18.8 415.2h0M42.3 410.7h0M20 442.1h0M39.2 422.5h0M30.7 436.3h0M29.3 431h0M24 431h0M18.8 409.9h0M53.8 417.1h0M32.9 411.4h0M44.7 422.9h0M48.1 443.3h0M59.1 416h0M59.9 431.1h0M38.4 445.5h0M38.2 419.9h0M24.6 444.9h0M19.8 445h0M16.2 450.4h0M32.1 409.7h0M45.8 417.3h0M26 419.7h0M21.6 431.9h0M48.1 430.1h0M22.6 431.8h0M51.9 419.4h0M55.2 431.3h0M46.6 441.1h0M56.9 436h0" stroke="#5a0c0c" stroke-width="1.1" stroke-linecap="round" fill="none"/>
</g>
<g clip-path="url(#cg2)"><rect x="51.7" y="395.3" width="77.1" height="76.9" fill="#0a6a0a" filter="url(#gt2)" transform="rotate(28 90.2 433.8)"/></g>
<rect x="118.4" y="408.1" width="51.4" height="51.3" fill="#010113"/>
<path d="M139.2 425.6h0M155.7 431.9h0M149.1 427.8h0M158.2 435.8h0M167.9 426.5h0M141.8 430.7h0M155.9 424.6h0M131 416h0M126 412.1h0M131.6 417.4h0M154.3 413.4h0M156.9 416.3h0M137 413.8h0M162.6 410.9h0M154.3 441.1h0M122.7 418.2h0M167 441.5h0M136.4 446.6h0M165.8 430.1h0M124 445.3h0M162.9 450.5h0M119.9 431.3h0M150.6 443.4h0M127.1 445.3h0M143.9 455.5h0M156.2 425.3h0M140.9 455.4h0M150.3 440.7h0M160.6 442.4h0M136.6 409.5h0M131.4 448.2h0M145.1 450.2h0M151.3 432.9h0M149.7 427.6h0M138.3 450.8h0M141.6 442h0M131.3 439.9h0M130.5 450.3h0M164.9 443.7h0M122.8 426.8h0M150.3 447.4h0M148.6 409.7h0M124.4 449.2h0M126.6 443.9h0M148.3 415.4h0M127.2 436.7h0M137.2 411.1h0M152.6 454.9h0M145.3 411.2h0M167.1 431.4h0M165.9 445.6h0M131.3 453.7h0M129.4 412.7h0M125.6 452.4h0M166.7 430.4h0M149 446.3h0M156.6 447h0M145.9 443.8h0M135.7 411.2h0M156.5 438.8h0M163.1 423h0M159.7 457.2h0M137.7 425.9h0M140 410h0M165.6 411.6h0M124.3 436h0M151.1 448.7h0M142.9 447.3h0M120.5 449.5h0M134.6 450.1h0M161.2 419h0M159.9 436h0M158.4 427h0M146.5 440.5h0M135.6 423.9h0M149.9 410.8h0M162.4 437.8h0M164 438.3h0M153.9 430h0M131.1 429.5h0M137.4 423.8h0M142.9 424.9h0M154.6 432.7h0M146.1 440.4h0M122.5 450.4h0M126.1 420.7h0M139.3 453.5h0M156.4 447.8h0M129.7 452.1h0M152.3 413.8h0M145.9 452.8h0M140.2 417.3h0M153.4 438h0M161.7 447.8h0M158 430.3h0M145.8 450.6h0M158.5 438.7h0M129.3 451.6h0M157.9 433.9h0M125.2 455.3h0M148.2 442.8h0M143.5 444.5h0M132.7 411.1h0M155.1 444h0M146.5 446h0M134.6 411.4h0M155.6 457.8h0M138 433.2h0M128.6 438.7h0M129.1 431h0M125.8 430.8h0M129.7 414.3h0M133.2 419.5h0M138.3 453h0M134.8 415.2h0M143.1 443.8h0M128.8 447.5h0M159.6 449.2h0M137.2 438.1h0M128.4 420.4h0" stroke="#2626f4" stroke-width="1.5" stroke-linecap="round" fill="none"/>
<g clip-path="url(#cg12)"><rect x="159.4" y="395.3" width="77.1" height="76.9" fill="#0a6a0a" filter="url(#gt2)" transform="rotate(28 198 433.8)"/></g>
<path d="M193.1 425.6h0M209.6 431.9h0M203 427.8h0M212.1 435.8h0M221.8 426.5h0M195.7 430.7h0M209.8 424.6h0M184.9 416h0M179.9 412.1h0M185.5 417.4h0M208.2 413.4h0M210.8 416.3h0M190.9 413.8h0M216.5 410.9h0M208.2 441.1h0M176.6 418.2h0M220.9 441.5h0M190.3 446.6h0M219.7 430.1h0M177.9 445.3h0M216.8 450.5h0M173.8 431.3h0M204.5 443.4h0M181 445.3h0M197.8 455.5h0M210.1 425.3h0M194.8 455.4h0M204.2 440.7h0M214.5 442.4h0M190.5 409.5h0M185.3 448.2h0M199 450.2h0M205.2 432.9h0M203.6 427.6h0M192.2 450.8h0M195.5 442h0M185.2 439.9h0M184.4 450.3h0M218.8 443.7h0M176.7 426.8h0M204.2 447.4h0M202.5 409.7h0M178.3 449.2h0M180.5 443.9h0M202.2 415.4h0M181.1 436.7h0M191.1 411.1h0M206.5 454.9h0M199.2 411.2h0M221 431.4h0M219.8 445.6h0M185.2 453.7h0M183.3 412.7h0M179.5 452.4h0M220.6 430.4h0M202.9 446.3h0M210.5 447h0M199.8 443.8h0M189.6 411.2h0M210.4 438.8h0M217 423h0M213.6 457.2h0M191.6 425.9h0M193.9 410h0M219.5 411.6h0M178.2 436h0M205 448.7h0M196.8 447.3h0M174.4 449.5h0M188.5 450.1h0M215.1 419h0M213.8 436h0M212.3 427h0M200.4 440.5h0M189.5 423.9h0M203.8 410.8h0M216.3 437.8h0M217.9 438.3h0M207.8 430h0M185 429.5h0M191.3 423.8h0M196.8 424.9h0M208.5 432.7h0M200 440.4h0M176.4 450.4h0M180 420.7h0M193.2 453.5h0M210.3 447.8h0M183.6 452.1h0M206.2 413.8h0M199.8 452.8h0M194.1 417.3h0M207.3 438h0M215.6 447.8h0M211.9 430.3h0M199.7 450.6h0M212.4 438.7h0M183.2 451.6h0M211.8 433.9h0M179.1 455.3h0M202.1 442.8h0M197.4 444.5h0M186.6 411.1h0M209 444h0M200.4 446h0M188.5 411.4h0M209.5 457.8h0M191.9 433.2h0M182.5 438.7h0M183 431h0" stroke="#2a4ae0" stroke-width="1.4" stroke-linecap="round" fill="none"/>
<path d="M211.1 448.2h0M180 453.1h0M214.4 449.9h0M208.3 456.8h0M213.7 453.6h0M194 412.9h0M222.3 445.7h0M221.3 449.7h0M221.7 445.2h0M177.2 445.8h0M194.1 449.9h0M177.3 437.5h0M185 413.1h0M204.1 452.4h0M179 431.2h0M200 439.4h0M219.4 414h0M196.3 415.1h0M211.3 445.7h0M205.3 417.3h0M196.1 437.1h0M189.4 430.2h0M182.1 440.7h0M199.8 449.6h0M195.3 441.4h0M190.6 424.1h0M212.7 422.2h0M192.4 439.5h0M217.9 446.3h0M212.8 453.7h0M195.2 419.8h0M197 434.6h0M220.4 448.7h0M196.6 443.8h0M206.8 442.8h0M210.3 416.5h0M174.3 429.7h0M209.2 434.9h0M220.9 420.1h0M184.7 440.9h0" stroke="#b850c8" stroke-width="1.4" stroke-linecap="round" fill="none"/>
<path d="M216.7 457.8h5.4" stroke="#fff" stroke-width=".8"/>
<text x="219.4" y="456.8" font-size="2.4" text-anchor="middle" fill="#eee">100μm</text>
<rect x="11.3" y="462.7" width="51.4" height="51.3" fill="#0b0101"/>
<g>
<path d="M20.7 481.1h0M21.8 479h0M56.5 464.6h0M51.2 498.2h0M13.7 465.4h0M39.8 508h0M33.1 499.6h0M53.4 512.5h0M44.1 482.1h0M49.5 493.1h0M35.7 504.9h0M33.1 495.5h0M47.5 507h0M19 504.4h0M57.4 467.4h0M23.2 489.7h0M33.6 507.7h0M15.5 464.5h0M54.5 498h0M35.9 478.3h0M38.8 508h0M48.9 487.5h0M19.3 480.4h0M35.2 500h0M56 499.9h0M50.4 506.1h0M39.9 472.1h0M58.1 487.4h0M55.5 494h0M40.4 488.4h0M23 501.8h0M18.2 492.2h0M20.7 471.9h0M44.9 512.2h0M45.2 484.4h0M26.9 503.2h0M47.9 498.7h0M58.1 476.3h0M59.7 483.1h0M40.3 465.7h0M42.3 506.5h0M27.6 467.1h0M38.4 501.7h0M26.4 476.5h0M19.4 490.6h0M45.3 483.8h0M56.5 489.5h0M58.5 496.8h0M20.2 503.1h0M18.1 505.9h0M40.3 470.1h0M27 481h0M32.2 475.6h0M16.2 477.9h0M53.9 487.3h0M29 473h0M60.7 464.6h0M18 464h0M46.2 469.8h0M15.6 509.8h0M18.8 483.4h0M24.2 510.3h0M44.4 476.8h0M13.9 470.7h0M43.7 480.4h0M44.7 486.7h0M35.1 486.4h0M29.3 481.5h0M19.4 478.1h0M52.9 472.5h0" stroke="#d81818" stroke-width="1.1" stroke-linecap="round" fill="none"/>
<path d="M60.6 497.3h0M26.5 489.6h0M20.1 472.2h0M52.9 492h0M38.8 464.1h0M48.6 508.2h0M50.4 481.6h0M54.6 487.2h0M37.1 503.6h0M24.8 497.9h0M22.4 502.8h0M25.2 471.6h0M27 474.2h0M24.5 493.3h0" stroke="#ff2828" stroke-width="1.5" stroke-linecap="round" fill="none"/>
<path d="M54 512h0M58.7 468.2h0M50.9 493h0M52.5 509.2h0M16.5 467.2h0M58.8 493.9h0M58.8 506.6h0M48.1 505.8h0M46 469.3h0M42.1 477.4h0M43.3 493.2h0M29 471.1h0M40.3 493.3h0M48.6 499.4h0M23.4 470.6h0M17.5 492.6h0M20.9 485.9h0M23.9 499h0M50.6 469.4h0M61.7 489.1h0M59.1 502.8h0M38.6 472.1h0M53.3 476.7h0M54.7 474.8h0M36.2 499.9h0M46 470.7h0M39 491.3h0M38.8 466.5h0M27.9 470.3h0M33 466h0M58.5 473h0M54.2 497.6h0M23.9 481.7h0M56 498.2h0M26.9 496.2h0M55.8 501.6h0M60.1 487.8h0M49.7 469.9h0M39.8 473.6h0M26.6 489.4h0M27.5 499h0M26.7 504h0M52.8 493.7h0M55.4 496.4h0M37.8 502.2h0M30.7 500.3h0M28 465.8h0M40.5 464.5h0M38.1 489.8h0M51.2 497.4h0M42.3 488.5h0M48.1 495.3h0M60.4 510.6h0M51.2 488.2h0M18.8 470.5h0M49.2 478.4h0M53.6 512h0M40.5 466.5h0M25.1 485.7h0M17.8 471.5h0M24.6 485.7h0M19 473h0M21.3 511.7h0M25.6 487.1h0M46.5 485.2h0M23.8 503h0M49.6 511.2h0M24.6 492.1h0M16.1 464.4h0M27.7 469.9h0M20.1 490.1h0M28.4 483.2h0M13.4 494.5h0M43.1 504.2h0M37.4 467h0M35.6 486.6h0M18.4 494h0M26.6 474.6h0M29.3 471h0M14.8 498.1h0M52.1 471h0M25.8 500.5h0M21.2 464.3h0M30.5 466.3h0M30.3 486.3h0M50.6 463.8h0M59.4 505.1h0M23.3 464.2h0M29.1 468.8h0M58.1 503.6h0M29.6 473.1h0M44.1 508.5h0M61.4 473.3h0M32.7 471.5h0M31.8 503.4h0M59.2 484.9h0M30.2 472.4h0M15 473.5h0M55.1 511.6h0M15 466.9h0M57 510.9h0M59.8 473.3h0M39.1 495.3h0M37.7 505.5h0M33 488.8h0M15.2 494.5h0M31.4 484.9h0M14.9 465.4h0M49.1 508.6h0M15.8 502.8h0M35.6 468.7h0M46.7 505.1h0M26.2 502.8h0M26.8 512.7h0M30.7 470.1h0M25.5 466.7h0M20.3 482.3h0M52.1 480.1h0M22.8 500.6h0M60.1 472.7h0M39.6 466.2h0M52.4 466.4h0M55.8 486.4h0M39.2 475.2h0M61.3 485.9h0M43.2 488.1h0M28.6 506.5h0M52.2 479.9h0M54.1 480.3h0M45.9 472.6h0" stroke="#5a0c0c" stroke-width="1.1" stroke-linecap="round" fill="none"/>
</g>
<g clip-path="url(#cg3)"><rect x="51.7" y="449.9" width="77.1" height="76.9" fill="#0a6a0a" filter="url(#gt3)" transform="rotate(-32 90.2 488.3)"/></g>
<rect x="118.4" y="462.7" width="51.4" height="51.3" fill="#010113"/>
<path d="M127.5 491.8h0M141.4 492.2h0M145.1 466h0M123.3 466.7h0M152.6 486.7h0M163.6 483.9h0M155.8 508.3h0M131.6 504.3h0M143.2 497.4h0M163.8 464.3h0M122.7 508h0M128.3 510.4h0M156.7 479h0M168 512.1h0M119.5 502.8h0M154.7 475.8h0M142.8 474.5h0M160.2 474.7h0M133 479.2h0M141.7 466.3h0M167.5 482.1h0M152.8 510.7h0M142.1 468.3h0M124.9 492.6h0M148.2 509.2h0M150.2 500.4h0M130.5 484.2h0M136 503.3h0M167.5 510.8h0M153.3 490.4h0M121.5 470.6h0M163.5 483.8h0M129.6 473.1h0M145.9 499h0M162.1 484.4h0M139.3 496.6h0M135.9 511.7h0M164 467.5h0M155.1 500.1h0M130.7 495.8h0M122.4 479.7h0M160.7 506.9h0M140.3 508.7h0M120.9 482.7h0M128.4 505.2h0M159.5 496.7h0M128.3 507.5h0M149.3 503h0M128 488.6h0M129.2 511.9h0M166.3 509.3h0M129.4 469.4h0M156.7 482.4h0M127.1 501h0M153.1 467.7h0M131.8 474.3h0M134.4 482.8h0M124.5 492.8h0M134.6 483.3h0M141.6 466.4h0M151.2 509h0M134.3 499.9h0M156.4 490.9h0M140.6 471.8h0M167.8 490.2h0M140.9 472.5h0M133.6 504h0M146.6 487h0M157.7 489.4h0M156.2 502.2h0M152 465.3h0M166.3 477.8h0M157.2 477.8h0M120.5 491.6h0M148.4 491h0M131.9 499.5h0M166.8 507.7h0M124.6 484h0M167.7 480h0M128.9 508.3h0M164.6 487.4h0M158.3 478.1h0M144.6 483.9h0M135.2 464.3h0M151.9 477h0M137.6 497.2h0M156.9 485h0M143.6 492.7h0M150.1 481.8h0M148.9 484.3h0M119.8 485.2h0M137.6 479.5h0M126.2 493.1h0M146.8 496.6h0M156.5 494.3h0M121.8 500.5h0M167.7 482h0M164.8 500.7h0M166.9 495.5h0M134.3 512.1h0M144.3 501.7h0M126.2 469.4h0M166.2 482.2h0M137.3 512.9h0M122.2 492.1h0M127.1 468.8h0M141.2 496.7h0M122.6 498.9h0M168.8 471.2h0M123.6 478h0M155.5 472.8h0M164 476.6h0M136.6 473.4h0M136.3 511.9h0M161.7 473.1h0M153.2 464.4h0M145.1 485.7h0M157.3 488.5h0M126.8 485.8h0M127.6 510.7h0" stroke="#2626f4" stroke-width="1.5" stroke-linecap="round" fill="none"/>
<g clip-path="url(#cg13)"><rect x="159.4" y="449.9" width="77.1" height="76.9" fill="#0a6a0a" filter="url(#gt3)" transform="rotate(-32 198 488.3)"/></g>
<path d="M181.4 491.8h0M195.3 492.2h0M199 466h0M177.2 466.7h0M206.5 486.7h0M217.5 483.9h0M209.7 508.3h0M185.5 504.3h0M197.1 497.4h0M217.7 464.3h0M176.6 508h0M182.2 510.4h0M210.6 479h0M221.9 512.1h0M173.4 502.8h0M208.6 475.8h0M196.7 474.5h0M214.1 474.7h0M186.9 479.2h0M195.6 466.3h0M221.4 482.1h0M206.7 510.7h0M196 468.3h0M178.8 492.6h0M202.1 509.2h0M204.1 500.4h0M184.4 484.2h0M189.9 503.3h0M221.4 510.8h0M207.2 490.4h0M175.4 470.6h0M217.4 483.8h0M183.5 473.1h0M199.8 499h0M216 484.4h0M193.2 496.6h0M189.8 511.7h0M217.9 467.5h0M209 500.1h0M184.6 495.8h0M176.3 479.7h0M214.6 506.9h0M194.2 508.7h0M174.8 482.7h0M182.3 505.2h0M213.4 496.7h0M182.2 507.5h0M203.2 503h0M181.9 488.6h0M183.1 511.9h0M220.2 509.3h0M183.3 469.4h0M210.6 482.4h0M181 501h0M207 467.7h0M185.7 474.3h0M188.3 482.8h0M178.4 492.8h0M188.5 483.3h0M195.5 466.4h0M205.1 509h0M188.2 499.9h0M210.3 490.9h0M194.5 471.8h0M221.7 490.2h0M194.8 472.5h0M187.5 504h0M200.5 487h0M211.6 489.4h0M210.1 502.2h0M205.9 465.3h0M220.2 477.8h0M211.1 477.8h0M174.4 491.6h0M202.3 491h0M185.8 499.5h0M220.7 507.7h0M178.5 484h0M221.6 480h0M182.8 508.3h0M218.5 487.4h0M212.2 478.1h0M198.5 483.9h0M189.1 464.3h0M205.8 477h0M191.5 497.2h0M210.8 485h0M197.5 492.7h0M204 481.8h0M202.8 484.3h0M173.7 485.2h0M191.5 479.5h0M180.1 493.1h0M200.7 496.6h0M210.4 494.3h0M175.7 500.5h0M221.6 482h0M218.7 500.7h0M220.8 495.5h0M188.2 512.1h0M198.2 501.7h0M180.1 469.4h0M220.1 482.2h0M191.2 512.9h0M176.1 492.1h0M181 468.8h0M195.1 496.7h0M176.5 498.9h0M222.7 471.2h0M177.5 478h0" stroke="#2a4ae0" stroke-width="1.4" stroke-linecap="round" fill="none"/>
<path d="M175.8 471.3h0M221.3 476h0M177.1 468.8h0M199.3 483.1h0M209.1 480.4h0M181.3 501.8h0M180.4 491.7h0M211.9 475.6h0M183.3 483.8h0M179.2 494.4h0M202.1 505.5h0M175.6 490h0M178.8 509.8h0M203 482.2h0M206.4 488.7h0M190.6 482h0M184.1 511.2h0M197.6 463.8h0M207.4 471.9h0M208.7 498.3h0M188.6 501h0M181.3 484.3h0M193.6 482.1h0M207.2 483.6h0M182.2 490.6h0M196.6 485.5h0M192.1 478.7h0M216.5 509.2h0M197.8 493h0M211.7 472h0M196.6 465.6h0M201.1 480.7h0M217.8 483.8h0M214.6 498.4h0M204.2 507.8h0M218.3 491.2h0M175.7 472.9h0M216.8 494.5h0M211.4 464h0M183 510.5h0" stroke="#b850c8" stroke-width="1.4" stroke-linecap="round" fill="none"/>
<path d="M216.7 512.4h5.4" stroke="#fff" stroke-width=".8"/>
<text x="219.4" y="511.4" font-size="2.4" text-anchor="middle" fill="#eee">100μm</text>
<text x="228" y="286.9" font-size="10.4">K</text>
<text x="264.9" y="298.3" font-size="8.7" text-anchor="middle" textLength="18.9" lengthAdjust="spacingAndGlyphs" fill="#ff2a2a">ROS</text>
<text x="318.1" y="298.3" font-size="8.7" text-anchor="middle" textLength="21.5" lengthAdjust="spacingAndGlyphs" fill="#2a2aff">DAPI</text>
<text x="372.4" y="298.3" font-size="8.7" text-anchor="middle" textLength="29.9" lengthAdjust="spacingAndGlyphs" fill="#000">Merged</text>
<text font-size="8.8" text-anchor="middle" textLength="44.6" lengthAdjust="spacingAndGlyphs" transform="translate(235.3 326.4) rotate(-90)">CTRL(Sed)</text>
<text font-size="8.8" text-anchor="middle" textLength="44.6" lengthAdjust="spacingAndGlyphs" transform="translate(235.3 380) rotate(-90)">CTRL(Exe)</text>
<text font-size="8.8" text-anchor="middle" textLength="38.4" lengthAdjust="spacingAndGlyphs" transform="translate(235.3 434.5) rotate(-90)">Cko(Sed)</text>
<text font-size="8.8" text-anchor="middle" textLength="38.4" lengthAdjust="spacingAndGlyphs" transform="translate(235.3 488.4) rotate(-90)">Cko(Exe)</text>
<rect x="237.9" y="300.2" width="51.8" height="51.6" fill="#050000"/>
<path d="M272.3 348.3h0M241.3 323.7h0M264.3 316.8h0M240.5 311.8h0M249.5 347.9h0M265.7 342.4h0M256.1 309.8h0M253.9 349.5h0M241.1 309.5h0M267 337.7h0M243.8 301.3h0M264.5 336.8h0M250.2 331.4h0M242.3 328.3h0M264.8 330.7h0M260.4 339.6h0M271.8 315.2h0M238.9 329.9h0M262.9 331.6h0M281.6 322.8h0M259.6 308.2h0M264.6 326.6h0M258.6 334.5h0M260.6 329.5h0M287.3 320.6h0M264.5 324.9h0M276.1 332.5h0M284.5 319.1h0M264.1 344.8h0M240.8 349.3h0M261.2 328.6h0M286.5 320.1h0M278 309.3h0M263.7 315.8h0M263.2 313.4h0M244.7 341.1h0M252.9 319.6h0M250.4 321.4h0M239.8 316.6h0M277.4 304.5h0M265.3 316.9h0M261.8 322h0M286.9 301.3h0M245.3 341.2h0M285.1 325.1h0M252.7 320.5h0M281.3 349.4h0M266.8 329h0M261.2 335.7h0M261.2 339.2h0M259.5 312.5h0M279.2 337h0M259.9 346.1h0M278.8 311.1h0M240.8 310.4h0M267.4 319.2h0M286.7 329.5h0M280.1 347.6h0M246.3 321.8h0M256 334.6h0M284.8 332.8h0M241.1 345.9h0M266.7 341h0M270.9 301.9h0M268.4 311.7h0M274.2 317.3h0M271 338.1h0M241.4 350.6h0M241.9 306.7h0M273.2 309.6h0" stroke="#7a1010" stroke-width="1.1" stroke-linecap="round" fill="none"/>
<path d="M249.7 346.7h0M263.3 349.6h0M248.4 312.3h0M251.4 329.3h0M282.1 311.5h0M242 333.2h0M253.9 303.5h0M261.7 332.2h0M266.9 322.2h0M252 306.4h0M265.4 303h0M286.5 314.9h0M247.4 304.5h0M265.4 329.8h0M239.5 327.9h0M272.3 304.3h0M251 341.2h0M257.3 339.4h0M243 331.5h0M254.1 328.5h0M280.9 338.1h0M287.6 342h0M265.7 303.5h0M249.7 316.2h0M283.6 336.6h0M256.3 324.8h0M251.5 314.2h0M256.8 338.7h0M263.7 336.8h0M242.2 306.7h0M276.3 313.6h0M282.7 327.2h0M283.3 313.5h0M279.9 322.1h0M267.3 303.6h0M281.7 321.7h0M266.8 312.8h0M275.5 325.1h0M263.1 341.2h0M252.9 325.7h0M249.3 344.7h0M262.4 309.4h0M263.9 342.2h0M263.4 326.6h0M274.2 331.6h0M282.3 347.6h0M263.6 301.7h0M267.3 332.2h0M261 334.5h0M270.1 324.5h0M254.1 338.3h0M275.7 307.6h0M260 345.1h0M246.9 341.5h0M254.8 315.6h0M248 336.9h0M268.7 320.5h0M253.1 326.5h0M280 327.1h0M251.9 303.2h0" stroke="#3a0808" stroke-width="1" stroke-linecap="round" fill="none"/>
<rect x="292.2" y="300.2" width="51.8" height="51.6" fill="#020217"/>
<path d="M339.8 312.5h0M330.9 334h0M327.9 336.9h0M295.8 323.2h0M320.5 327.5h0M337.3 336.6h0M321.5 323.8h0M309.7 318.3h0M319.4 311.6h0M321 325.1h0M305.5 307.3h0M315.3 318.4h0M335.1 327.3h0M298.8 335.5h0M340.5 306.3h0M314.8 302.6h0M310 303.7h0M333.1 301.2h0M325.1 341.4h0M306.7 330.2h0M300.6 316h0M327.1 328.5h0M327.7 330.8h0M318.1 349.8h0M313.2 320.7h0M301.3 312.3h0M323.9 346.4h0M339.5 316.2h0M304.9 317.5h0M327.6 312.2h0M335 323.5h0M298.5 308h0M298.8 345h0M306.4 327.3h0M339.7 325.3h0M324.2 329.3h0M295.3 342.1h0M311.9 320.4h0M306.1 306.1h0M342 325.8h0M332.9 346.4h0M328.2 306h0M301.2 316.9h0M302.4 336.3h0M341.3 322.2h0M325.1 350.3h0M338.2 333.4h0M333.7 312.5h0M339.9 330.2h0M309.4 311h0M328.6 316.7h0M329.6 333.3h0M305.9 330.8h0M335.5 348.5h0M295.6 336.8h0M339.9 319h0M300.6 306.9h0M300.5 343.7h0M298.3 315.8h0M297 325h0M306.2 304.3h0M296.7 341.2h0M324.4 346h0M296.2 341.7h0M297.8 330h0M317.6 338h0M295.9 306.2h0M296.9 302.4h0M326.5 326.1h0M311.7 345.2h0M335 333.1h0M320.2 330.4h0M300.7 349.9h0M302 327h0M297.6 303.6h0M306.6 304.8h0M305.2 329.7h0M328.9 333.3h0M336.2 315.1h0M329.6 306.8h0M335.5 305.2h0M303.1 329.5h0M317.4 347.1h0M320 315.7h0M299.6 320.2h0M308.3 339.9h0M341.9 350h0M332.1 349.7h0M297.6 330.4h0M301.2 327.2h0M307.5 320.8h0M340.3 333.7h0M303.4 318h0M317 320.9h0M313.4 304.5h0M338.5 321.4h0M339.4 337.4h0M333 301.2h0M305.6 308.1h0M310.1 330.7h0M338.8 342.5h0M309 301.8h0M298.6 325h0M333.7 344.4h0M318.2 337.2h0M314.9 335h0M295.5 328.9h0M322.6 316h0M303.4 304.5h0M331.3 302.1h0M314.2 342.5h0M328.9 323.1h0M309.9 313.9h0M332.7 318.9h0M308.3 324.3h0M325.2 316h0M342.9 320.9h0M310.5 328h0M325.1 318.3h0M305.9 347.6h0M326.7 320h0M316.2 320.5h0M338.9 326.9h0M312.6 333.4h0M322.3 336.2h0M320.2 315.2h0M315.1 339h0M312.9 331.9h0M327.6 321.1h0M320 303.4h0M323.3 310.8h0M316.2 331.9h0M334.3 302.8h0M332.8 341.3h0M340.4 307.8h0M339.2 328h0M297.5 348.4h0M302.4 345.4h0M327.6 336.6h0M295.3 338.8h0M311.7 305.4h0M307.8 345.8h0M315.6 332.8h0M334.4 332.2h0M336.4 348.1h0M329.3 349h0M314.8 338.1h0M296.7 331h0M305.5 328.4h0M332.7 349h0M300.1 317.2h0M308.6 332h0M311.4 335.7h0M323.8 303h0M306.5 344.8h0M337.9 341.1h0M309.4 309.7h0M309.3 339.5h0M337.5 312.2h0M310.8 317.9h0M322.8 317.6h0M329.2 303.5h0M317.7 349.8h0M323.5 347.5h0M316 316.6h0M293.9 343.4h0M316.3 317.6h0M317.9 313.7h0M333.4 346.7h0M339.8 303.2h0M299 330.6h0M310.5 332.3h0M313.5 319.2h0M311.5 330.2h0M333.4 301.9h0M309.9 334.4h0M312.8 313h0M327.1 327.2h0M316.5 332.4h0M306.8 311.7h0M322.7 343.6h0M300.9 304.2h0M334.4 304.9h0M336.4 333.7h0M329.2 328.9h0M342 314.7h0M298.9 313.9h0M333.3 301.7h0M319.5 318.6h0M304.5 310.7h0M313 337.5h0M339.3 327.2h0M330.3 342.3h0M315.4 311.7h0M322.6 314.8h0M339.5 349.8h0M294.7 327.5h0M293.6 313.5h0M321.8 332.3h0M324.4 304.3h0" stroke="#2424f0" stroke-width="1.4" stroke-linecap="round" fill="none"/>
<rect x="346.5" y="300.2" width="51.8" height="51.6" fill="#05021a"/>
<path d="M358.3 346.7h0M371.9 349.6h0M357 312.3h0M360 329.3h0M390.7 311.5h0M350.6 333.2h0M362.5 303.5h0M370.3 332.2h0M375.5 322.2h0M360.6 306.4h0M374 303h0M395.1 314.9h0M356 304.5h0M374 329.8h0M348.1 327.9h0M380.9 304.3h0M359.6 341.2h0M365.9 339.4h0M351.6 331.5h0M362.7 328.5h0M389.5 338.1h0M396.2 342h0M374.3 303.5h0M358.3 316.2h0M392.2 336.6h0M364.9 324.8h0M360.1 314.2h0M365.4 338.7h0M372.3 336.8h0M350.8 306.7h0M384.9 313.6h0M391.3 327.2h0M391.9 313.5h0M388.5 322.1h0M375.9 303.6h0M390.3 321.7h0M375.4 312.8h0M384.1 325.1h0M371.7 341.2h0M361.5 325.7h0M357.9 344.7h0M371 309.4h0M372.5 342.2h0M372 326.6h0M382.8 331.6h0M390.9 347.6h0M372.2 301.7h0M375.9 332.2h0M369.6 334.5h0M378.7 324.5h0M362.7 338.3h0M384.3 307.6h0M368.6 345.1h0M355.5 341.5h0M363.4 315.6h0M356.6 336.9h0M377.3 320.5h0M361.7 326.5h0M388.6 327.1h0M360.5 303.2h0" stroke="#40102a" stroke-width="1.1" stroke-linecap="round" fill="none"/>
<path d="M394.1 312.5h0M385.2 334h0M382.2 336.9h0M350.1 323.2h0M374.8 327.5h0M391.6 336.6h0M375.8 323.8h0M364 318.3h0M373.7 311.6h0M375.3 325.1h0M359.8 307.3h0M369.6 318.4h0M389.4 327.3h0M353.1 335.5h0M394.8 306.3h0M369.1 302.6h0M364.3 303.7h0M387.4 301.2h0M379.4 341.4h0M361 330.2h0M354.9 316h0M381.4 328.5h0M382 330.8h0M372.4 349.8h0M367.5 320.7h0M355.6 312.3h0M378.2 346.4h0M393.8 316.2h0M359.2 317.5h0M381.9 312.2h0M389.3 323.5h0M352.8 308h0M353.1 345h0M360.7 327.3h0M394 325.3h0M378.5 329.3h0M349.6 342.1h0M366.2 320.4h0M360.4 306.1h0M396.3 325.8h0M387.2 346.4h0M382.5 306h0M355.5 316.9h0M356.7 336.3h0M395.6 322.2h0M379.4 350.3h0M392.5 333.4h0M388 312.5h0M394.2 330.2h0M363.7 311h0M382.9 316.7h0M383.9 333.3h0M360.2 330.8h0M389.8 348.5h0M349.9 336.8h0M394.2 319h0M354.9 306.9h0M354.8 343.7h0M352.6 315.8h0M351.3 325h0M360.5 304.3h0M351 341.2h0M378.7 346h0M350.5 341.7h0M352.1 330h0M371.9 338h0M350.2 306.2h0M351.2 302.4h0M380.8 326.1h0M366 345.2h0M389.3 333.1h0M374.5 330.4h0M355 349.9h0M356.3 327h0M351.9 303.6h0M360.9 304.8h0M359.5 329.7h0M383.2 333.3h0M390.5 315.1h0M383.9 306.8h0M389.8 305.2h0M357.4 329.5h0M371.7 347.1h0M374.3 315.7h0M353.9 320.2h0M362.6 339.9h0M396.2 350h0M386.4 349.7h0M351.9 330.4h0M355.5 327.2h0M361.8 320.8h0M394.6 333.7h0M357.7 318h0M371.3 320.9h0M367.7 304.5h0M392.8 321.4h0M393.7 337.4h0M387.3 301.2h0M359.9 308.1h0M364.4 330.7h0M393.1 342.5h0M363.3 301.8h0M352.9 325h0M388 344.4h0M372.5 337.2h0M369.2 335h0M349.8 328.9h0M376.9 316h0M357.7 304.5h0M385.6 302.1h0M368.5 342.5h0M383.2 323.1h0M364.2 313.9h0M387 318.9h0M362.6 324.3h0M379.5 316h0M397.2 320.9h0M364.8 328h0M379.4 318.3h0M360.2 347.6h0M381 320h0M370.5 320.5h0M393.2 326.9h0M366.9 333.4h0M376.6 336.2h0M374.5 315.2h0M369.4 339h0M367.2 331.9h0M381.9 321.1h0M374.3 303.4h0M377.6 310.8h0M370.5 331.9h0M388.6 302.8h0M387.1 341.3h0M394.7 307.8h0M393.5 328h0M351.8 348.4h0M356.7 345.4h0M381.9 336.6h0M349.6 338.8h0M366 305.4h0M362.1 345.8h0M369.9 332.8h0M388.7 332.2h0M390.7 348.1h0M383.6 349h0M369.1 338.1h0M351 331h0M359.8 328.4h0M387 349h0M354.4 317.2h0M362.9 332h0M365.7 335.7h0M378.1 303h0M360.8 344.8h0M392.2 341.1h0M363.7 309.7h0M363.6 339.5h0M391.8 312.2h0M365.1 317.9h0M377.1 317.6h0M383.5 303.5h0M372 349.8h0M377.8 347.5h0M370.3 316.6h0M348.2 343.4h0M370.6 317.6h0M372.2 313.7h0M387.7 346.7h0M394.1 303.2h0M353.3 330.6h0M364.8 332.3h0M367.8 319.2h0M365.8 330.2h0M387.7 301.9h0M364.2 334.4h0M367.1 313h0M381.4 327.2h0M370.8 332.4h0M361.1 311.7h0M377 343.6h0M355.2 304.2h0M388.7 304.9h0M390.7 333.7h0M383.5 328.9h0M396.3 314.7h0M353.2 313.9h0M387.6 301.7h0M373.8 318.6h0M358.8 310.7h0M367.3 337.5h0M393.6 327.2h0M384.6 342.3h0M369.7 311.7h0M376.9 314.8h0M393.8 349.8h0M349 327.5h0M347.9 313.5h0M376.1 332.3h0M378.7 304.3h0" stroke="#2a26e8" stroke-width="1.4" stroke-linecap="round" fill="none"/>
<path d="M358.1 335.6h0M386.7 321.5h0M390.9 311.8h0M349.9 302.7h0M368.7 311.5h0M391.1 324.4h0M394.8 302.9h0M348.7 308.1h0M364.1 320.1h0M387.6 334.2h0M364.6 337.6h0M392.8 310h0M371.8 309h0M368.5 334.1h0M371.3 313.1h0M356 301.6h0M364.7 349.5h0M384.1 333.8h0M364.2 325.9h0M355.9 307.9h0M362.6 308h0M377.9 346h0M366.8 346.3h0M352.7 322h0M377.6 329.4h0M393.5 309.3h0M380.6 310.4h0M372.7 321.5h0M390.7 349.5h0M353.7 308.9h0M367.3 330.6h0M354.7 319h0M347.7 333.6h0M395.2 343.9h0M356.2 303.4h0" stroke="#7020a8" stroke-width="1.2" stroke-linecap="round" fill="none"/>
<rect x="389.1" y="347.6" width="7.6" height="3.2" fill="#8a8a9a"/>
<text x="392.9" y="350.1" font-size="2.6" text-anchor="middle" fill="#222">20μm</text>
<rect x="237.9" y="353.8" width="51.8" height="51.6" fill="#050000"/>
<path d="M244.1 372.4h0M278.8 379.3h0M263.6 394.7h0M245.5 371.3h0M249.3 397.5h0M262.8 386.4h0M253.8 383.8h0M244 401.8h0M255.6 368.7h0M287.6 380.5h0M268.5 390.2h0M263.6 403h0M253.5 373.9h0M266.7 372.4h0M252.2 388.5h0M278.6 404.2h0M281.1 380.6h0M273.2 359.6h0M249.1 392.5h0M282 371.4h0M283.5 403.7h0M282.9 401.6h0M264.5 386.1h0M245.1 381.1h0M275 377.4h0M264.2 368.7h0M277.9 378.7h0M242.4 378.6h0M286.4 390.3h0M250.3 370.8h0M272.7 379.1h0M239.2 398.3h0M266.3 357h0M279.3 359h0M279.1 377.7h0M256.9 374.4h0M280.2 390.2h0M245.2 367.7h0M285 373.2h0M284.1 400.2h0M285.1 366.5h0M256.2 387.9h0M268 357.9h0M265 388.2h0M253.9 365.2h0M270.3 395.7h0M242.7 354.9h0M281 359.4h0M255 364.6h0M263.9 360.4h0M276.3 364.1h0M244.5 380.3h0M277.8 368h0M257.2 369.8h0M241.2 402.2h0M272.5 383.1h0M268.9 379.8h0M244.9 375.7h0M264.8 393.2h0M275 391h0M262.5 379.4h0M243.2 380.5h0M264.2 386.7h0M274.5 383.8h0M286.5 393.4h0M245.8 362.9h0M280.1 369h0M240.5 368.1h0M253.8 385.6h0M259.6 358.4h0" stroke="#7a1010" stroke-width="1.1" stroke-linecap="round" fill="none"/>
<path d="M267.3 403.6h0M254.1 372.7h0M250.4 393.8h0M258.9 390.2h0M283.5 382.6h0M252.3 372.6h0M255.5 370.2h0M285.8 371.5h0M285.9 391.5h0M288.4 373.5h0M273.1 404h0M238.9 380.8h0M263.6 355.8h0M283.1 364h0M262.5 402.7h0M267.4 382.5h0M274.6 359.3h0M270.5 374.9h0M246.9 396.7h0M248.4 383.1h0M253.3 397.8h0M271.8 363.5h0M255.8 365.4h0M268.6 390.5h0M252.6 394.6h0M280.2 387.7h0M283.8 386.9h0M266.7 357.1h0M287.8 391.5h0M251 396.3h0M255.5 357.5h0M268.6 401.5h0M260.4 367.6h0M249.5 403.7h0M252.3 390.8h0M251.6 389.9h0M261.4 386.7h0M250.8 396.2h0M288.5 402.6h0M288 389.2h0M251.6 358.5h0M256.6 359h0M255.3 400.2h0M255.2 356.2h0M283.4 396.2h0M240.7 402.5h0M271 373.2h0M260.3 370.6h0M271.9 359.5h0M239.4 392.7h0M263.3 391.3h0M263.4 388.5h0M281 368.8h0M283.2 382.5h0M278.7 398.9h0M268.7 402.5h0M274 385h0M243 387.8h0M258.3 401.6h0M268.7 391.5h0" stroke="#3a0808" stroke-width="1" stroke-linecap="round" fill="none"/>
<rect x="292.2" y="353.8" width="51.8" height="51.6" fill="#020217"/>
<path d="M314.7 369.4h0M322.3 373.9h0M331 368h0M328.7 402.9h0M309.2 386.5h0M312.5 375.1h0M325.7 383h0M327.7 379.8h0M299 373.4h0M298.6 372.4h0M298.4 355.7h0M334.8 381.9h0M319.7 369.5h0M328.7 376.4h0M339.5 373.7h0M336.1 355h0M323.3 386.2h0M325.3 360.1h0M329.6 403.9h0M329.9 380.5h0M310.9 389.4h0M314.7 402.4h0M309.1 379.6h0M329.7 402.1h0M317.8 387.6h0M331.4 395.9h0M328.7 389.2h0M296.4 365h0M312 355.2h0M319.3 361.6h0M320.5 392.2h0M333.6 365.9h0M296.3 403.5h0M306.6 385.7h0M295.4 400.7h0M311.8 391.1h0M322.4 392.8h0M341.9 384.3h0M321.8 380.6h0M311 391.3h0M322 365.7h0M314.6 392.6h0M338.4 380.1h0M336.4 380.8h0M316.1 357.1h0M298.3 385h0M314.8 361.8h0M295.2 371.2h0M312.7 369.8h0M342.3 369.2h0M340.7 392.9h0M318.1 385.3h0M314.7 376.6h0M321.6 392.4h0M335.2 364h0M307 372.8h0M336.4 356.4h0M342.3 401.8h0M335.4 392h0M335.1 387.8h0M295.6 379.8h0M337.8 363.6h0M325.7 375.9h0M310.4 361.7h0M302.2 364.5h0M305.7 385h0M312.4 357.6h0M321 401.8h0M320.5 403.5h0M340.3 357h0M300 395.1h0M316.1 387.7h0M314.7 359.1h0M312.9 396h0M332.4 374.9h0M315.2 356.5h0M330.5 375.6h0M328.6 359.8h0M326.2 355.4h0M328.8 391.3h0M294.9 385.9h0M306.7 376.3h0M322.5 373.2h0M329.3 391.8h0M324.3 359.5h0M337.1 396.6h0M301.4 404.2h0M320.5 356.4h0M306.1 365.6h0M299.2 362.6h0M339.6 398.9h0M337.1 382.1h0M312.4 379.7h0M293.9 374.6h0M324.4 394.3h0M335.1 383.6h0M336.8 382.9h0M315.4 375.4h0M304 366.8h0M321.3 357.6h0M329.4 397h0M311.5 395.5h0M298.9 390.1h0M315.3 356.5h0M331.5 396.6h0M320.6 380.9h0M314.8 358.9h0M309 368.9h0M305.7 398.3h0M306.6 356.6h0M334.3 392h0M337.2 386.9h0M319.8 392.6h0M332.6 365.4h0M324.3 389.2h0M294.4 363.1h0M297.7 392.7h0M303.3 372.3h0M311.8 385.4h0M305.9 361.3h0M332.1 400.1h0M310.1 392.6h0M342.1 392.5h0M312.8 398.1h0M325.8 374.9h0M342.9 399.9h0M328 400.3h0M329.4 357.6h0M335 360.4h0M304.6 399.3h0M307.1 385.8h0M293.8 400.5h0M329.4 360.3h0M304.3 380.9h0M338.1 372.5h0M315.2 371.1h0M297.2 375.2h0M320.8 366.2h0M341.9 402.9h0M309.5 402.8h0M310.1 390.6h0M318.4 380.6h0M341.2 377.7h0M297.3 391.1h0M342.9 401.5h0M298.8 368.1h0M339.3 387.4h0M308.8 367.3h0M307.1 384.1h0M294.2 360.8h0M339.1 395.4h0M325.7 379.1h0M310.3 403.1h0M326.2 374h0M321.8 364.3h0M342 403.8h0M326.2 357.9h0M321.4 381.6h0M304.9 368.1h0M299.9 400.3h0M314.2 355.6h0M303.3 383.5h0M313.4 387.9h0M332.3 374h0M330 360.1h0M306.5 374.9h0M335.2 380.8h0M332.4 370.9h0M342.5 380.2h0M324.3 390.6h0M321.1 380.3h0M340.6 364.2h0M308.3 389h0M335.2 363.3h0M334.2 377.3h0M314.5 361.2h0M315.9 374.8h0M326.2 366.4h0M305.1 402.2h0M306.3 378.5h0M301.2 383.8h0M297.3 394.3h0M302.6 365.8h0M320.2 378.1h0M315.5 376h0M337 357.9h0M318.3 375.7h0M319.6 393.4h0M334 385.6h0M308.8 376.7h0M331.2 369.2h0M320.1 383.5h0M340 402h0M311.8 389.4h0M307.6 381.1h0M323.5 361h0M331.1 402.2h0M329.5 366.4h0M306.3 373.4h0M295.5 364.9h0" stroke="#2424f0" stroke-width="1.4" stroke-linecap="round" fill="none"/>
<rect x="346.5" y="353.8" width="51.8" height="51.6" fill="#05021a"/>
<path d="M375.9 403.6h0M362.7 372.7h0M359 393.8h0M367.5 390.2h0M392.1 382.6h0M360.9 372.6h0M364.1 370.2h0M394.4 371.5h0M394.5 391.5h0M397 373.5h0M381.7 404h0M347.5 380.8h0M372.2 355.8h0M391.7 364h0M371.1 402.7h0M376 382.5h0M383.2 359.3h0M379.1 374.9h0M355.5 396.7h0M357 383.1h0M361.9 397.8h0M380.4 363.5h0M364.4 365.4h0M377.2 390.5h0M361.2 394.6h0M388.8 387.7h0M392.4 386.9h0M375.3 357.1h0M396.4 391.5h0M359.6 396.3h0M364.1 357.5h0M377.2 401.5h0M369 367.6h0M358.1 403.7h0M360.9 390.8h0M360.2 389.9h0M370 386.7h0M359.4 396.2h0M397.1 402.6h0M396.6 389.2h0M360.2 358.5h0M365.2 359h0M363.9 400.2h0M363.8 356.2h0M392 396.2h0M349.3 402.5h0M379.6 373.2h0M368.9 370.6h0M380.5 359.5h0M348 392.7h0M371.9 391.3h0M372 388.5h0M389.6 368.8h0M391.8 382.5h0M387.3 398.9h0M377.3 402.5h0M382.6 385h0M351.6 387.8h0M366.9 401.6h0M377.3 391.5h0" stroke="#40102a" stroke-width="1.1" stroke-linecap="round" fill="none"/>
<path d="M369 369.4h0M376.6 373.9h0M385.3 368h0M383 402.9h0M363.5 386.5h0M366.8 375.1h0M380 383h0M382 379.8h0M353.3 373.4h0M352.9 372.4h0M352.7 355.7h0M389.1 381.9h0M374 369.5h0M383 376.4h0M393.8 373.7h0M390.4 355h0M377.6 386.2h0M379.6 360.1h0M383.9 403.9h0M384.2 380.5h0M365.2 389.4h0M369 402.4h0M363.4 379.6h0M384 402.1h0M372.1 387.6h0M385.7 395.9h0M383 389.2h0M350.7 365h0M366.3 355.2h0M373.6 361.6h0M374.8 392.2h0M387.9 365.9h0M350.6 403.5h0M360.9 385.7h0M349.7 400.7h0M366.1 391.1h0M376.7 392.8h0M396.2 384.3h0M376.1 380.6h0M365.3 391.3h0M376.3 365.7h0M368.9 392.6h0M392.7 380.1h0M390.7 380.8h0M370.4 357.1h0M352.6 385h0M369.1 361.8h0M349.5 371.2h0M367 369.8h0M396.6 369.2h0M395 392.9h0M372.4 385.3h0M369 376.6h0M375.9 392.4h0M389.5 364h0M361.3 372.8h0M390.7 356.4h0M396.6 401.8h0M389.7 392h0M389.4 387.8h0M349.9 379.8h0M392.1 363.6h0M380 375.9h0M364.7 361.7h0M356.5 364.5h0M360 385h0M366.7 357.6h0M375.3 401.8h0M374.8 403.5h0M394.6 357h0M354.3 395.1h0M370.4 387.7h0M369 359.1h0M367.2 396h0M386.7 374.9h0M369.5 356.5h0M384.8 375.6h0M382.9 359.8h0M380.5 355.4h0M383.1 391.3h0M349.2 385.9h0M361 376.3h0M376.8 373.2h0M383.6 391.8h0M378.6 359.5h0M391.4 396.6h0M355.7 404.2h0M374.8 356.4h0M360.4 365.6h0M353.5 362.6h0M393.9 398.9h0M391.4 382.1h0M366.7 379.7h0M348.2 374.6h0M378.7 394.3h0M389.4 383.6h0M391.1 382.9h0M369.7 375.4h0M358.3 366.8h0M375.6 357.6h0M383.7 397h0M365.8 395.5h0M353.2 390.1h0M369.6 356.5h0M385.8 396.6h0M374.9 380.9h0M369.1 358.9h0M363.3 368.9h0M360 398.3h0M360.9 356.6h0M388.6 392h0M391.5 386.9h0M374.1 392.6h0M386.9 365.4h0M378.6 389.2h0M348.7 363.1h0M352 392.7h0M357.6 372.3h0M366.1 385.4h0M360.2 361.3h0M386.4 400.1h0M364.4 392.6h0M396.4 392.5h0M367.1 398.1h0M380.1 374.9h0M397.2 399.9h0M382.3 400.3h0M383.7 357.6h0M389.3 360.4h0M358.9 399.3h0M361.4 385.8h0M348.1 400.5h0M383.7 360.3h0M358.6 380.9h0M392.4 372.5h0M369.5 371.1h0M351.5 375.2h0M375.1 366.2h0M396.2 402.9h0M363.8 402.8h0M364.4 390.6h0M372.7 380.6h0M395.5 377.7h0M351.6 391.1h0M397.2 401.5h0M353.1 368.1h0M393.6 387.4h0M363.1 367.3h0M361.4 384.1h0M348.5 360.8h0M393.4 395.4h0M380 379.1h0M364.6 403.1h0M380.5 374h0M376.1 364.3h0M396.3 403.8h0M380.5 357.9h0M375.7 381.6h0M359.2 368.1h0M354.2 400.3h0M368.5 355.6h0M357.6 383.5h0M367.7 387.9h0M386.6 374h0M384.3 360.1h0M360.8 374.9h0M389.5 380.8h0M386.7 370.9h0M396.8 380.2h0M378.6 390.6h0M375.4 380.3h0M394.9 364.2h0M362.6 389h0M389.5 363.3h0M388.5 377.3h0M368.8 361.2h0M370.2 374.8h0M380.5 366.4h0M359.4 402.2h0M360.6 378.5h0M355.5 383.8h0M351.6 394.3h0M356.9 365.8h0M374.5 378.1h0M369.8 376h0M391.3 357.9h0M372.6 375.7h0M373.9 393.4h0M388.3 385.6h0M363.1 376.7h0M385.5 369.2h0M374.4 383.5h0M394.3 402h0M366.1 389.4h0M361.9 381.1h0M377.8 361h0M385.4 402.2h0M383.8 366.4h0M360.6 373.4h0M349.8 364.9h0" stroke="#2a26e8" stroke-width="1.4" stroke-linecap="round" fill="none"/>
<path d="M385 363.6h0M388.5 367.5h0M387.5 359.5h0M357.3 375h0M353.5 370.5h0M353.6 356.7h0M379.2 366.1h0M391.2 368.2h0M371.7 356.8h0M379.7 397.3h0M363.2 362.2h0M387.8 388.1h0M383.1 399.3h0M353.2 354.9h0M349.4 398.9h0M358.1 386.1h0M382.4 392.7h0M363.9 395h0M351.3 379.1h0M386.8 356.9h0M370.4 376.2h0M360.6 384.3h0M384.5 391.4h0M396.1 370.8h0M393.3 356.3h0M376.6 381.3h0M382.5 399.7h0M354.1 382.4h0M372.2 373h0M366.5 401.5h0M389.4 398.8h0M349.9 380.9h0M386.9 368.3h0M372.6 387.6h0M360.3 387.6h0" stroke="#7020a8" stroke-width="1.2" stroke-linecap="round" fill="none"/>
<rect x="389.1" y="401.2" width="7.6" height="3.2" fill="#8a8a9a"/>
<text x="392.9" y="403.7" font-size="2.6" text-anchor="middle" fill="#222">20μm</text>
<rect x="237.9" y="408" width="51.8" height="51.6" fill="#0e0202"/>
<path d="M266.2 436.3h0M254.8 424.4h0M248.1 453.7h0M271.9 442.2h0M285.6 432.5h0M282.5 436.8h0M275.7 446.9h0M285.2 447.2h0M288.1 435.9h0M246.7 434.6h0M241.4 454.9h0M254.7 435.2h0M283.9 432.7h0M277.5 412.5h0M259.2 413.5h0M251 423.8h0M260.9 436h0M240.1 443.3h0M241.5 430.1h0M257 435.7h0M284 416.3h0M276.7 446.7h0M245.5 447h0M256.1 449.7h0M283.2 454h0M276.9 444.7h0M253.6 432h0M256.1 444.7h0M282.9 438.3h0M260.3 454h0M255.4 429.9h0M248.7 452.7h0M248.2 451.9h0M268 429.2h0M287.6 445.6h0M278.2 451.2h0M257.2 428.3h0M274.5 421.2h0M274.3 441.2h0M254.4 428.9h0M252.4 416.3h0M272.9 413.5h0M264.9 440.3h0M244 451.8h0M251.3 411h0M268.7 444.8h0M243.8 455.1h0M285.3 427.7h0M239 437.5h0M282.2 428.4h0M269.6 411.3h0M277.5 416.1h0M243.5 453.9h0M262.3 413.7h0M251.2 412.6h0M286.9 418h0M246.9 445.2h0M288.3 422.8h0M260.6 448.1h0M276.5 454.2h0M241.4 428.4h0M242.5 428.6h0M261.6 449.3h0M263.6 429.5h0M278.3 429.4h0M252 452.1h0M262 423.2h0M283.9 421.6h0M258.9 410.4h0M259.5 411.4h0M249.6 442.5h0M252.9 422.1h0M273 455.4h0M264.7 454.6h0M287.1 424.4h0M269.4 420.9h0M283.1 409.1h0M257.9 415.2h0M274.9 454.4h0M277.2 411.7h0M283.1 421.9h0M271.4 409.3h0M282.3 425.5h0M268.3 443h0M241.5 456.3h0M284.5 443.4h0M256.4 417.1h0M240.1 420.4h0M259.4 427.1h0M246.8 435.5h0M282.9 437.3h0M258.8 453.1h0M243.9 409.6h0M288.6 444.8h0M254.3 420.4h0M251.6 422.1h0M255.7 439.4h0M256.8 413.1h0M274 441.7h0M245.2 425h0M277.2 410.5h0M241.6 429.8h0M280.5 444.3h0M271.4 435.6h0M255.9 445h0M285.7 410h0M279 419.8h0M249 413.9h0M253.6 423.4h0M261.3 448.9h0" stroke="#981313" stroke-width="1.2" stroke-linecap="round" fill="none"/>
<path d="M284.7 457h0M258.8 417.1h0M261.2 430.2h0M276.5 413.6h0M249.6 438h0M274.6 423h0M269.6 439.3h0M270.6 457.1h0M286.7 415.2h0M259.5 415.8h0M245.2 440.4h0M287.7 427.6h0M248.6 455.2h0M241.6 411.7h0M270 436.4h0M242.5 455.5h0M269.4 451.1h0M254.2 456.2h0M240.7 414.9h0M280.9 432.8h0M244.7 455.5h0M248.7 413.5h0M285.1 423.7h0M246.6 440.8h0M254.9 440.7h0M258.3 432.3h0M254.1 450h0M284.8 411.1h0M270.8 450.9h0M239.1 419.8h0M271.3 425.3h0M274.7 432.8h0M243.1 454.9h0M259.9 420.6h0M260.5 453.5h0M251 419.3h0M287.9 433.7h0M248.2 449.3h0M266.3 413.4h0M288 444h0M251.2 445.3h0M274.9 411.2h0M261.8 436h0M265.2 440.1h0M279.2 413.1h0M257.8 453.3h0M271.7 420.4h0M265 422h0M245.8 453.6h0M272.1 427.1h0M258 443.9h0M245.9 451.1h0M279.7 436.8h0M287.5 412.8h0M257.7 448.7h0M249 433.3h0M248.9 410.6h0M273.3 435.8h0M270.9 434.5h0M242.3 438.7h0M265.8 421.7h0M278.4 434.6h0M251.8 411.2h0M262.9 413.4h0M253.4 413.7h0M269.9 451.1h0M259.4 419.9h0M278.6 416.7h0M269.1 420h0M250.7 419.4h0M287.2 428.3h0M270.8 422h0M258.6 443.4h0M286.3 418.6h0M248.7 411.6h0M242.1 450.2h0M254.1 423.3h0M264.1 449.3h0M258.4 413.6h0M268.2 445.4h0M247.3 433.8h0M282.3 438.2h0M262.4 412.2h0M240.5 424.5h0M268.9 430.9h0M261.4 436.1h0M263.7 457.8h0M269.8 457.5h0M286.6 424.2h0M244.6 414.5h0M252.2 420.3h0M261.9 424h0M283.3 426h0M258.5 438.5h0M253.8 432.7h0M256.6 438.2h0M255.8 412.6h0M250.4 452.1h0M254.3 442.2h0M247.3 453h0M285.3 437.2h0M285.6 455.6h0M257.1 444.7h0M279.7 409.2h0M288.2 411.4h0M287.5 424.4h0M257.2 452.7h0M254.3 435.3h0M272.4 457.6h0M251.3 439.3h0M276.4 415.1h0M248.1 415.8h0M286.4 439.4h0M245.9 434.2h0M254.6 453.9h0M246.1 444.5h0M273 430h0M265.6 445.1h0M273.4 441.7h0M264.6 436h0" stroke="#4a0a0a" stroke-width="1.1" stroke-linecap="round" fill="none"/>
<rect x="292.2" y="408" width="51.8" height="51.6" fill="#020217"/>
<path d="M342.3 441.1h0M313.1 412.3h0M339.1 442.7h0M319.7 418.8h0M319.1 434.4h0M331 438.7h0M327.3 432.1h0M333.2 441.8h0M301.7 424h0M329.3 446.5h0M306.8 419.4h0M335 418.3h0M336 431.6h0M301 431.8h0M308 439h0M321.9 426.8h0M325.2 428.8h0M306.4 412.2h0M320.5 410.1h0M327 456.9h0M304.7 409.7h0M342 418.6h0M330.8 427h0M324.1 432.5h0M319.6 422.8h0M297.6 412.1h0M306.1 410.8h0M339 438.3h0M328 422.1h0M325.4 414h0M310.8 453.4h0M341.5 436.8h0M320.9 415.5h0M326.6 440.4h0M297 457.2h0M323.3 457.3h0M341.8 428.2h0M294.6 415.5h0M334.3 415.4h0M305.1 420.2h0M311.3 409.1h0M327 444.8h0M315.2 409.9h0M295 433.3h0M296.7 455.4h0M294 412.6h0M337.4 423.9h0M304.6 409.3h0M319.5 431.3h0M332.6 410h0M342 433.4h0M334.8 417.6h0M304.1 440.5h0M335.4 448.3h0M339.5 436h0M318.6 438h0M332.1 440.2h0M314.5 426.6h0M301.4 410.7h0M315.3 437.6h0M332.1 421.2h0M318.9 427h0M332.5 427.5h0M308.2 445.8h0M294.9 452.8h0M299.6 411.8h0M327.8 428h0M330.1 416.4h0M336.3 416.2h0M336.3 410.6h0M325.2 446.3h0M319.8 417.2h0M336.5 410.1h0M324.9 457h0M319.1 426.8h0M310.4 452.3h0M305.6 409.2h0M295.3 431h0M317.6 417.2h0M335.8 421.3h0M330.4 416.5h0M299.6 426.2h0M333.8 419.4h0M298.1 457.3h0M300.7 427.5h0M304.1 415.4h0M334.3 413.3h0M337.5 410.8h0M310.9 449.6h0M313.1 428.1h0M330.3 441.7h0M327.1 441.9h0M342.9 419.3h0M336.4 442.1h0M327 437.5h0M307.5 430.2h0M303.7 444.5h0M325.7 421.9h0M327.6 423.8h0M334.9 434.2h0M300.4 458.1h0M304.9 444.8h0M342.4 426.1h0M320.9 454.8h0M332.2 449.9h0M326.8 450.9h0M336.6 457.1h0M319.4 428.3h0M330.5 414.6h0M331 425.6h0M316.5 444.8h0M312 424.6h0M340 414.2h0M335.7 443.1h0M332.9 421.6h0M319.2 416.8h0M340.4 409.8h0M300.1 420.7h0M317 458.2h0M295.5 450.2h0M298.9 453.1h0M333.5 415.7h0M341 418.6h0M340.4 425.6h0M335.1 445.4h0M309.1 438.1h0M332.7 455.9h0M341.5 453.8h0M318 457.5h0M321.6 457.9h0M331.7 409.7h0M337 437.1h0M330.4 418.7h0M313.8 448.8h0M329.8 439.2h0M342.3 438h0M315 423.4h0M329.9 433.9h0M301.3 409.4h0M308.3 436.6h0M297.5 422h0M318.9 422.7h0M306.9 444.4h0M319.2 426.4h0M312 417.4h0M327.3 444h0M305.7 420.9h0M313.1 425h0M294.3 457.1h0M333.2 443.8h0M337.5 457.9h0M296.3 454.4h0M329.7 458.4h0M295.7 440.2h0M323 424.5h0M333.6 439.2h0M334.4 441.4h0M327.3 452.7h0M339.4 410.5h0M309.2 456h0M334.3 413.6h0M309.6 409.8h0M328.6 417.9h0M335.7 452h0M298.6 441.3h0M325.9 409.4h0M316.5 445.2h0M319.1 426.4h0M330.1 455.1h0M305 437.2h0M308.4 432.3h0M323.8 448.3h0M324.4 456.7h0M332.6 451.1h0M306.9 429h0M308 414.3h0M337.4 457.8h0M302.3 449.6h0M315.1 448.9h0M296.4 437.4h0M304.8 424.2h0M328.7 454.7h0M301.7 455.8h0M296.6 441.4h0M336.6 415.5h0M316.4 432.7h0M336.6 442.3h0M333.6 448.6h0M341.5 435.7h0M312.5 412.3h0M341.4 450.8h0M323.7 444.8h0M297 424.9h0M305.7 429.4h0M298.7 437.4h0M340.2 423.5h0M301.3 419.8h0M319.9 416.7h0M311.6 414.2h0M325 411.8h0" stroke="#2424f0" stroke-width="1.4" stroke-linecap="round" fill="none"/>
<rect x="346.5" y="408" width="51.8" height="51.6" fill="#0a021c"/>
<path d="M393.3 457h0M367.4 417.1h0M369.8 430.2h0M385.1 413.6h0M358.2 438h0M383.2 423h0M378.2 439.3h0M379.2 457.1h0M395.3 415.2h0M368.1 415.8h0M353.8 440.4h0M396.3 427.6h0M357.2 455.2h0M350.2 411.7h0M378.6 436.4h0M351.1 455.5h0M378 451.1h0M362.8 456.2h0M349.3 414.9h0M389.5 432.8h0M353.3 455.5h0M357.3 413.5h0M393.7 423.7h0M355.2 440.8h0M363.5 440.7h0M366.9 432.3h0M362.7 450h0M393.4 411.1h0M379.4 450.9h0M347.7 419.8h0M379.9 425.3h0M383.3 432.8h0M351.7 454.9h0M368.5 420.6h0M369.1 453.5h0M359.6 419.3h0M396.5 433.7h0M356.8 449.3h0M374.9 413.4h0M396.6 444h0M359.8 445.3h0M383.5 411.2h0M370.4 436h0M373.8 440.1h0M387.8 413.1h0M366.4 453.3h0M380.3 420.4h0M373.6 422h0M354.4 453.6h0M380.7 427.1h0M366.6 443.9h0M354.5 451.1h0M388.3 436.8h0M396.1 412.8h0M366.3 448.7h0M357.6 433.3h0M357.5 410.6h0M381.9 435.8h0M379.5 434.5h0M350.9 438.7h0M374.4 421.7h0M387 434.6h0M360.4 411.2h0M371.5 413.4h0M362 413.7h0M378.5 451.1h0M368 419.9h0M387.2 416.7h0M377.7 420h0M359.3 419.4h0M395.8 428.3h0M379.4 422h0M367.2 443.4h0M394.9 418.6h0M357.3 411.6h0M350.7 450.2h0M362.7 423.3h0M372.7 449.3h0M367 413.6h0M376.8 445.4h0M355.9 433.8h0M390.9 438.2h0M371 412.2h0M349.1 424.5h0M377.5 430.9h0M370 436.1h0M372.3 457.8h0M378.4 457.5h0M395.2 424.2h0M353.2 414.5h0M360.8 420.3h0M370.5 424h0M391.9 426h0M367.1 438.5h0M362.4 432.7h0M365.2 438.2h0M364.4 412.6h0M359 452.1h0M362.9 442.2h0M355.9 453h0M393.9 437.2h0M394.2 455.6h0M365.7 444.7h0M388.3 409.2h0M396.8 411.4h0M396.1 424.4h0M365.8 452.7h0M362.9 435.3h0M381 457.6h0M359.9 439.3h0M385 415.1h0M356.7 415.8h0M395 439.4h0M354.5 434.2h0M363.2 453.9h0M354.7 444.5h0M381.6 430h0M374.2 445.1h0M382 441.7h0M373.2 436h0" stroke="#50103a" stroke-width="1.1" stroke-linecap="round" fill="none"/>
<path d="M396.6 441.1h0M367.4 412.3h0M393.4 442.7h0M374 418.8h0M373.4 434.4h0M385.3 438.7h0M381.6 432.1h0M387.5 441.8h0M356 424h0M383.6 446.5h0M361.1 419.4h0M389.3 418.3h0M390.3 431.6h0M355.3 431.8h0M362.3 439h0M376.2 426.8h0M379.5 428.8h0M360.7 412.2h0M374.8 410.1h0M381.3 456.9h0M359 409.7h0M396.3 418.6h0M385.1 427h0M378.4 432.5h0M373.9 422.8h0M351.9 412.1h0M360.4 410.8h0M393.3 438.3h0M382.3 422.1h0M379.7 414h0M365.1 453.4h0M395.8 436.8h0M375.2 415.5h0M380.9 440.4h0M351.3 457.2h0M377.6 457.3h0M396.1 428.2h0M348.9 415.5h0M388.6 415.4h0M359.4 420.2h0M365.6 409.1h0M381.3 444.8h0M369.5 409.9h0M349.3 433.3h0M351 455.4h0M348.3 412.6h0M391.7 423.9h0M358.9 409.3h0M373.8 431.3h0M386.9 410h0M396.3 433.4h0M389.1 417.6h0M358.4 440.5h0M389.7 448.3h0M393.8 436h0M372.9 438h0M386.4 440.2h0M368.8 426.6h0M355.7 410.7h0M369.6 437.6h0M386.4 421.2h0M373.2 427h0M386.8 427.5h0M362.5 445.8h0M349.2 452.8h0M353.9 411.8h0M382.1 428h0M384.4 416.4h0M390.6 416.2h0M390.6 410.6h0M379.5 446.3h0M374.1 417.2h0M390.8 410.1h0M379.2 457h0M373.4 426.8h0M364.7 452.3h0M359.9 409.2h0M349.6 431h0M371.9 417.2h0M390.1 421.3h0M384.7 416.5h0M353.9 426.2h0M388.1 419.4h0M352.4 457.3h0M355 427.5h0M358.4 415.4h0M388.6 413.3h0M391.8 410.8h0M365.2 449.6h0M367.4 428.1h0M384.6 441.7h0M381.4 441.9h0M397.2 419.3h0M390.7 442.1h0M381.3 437.5h0M361.8 430.2h0M358 444.5h0M380 421.9h0M381.9 423.8h0M389.2 434.2h0M354.7 458.1h0M359.2 444.8h0M396.7 426.1h0M375.2 454.8h0M386.5 449.9h0M381.1 450.9h0M390.9 457.1h0M373.7 428.3h0M384.8 414.6h0M385.3 425.6h0M370.8 444.8h0M366.3 424.6h0M394.3 414.2h0M390 443.1h0M387.2 421.6h0M373.5 416.8h0M394.7 409.8h0M354.4 420.7h0M371.3 458.2h0M349.8 450.2h0M353.2 453.1h0M387.8 415.7h0M395.3 418.6h0M394.7 425.6h0M389.4 445.4h0M363.4 438.1h0M387 455.9h0M395.8 453.8h0M372.3 457.5h0M375.9 457.9h0M386 409.7h0M391.3 437.1h0M384.7 418.7h0M368.1 448.8h0M384.1 439.2h0M396.6 438h0M369.3 423.4h0M384.2 433.9h0M355.6 409.4h0M362.6 436.6h0M351.8 422h0M373.2 422.7h0M361.2 444.4h0M373.5 426.4h0M366.3 417.4h0M381.6 444h0M360 420.9h0M367.4 425h0M348.6 457.1h0M387.5 443.8h0M391.8 457.9h0M350.6 454.4h0M384 458.4h0M350 440.2h0M377.3 424.5h0M387.9 439.2h0M388.7 441.4h0M381.6 452.7h0M393.7 410.5h0M363.5 456h0M388.6 413.6h0M363.9 409.8h0M382.9 417.9h0M390 452h0M352.9 441.3h0M380.2 409.4h0M370.8 445.2h0M373.4 426.4h0M384.4 455.1h0M359.3 437.2h0M362.7 432.3h0M378.1 448.3h0M378.7 456.7h0M386.9 451.1h0M361.2 429h0M362.3 414.3h0M391.7 457.8h0M356.6 449.6h0M369.4 448.9h0M350.7 437.4h0M359.1 424.2h0M383 454.7h0M356 455.8h0M350.9 441.4h0M390.9 415.5h0M370.7 432.7h0M390.9 442.3h0M387.9 448.6h0M395.8 435.7h0M366.8 412.3h0M395.7 450.8h0M378 444.8h0M351.3 424.9h0M360 429.4h0M353 437.4h0M394.5 423.5h0M355.6 419.8h0M374.2 416.7h0M365.9 414.2h0M379.3 411.8h0" stroke="#3a28e0" stroke-width="1.4" stroke-linecap="round" fill="none"/>
<path d="M353.2 411.4h0M356.9 417.2h0M384.4 433.7h0M369.1 411.3h0M353.3 458.4h0M353.7 410.6h0M360.6 448.3h0M382.1 457.9h0M351.1 424h0M380.1 430.4h0M394.8 442.6h0M388.6 429.4h0M384 422.8h0M350 414.5h0M356.2 410.9h0M381.4 416.5h0M371.2 455.7h0M363.8 448.5h0M362.1 431.2h0M392 443.5h0M364.2 454.6h0M352 446.7h0M364.7 424.1h0M367.5 440.6h0M366.9 414.1h0M352.8 455.5h0M376.9 443.3h0M372.2 417.7h0M355 428.7h0M357.9 427.4h0M378.6 426.7h0M365.6 453.6h0M382.8 413.9h0M378.6 458.2h0M379.4 452.8h0M382.7 446.5h0M357.9 431.6h0M373.9 430.3h0M363.2 458.4h0M361.4 452.2h0M385.4 432.8h0M376 434.6h0M389.3 419.8h0M347.7 412.1h0M380 420.4h0M377.5 418.2h0M362.3 444.9h0M381.9 411.5h0M348.4 455.4h0M358.2 455.8h0M380 427.4h0M388.1 450.6h0M370.3 417.7h0M393.9 417.6h0M389 442.1h0M365.2 419.4h0M370.2 410h0M383.1 450.2h0M379.3 420.1h0M386 437.4h0M378.8 436.5h0M390.1 411.2h0M386.6 442.2h0M390.2 447.2h0M369.4 439.3h0M351.8 447.9h0M367.9 422.6h0M358.5 455.2h0M367.8 449.3h0M381.4 413.9h0M390.5 421.4h0M388.6 457h0M381.3 431.3h0M359 436.7h0M359.8 411h0" stroke="#8428c4" stroke-width="1.2" stroke-linecap="round" fill="none"/>
<rect x="389.1" y="455.4" width="7.6" height="3.2" fill="#8a8a9a"/>
<text x="392.9" y="457.9" font-size="2.6" text-anchor="middle" fill="#222">20μm</text>
<rect x="237.9" y="461.8" width="51.8" height="51.6" fill="#0e0202"/>
<path d="M244.3 487h0M259.2 475h0M287.8 474.7h0M268.9 469.9h0M239.5 465.8h0M246.4 469.9h0M240.2 505h0M275.5 472.7h0M262.1 497.2h0M283 500h0M261 474.9h0M261.8 500.3h0M254.3 510.8h0M256.4 465.3h0M244.7 485.1h0M260 477.4h0M275.3 468.6h0M258.8 496h0M281.6 478.5h0M244 475h0M266.7 509.4h0M245.7 498.3h0M254.8 480.7h0M262.7 477.3h0M252.9 478.7h0M251.9 472.1h0M254.5 497.3h0M269.1 485h0M272.3 494.8h0M256 500.6h0M277.9 511.2h0M281.1 498.5h0M284.6 477.7h0M275.6 472h0M244.3 466.1h0M281.2 482.4h0M285.6 502.2h0M251.9 470h0M241 479.8h0M278.4 492.7h0M249.1 500.3h0M279.1 481.7h0M264.8 473.8h0M276.3 488.5h0M255.3 501.7h0M266.7 499.9h0M242.4 511.7h0M253 478.9h0M267.6 479.5h0M264.7 508.6h0M287.8 503.5h0M275.2 472.2h0M267.2 486.6h0M288.5 489.1h0M253.6 506.6h0M285.1 467.6h0M275.8 468.1h0M260.3 498h0M245.7 481.4h0M283 490.7h0M253 476.6h0M275.1 504.4h0M278.3 489.8h0M239.6 469.8h0M287.6 478.9h0M278.5 485.2h0M283.2 478.3h0M241.8 481.4h0M249.9 493.3h0M250.1 468.6h0M242.2 476h0M280.9 470.6h0M272 464.2h0M267.3 496.4h0M272.6 464.2h0M255.9 490.4h0M268.8 479.1h0M277.4 483.7h0M261.6 478.8h0M255 490.5h0M262.5 504.1h0M276.8 489.4h0M246.8 494.5h0M252.5 492.2h0M268.5 509.3h0M239.4 464.7h0M282.2 472.8h0M257 467h0M287 508.1h0M265.2 484.7h0M274.4 478.5h0M286.2 475.6h0M253.6 507.8h0M248.7 471.6h0M279.8 487.6h0M247.8 494.2h0M285.4 512.2h0M280.7 487.2h0M265.3 507h0M269.1 473.2h0M243.5 508.1h0M269 470.1h0M265.9 496.3h0M246.8 468.2h0M280.8 509.1h0M249.3 471.5h0M264 502.7h0M246.3 467.6h0M287.4 505.2h0M261.8 480.7h0" stroke="#981313" stroke-width="1.2" stroke-linecap="round" fill="none"/>
<path d="M255.7 506h0M247 467.3h0M277.2 501h0M256.6 473.1h0M257 491.8h0M273.8 493.2h0M272.5 475.7h0M277.8 509.7h0M282 511.5h0M250.7 471.2h0M244.1 469.1h0M267.3 508h0M286.3 503.1h0M279.9 508.3h0M266 502.4h0M267.5 480.1h0M284.8 476.3h0M252.1 510.7h0M282.5 475.2h0M286.7 486.4h0M265.3 471.3h0M270.7 478.9h0M282.6 474.6h0M288 493.7h0M287.2 502.7h0M275.1 507.1h0M265.4 471.2h0M248.5 497.4h0M247.4 509.1h0M278.8 486.6h0M246 510.1h0M277.2 491.1h0M273.8 486.1h0M271 483.7h0M287.7 482h0M261.6 471h0M247.9 479.9h0M246.4 469.9h0M249.5 467h0M255.5 498.9h0M280.7 467h0M240.7 510.6h0M281.1 509.6h0M271.5 509h0M239.9 490.8h0M247.6 469.4h0M243.8 470.3h0M247.8 494.7h0M262.5 479.4h0M280.2 482.3h0M244.5 501.7h0M280.6 477h0M282 498h0M246.8 490h0M266.9 497.9h0M258.7 494.3h0M277.7 465.9h0M242.8 508.1h0M248 491.8h0M284.8 474.4h0M249.4 477.9h0M255.9 481.8h0M266.4 473.6h0M276.2 505.7h0M282.6 480h0M280.5 506.5h0M262.5 501.3h0M264.7 483.3h0M247.7 477.3h0M255.3 507.9h0M262.2 498.4h0M250.1 479.3h0M240.5 477.4h0M260.1 497.2h0M261.8 511.6h0M274.5 500.5h0M252.6 482.2h0M247.8 498.3h0M258.6 469.4h0M277.3 488.6h0M278.3 489.4h0M241.4 465.3h0M279.4 477.9h0M250.4 480.8h0M274.6 477.3h0M239 504.9h0M250.3 470.7h0M274.1 507.1h0M251.3 489h0M276.4 472.4h0M266.7 498.9h0M246 469.3h0M282.7 511.6h0M266.9 469.9h0M275.9 470h0M260 487.4h0M272.3 481.6h0M260.8 504.1h0M263.2 494.1h0M252.3 502.4h0M251.9 500.7h0M257.9 506.7h0M276 507.2h0M249.5 468.2h0M280 496.7h0M257.4 494.4h0M241.7 510.8h0M245.1 477.3h0M249.9 494.8h0M243.9 501.6h0M245.6 491.2h0M257 468.4h0M266.1 497.3h0M258.5 481.2h0M243.2 480.5h0M268.9 497.8h0M255.3 465.2h0M261 502.1h0M271.9 498.5h0M239.4 473.5h0" stroke="#4a0a0a" stroke-width="1.1" stroke-linecap="round" fill="none"/>
<rect x="292.2" y="461.8" width="51.8" height="51.6" fill="#020217"/>
<path d="M295.3 495.2h0M307.7 471.9h0M302.8 482.7h0M297.3 475.2h0M305.8 507h0M311.4 467.3h0M330 477.7h0M342.3 465.9h0M335.9 466.6h0M333 486.1h0M325.4 506.7h0M329.3 500.6h0M340 510h0M310.3 473.5h0M320.8 500h0M337.7 474.7h0M300.8 509.5h0M312.8 476.6h0M308.7 495.7h0M314.2 479.7h0M334.2 464.8h0M304 510.1h0M294.4 489.7h0M296.7 494.9h0M329.9 510.9h0M316.6 499.2h0M324.4 499.9h0M314 486.1h0M325.1 494.8h0M341.3 510h0M339.8 504.9h0M317.7 499.7h0M340.7 501h0M295.3 472.1h0M294.8 475.3h0M330.9 476.7h0M299.3 486.4h0M335.1 466.3h0M333.6 466h0M313.6 503.4h0M325.7 508.4h0M324.4 475.3h0M301.2 496.3h0M306.6 511.8h0M312.8 464h0M339.5 481.4h0M330.3 464.9h0M321.9 506.7h0M321.1 487.8h0M324.1 506.3h0M303.6 470.7h0M294.3 506.4h0M320.1 480h0M335.9 487.2h0M332 465.8h0M340.4 495.4h0M324.7 467h0M320.4 467.9h0M307 475.6h0M326 475.1h0M297.2 506.7h0M321.3 471.2h0M305.7 488.3h0M328.7 500h0M293.9 483.3h0M307.4 469.9h0M341.1 473.9h0M294.8 501.1h0M296.5 477.3h0M300.5 507h0M329.5 490.9h0M338.9 509.1h0M300.3 488.8h0M331.8 497h0M301.9 477.4h0M294.2 482.6h0M302 481.7h0M315.2 474.8h0M332.2 505h0M310.9 501.5h0M312.5 469.5h0M339.3 489h0M323 510.9h0M314.8 472.1h0M314.1 479.9h0M337.2 462.9h0M310.9 496.4h0M319.2 467.2h0M311.7 495.4h0M332.8 469.6h0M294.6 509.3h0M296.8 502.2h0M327.9 482.3h0M306.7 472.2h0M317.7 474h0M323.6 465.2h0M337.9 489.2h0M310.6 464h0M341.4 481.9h0M327.9 469.2h0M318.5 501.5h0M329.1 511.8h0M331 482h0M324.4 490.9h0M314.5 502.3h0M317.7 468.2h0M330.3 503.7h0M297.9 487h0M316.9 481.1h0M298.6 494.8h0M302.7 508.5h0M323.2 491.6h0M341 469.4h0M303.8 486.8h0M329.1 484.5h0M323.5 501.5h0M305.4 468.8h0M294.5 476.2h0M301.9 504.9h0M336.2 509.3h0M314.9 499.3h0M310.8 473.5h0M322.3 506.2h0M337.2 489h0M325.9 470.4h0M318.7 475h0M320.9 486.6h0M315 474h0M298.1 510.6h0M303.3 500.7h0M300.5 501h0M304.1 465h0M309.6 507.7h0M301.7 497h0M323.2 495.5h0M297.3 471.3h0M307.6 484.2h0M325.7 486.6h0M339.6 497.3h0M320.2 496.9h0M293.7 498.7h0M301.4 475.9h0M340.9 475.2h0M302 484.8h0M306.5 498.6h0M328.8 502.5h0M304.6 486.1h0M319.9 508.1h0M310.1 512.2h0M322.9 474.5h0M294.5 475.6h0M326.5 502.1h0M308.8 493.1h0M295.9 469.7h0M321 499.5h0M296.4 479.4h0M312.9 474.5h0M328 470.8h0M302.7 466.3h0M316.1 511.9h0M314.8 500.9h0M324 506h0M320.1 485.9h0M341.2 486.8h0M312.2 485.6h0M308.6 511.8h0M306 511.7h0M295.1 501.5h0M328.5 492.8h0M323.8 463.9h0M297.2 500h0M333 478.7h0M321 483.9h0M334.6 467.8h0M312.5 483.1h0M310.1 477.4h0M321.3 478.4h0M323.9 466.4h0M332.6 509.7h0M303.4 475.1h0M323.9 486.5h0M325.1 464.8h0M311.6 483.5h0M310.6 504.8h0M318.8 477.6h0M324.1 475.1h0M295.5 480.2h0M297.4 492.2h0M300.4 467.2h0M307.3 507.6h0M325.4 471.9h0M323.2 472.6h0M293.3 475.7h0M293.9 487.4h0M307.5 481.5h0M324.6 467.9h0M295.1 472.2h0M312 473.9h0M324.2 474.2h0M293.4 463.7h0" stroke="#2424f0" stroke-width="1.4" stroke-linecap="round" fill="none"/>
<rect x="346.5" y="461.8" width="51.8" height="51.6" fill="#0a021c"/>
<path d="M364.3 506h0M355.6 467.3h0M385.8 501h0M365.2 473.1h0M365.6 491.8h0M382.4 493.2h0M381.1 475.7h0M386.4 509.7h0M390.6 511.5h0M359.3 471.2h0M352.7 469.1h0M375.9 508h0M394.9 503.1h0M388.5 508.3h0M374.6 502.4h0M376.1 480.1h0M393.4 476.3h0M360.7 510.7h0M391.1 475.2h0M395.3 486.4h0M373.9 471.3h0M379.3 478.9h0M391.2 474.6h0M396.6 493.7h0M395.8 502.7h0M383.7 507.1h0M374 471.2h0M357.1 497.4h0M356 509.1h0M387.4 486.6h0M354.6 510.1h0M385.8 491.1h0M382.4 486.1h0M379.6 483.7h0M396.3 482h0M370.2 471h0M356.5 479.9h0M355 469.9h0M358.1 467h0M364.1 498.9h0M389.3 467h0M349.3 510.6h0M389.7 509.6h0M380.1 509h0M348.5 490.8h0M356.2 469.4h0M352.4 470.3h0M356.4 494.7h0M371.1 479.4h0M388.8 482.3h0M353.1 501.7h0M389.2 477h0M390.6 498h0M355.4 490h0M375.5 497.9h0M367.3 494.3h0M386.3 465.9h0M351.4 508.1h0M356.6 491.8h0M393.4 474.4h0M358 477.9h0M364.5 481.8h0M375 473.6h0M384.8 505.7h0M391.2 480h0M389.1 506.5h0M371.1 501.3h0M373.3 483.3h0M356.3 477.3h0M363.9 507.9h0M370.8 498.4h0M358.7 479.3h0M349.1 477.4h0M368.7 497.2h0M370.4 511.6h0M383.1 500.5h0M361.2 482.2h0M356.4 498.3h0M367.2 469.4h0M385.9 488.6h0M386.9 489.4h0M350 465.3h0M388 477.9h0M359 480.8h0M383.2 477.3h0M347.6 504.9h0M358.9 470.7h0M382.7 507.1h0M359.9 489h0M385 472.4h0M375.3 498.9h0M354.6 469.3h0M391.3 511.6h0M375.5 469.9h0M384.5 470h0M368.6 487.4h0M380.9 481.6h0M369.4 504.1h0M371.8 494.1h0M360.9 502.4h0M360.5 500.7h0M366.5 506.7h0M384.6 507.2h0M358.1 468.2h0M388.6 496.7h0M366 494.4h0M350.3 510.8h0M353.7 477.3h0M358.5 494.8h0M352.5 501.6h0M354.2 491.2h0M365.6 468.4h0M374.7 497.3h0M367.1 481.2h0M351.8 480.5h0M377.5 497.8h0M363.9 465.2h0M369.6 502.1h0M380.5 498.5h0M348 473.5h0" stroke="#50103a" stroke-width="1.1" stroke-linecap="round" fill="none"/>
<path d="M349.6 495.2h0M362 471.9h0M357.1 482.7h0M351.6 475.2h0M360.1 507h0M365.7 467.3h0M384.3 477.7h0M396.6 465.9h0M390.2 466.6h0M387.3 486.1h0M379.7 506.7h0M383.6 500.6h0M394.3 510h0M364.6 473.5h0M375.1 500h0M392 474.7h0M355.1 509.5h0M367.1 476.6h0M363 495.7h0M368.5 479.7h0M388.5 464.8h0M358.3 510.1h0M348.7 489.7h0M351 494.9h0M384.2 510.9h0M370.9 499.2h0M378.7 499.9h0M368.3 486.1h0M379.4 494.8h0M395.6 510h0M394.1 504.9h0M372 499.7h0M395 501h0M349.6 472.1h0M349.1 475.3h0M385.2 476.7h0M353.6 486.4h0M389.4 466.3h0M387.9 466h0M367.9 503.4h0M380 508.4h0M378.7 475.3h0M355.5 496.3h0M360.9 511.8h0M367.1 464h0M393.8 481.4h0M384.6 464.9h0M376.2 506.7h0M375.4 487.8h0M378.4 506.3h0M357.9 470.7h0M348.6 506.4h0M374.4 480h0M390.2 487.2h0M386.3 465.8h0M394.7 495.4h0M379 467h0M374.7 467.9h0M361.3 475.6h0M380.3 475.1h0M351.5 506.7h0M375.6 471.2h0M360 488.3h0M383 500h0M348.2 483.3h0M361.7 469.9h0M395.4 473.9h0M349.1 501.1h0M350.8 477.3h0M354.8 507h0M383.8 490.9h0M393.2 509.1h0M354.6 488.8h0M386.1 497h0M356.2 477.4h0M348.5 482.6h0M356.3 481.7h0M369.5 474.8h0M386.5 505h0M365.2 501.5h0M366.8 469.5h0M393.6 489h0M377.3 510.9h0M369.1 472.1h0M368.4 479.9h0M391.5 462.9h0M365.2 496.4h0M373.5 467.2h0M366 495.4h0M387.1 469.6h0M348.9 509.3h0M351.1 502.2h0M382.2 482.3h0M361 472.2h0M372 474h0M377.9 465.2h0M392.2 489.2h0M364.9 464h0M395.7 481.9h0M382.2 469.2h0M372.8 501.5h0M383.4 511.8h0M385.3 482h0M378.7 490.9h0M368.8 502.3h0M372 468.2h0M384.6 503.7h0M352.2 487h0M371.2 481.1h0M352.9 494.8h0M357 508.5h0M377.5 491.6h0M395.3 469.4h0M358.1 486.8h0M383.4 484.5h0M377.8 501.5h0M359.7 468.8h0M348.8 476.2h0M356.2 504.9h0M390.5 509.3h0M369.2 499.3h0M365.1 473.5h0M376.6 506.2h0M391.5 489h0M380.2 470.4h0M373 475h0M375.2 486.6h0M369.3 474h0M352.4 510.6h0M357.6 500.7h0M354.8 501h0M358.4 465h0M363.9 507.7h0M356 497h0M377.5 495.5h0M351.6 471.3h0M361.9 484.2h0M380 486.6h0M393.9 497.3h0M374.5 496.9h0M348 498.7h0M355.7 475.9h0M395.2 475.2h0M356.3 484.8h0M360.8 498.6h0M383.1 502.5h0M358.9 486.1h0M374.2 508.1h0M364.4 512.2h0M377.2 474.5h0M348.8 475.6h0M380.8 502.1h0M363.1 493.1h0M350.2 469.7h0M375.3 499.5h0M350.7 479.4h0M367.2 474.5h0M382.3 470.8h0M357 466.3h0M370.4 511.9h0M369.1 500.9h0M378.3 506h0M374.4 485.9h0M395.5 486.8h0M366.5 485.6h0M362.9 511.8h0M360.3 511.7h0M349.4 501.5h0M382.8 492.8h0M378.1 463.9h0M351.5 500h0M387.3 478.7h0M375.3 483.9h0M388.9 467.8h0M366.8 483.1h0M364.4 477.4h0M375.6 478.4h0M378.2 466.4h0M386.9 509.7h0M357.7 475.1h0M378.2 486.5h0M379.4 464.8h0M365.9 483.5h0M364.9 504.8h0M373.1 477.6h0M378.4 475.1h0M349.8 480.2h0M351.7 492.2h0M354.7 467.2h0M361.6 507.6h0M379.7 471.9h0M377.5 472.6h0M347.6 475.7h0M348.2 487.4h0M361.8 481.5h0M378.9 467.9h0M349.4 472.2h0M366.3 473.9h0M378.5 474.2h0M347.7 463.7h0" stroke="#3a28e0" stroke-width="1.4" stroke-linecap="round" fill="none"/>
<path d="M347.7 482h0M360 484.3h0M350.9 507.1h0M381.7 481.8h0M374.3 477.7h0M363.4 474.3h0M363.5 507.3h0M362.9 476h0M386.2 504.1h0M362.3 464.9h0M370.1 468.8h0M366 483.7h0M361.6 473.1h0M351.5 502h0M385.6 498h0M351.4 471.5h0M359.7 504h0M354.3 477.9h0M377 473.4h0M367.1 486.7h0M385.8 492.8h0M354.9 470.8h0M352 492.1h0M384.6 512.2h0M380.4 489.9h0M357.6 471.7h0M356.7 477.4h0M365.3 502.7h0M380.6 470.9h0M367.8 486.1h0M370.9 506.2h0M377 477h0M380.5 463.5h0M382.3 485.6h0M389.5 470.7h0M348.1 478.6h0M352.7 511.7h0M363.3 471.8h0M347.8 465.1h0M374.4 485.5h0M364 487.6h0M367.7 463.4h0M391.8 504.1h0M370.3 472.6h0M385.6 479.6h0M383.2 508.1h0M384.8 489h0M370.7 483.2h0M353.4 471.9h0M386.3 498.2h0M372.6 510.5h0M390.2 480h0M363.2 465.8h0M395.6 509.8h0M397.2 485.6h0M382 463.9h0M387.7 498.7h0M386.1 491.7h0M354.3 502.3h0M359.4 511.3h0M376.6 507.5h0M355.4 510.7h0M385.1 463.5h0M349.7 506.1h0M373 488.5h0M393.1 492.1h0M391.6 492.6h0M377.4 474.9h0M372.7 467.4h0M392.6 509.3h0M377.7 465.6h0M355.5 498.8h0M373 472.2h0M367.4 497.4h0M386.5 491.7h0" stroke="#8428c4" stroke-width="1.2" stroke-linecap="round" fill="none"/>
<rect x="389.1" y="509.2" width="7.6" height="3.2" fill="#8a8a9a"/>
<text x="392.9" y="511.7" font-size="2.6" text-anchor="middle" fill="#222">20μm</text>
<text x="403.1" y="286.9" font-size="10.4">L</text>
<text x="441.4" y="297.6" font-size="8.7" text-anchor="middle" textLength="32.2" lengthAdjust="spacingAndGlyphs" fill="#2be02b">Pan Kla</text>
<text x="495.4" y="297.6" font-size="8.7" text-anchor="middle" textLength="21.2" lengthAdjust="spacingAndGlyphs" fill="#ff2020">iNOS</text>
<text x="550" y="297.6" font-size="8.7" text-anchor="middle" textLength="22.8" lengthAdjust="spacingAndGlyphs" fill="#b8f2e6">CD68</text>
<text x="603.2" y="297.6" font-size="8.7" text-anchor="middle" textLength="19.2" lengthAdjust="spacingAndGlyphs" fill="#2a2aff">Arg1</text>
<text x="659.2" y="297.6" font-size="8.7" text-anchor="middle" textLength="30.2" lengthAdjust="spacingAndGlyphs" fill="#000">Merged</text>
<text font-size="8.8" text-anchor="middle" textLength="44.4" lengthAdjust="spacingAndGlyphs" transform="translate(410.8 327.4) rotate(-90)">CTRL(Sed)</text>
<text font-size="8.8" text-anchor="middle" textLength="44.4" lengthAdjust="spacingAndGlyphs" transform="translate(410.8 381) rotate(-90)">CTRL(Exe)</text>
<text font-size="8.8" text-anchor="middle" textLength="38.4" lengthAdjust="spacingAndGlyphs" transform="translate(410.8 435) rotate(-90)">Cko(Sed)</text>
<text font-size="8.8" text-anchor="middle" textLength="38.4" lengthAdjust="spacingAndGlyphs" transform="translate(410.8 489.5) rotate(-90)">Cko(Exe)</text>
<rect x="415.1" y="300.1" width="52.6" height="52.4" fill="#020202"/>
<g stroke="#14d858" stroke-linecap="round" fill="none">
<path d="M439.9 333.2q-2.1 -0.9 -3.5 1M427.6 338.9q1.8 2.2 4.7 2.2M455.1 346h0M418.3 325.7h0" stroke-width="1"/>
<path d="M440.7 345.5q-2.5 0.6 -3.4 3.1M437.3 304.2q2 1.3 3.9 2.8M446.3 345.7h0M434.5 317.1h0M418 307.8h0M420.2 333.1h0M428 328.6h0M444.4 305.2h0M422.5 350.4h0M422 306.5h0M426.4 327.1h0" stroke-width="1.5"/>
<path d="M438.8 340.2q-0.2 2.8 -2.8 3.5M441.6 347q-3.1 -0.7 -5.8 1M456.2 305.5h0M423.3 322.7h0M433.2 343.6h0" stroke-width="2"/>
</g>
<rect x="469" y="300.1" width="52.6" height="52.4" fill="#020202"/>
<g stroke="#b01212" stroke-linecap="round" fill="none">
<path d="M495.5 347q-3.1 -0.7 -5.8 1M519.8 311.2q-3.1 0.9 -5.7 2.9M482 319h0M506.4 337.2h0M503.4 321.3h0M472.2 325.7h0" stroke-width="1"/>
<path d="M501.1 325q1.3 -0.1 2 1.1M483.3 336h0" stroke-width="0.5"/>
<path d="M490.7 338.6h0M487.5 321.2h0M490.7 338.6h0" stroke-width="2"/>
<path d="M470.6 325.7h0M471.9 307.8h0" stroke-width="1.5"/>
</g>
<rect x="522.9" y="300.1" width="52.6" height="52.4" fill="#020202"/>
<g stroke="#40e0dc" stroke-linecap="round" fill="none">
<path d="M548.5 345.5q-2.5 0.6 -3.4 3.1M549.4 347q-3.1 -0.7 -5.8 1" stroke-width="3"/>
<path d="M535.4 338.9q1.8 2.2 4.7 2.2M551 343.9q-2.5 1.4 -5.2 0.2M562.5 314q1.4 2.4 3.3 4.5M529.8 306.5h0M552.6 343.7h0M531.6 315.5h0M524.5 325.7h0M554.1 345.7h0M534.6 329.6h0M556.6 321h0M528 333.1h0M572 333.7h0M525.8 307.8h0M534.2 327.1h0M552.2 305.2h0M535.9 337.8h0M535.8 328.6h0" stroke-width="1.5"/>
<path d="M565.9 307.7q-1.1 2.7 -3.5 4.4M564 305.5h0M540 317.8h0M544.6 338.6h0M541.4 321.2h0" stroke-width="2"/>
<path d="M573.7 311.2q-3.1 0.9 -5.7 2.9M545.1 304.2q2 1.3 3.9 2.8" stroke-width="2.5"/>
<path d="M535.1 311h0M571 307.3h0M530.7 346.7h0M563.8 312.2h0M531.2 310.6h0M554.4 322.6h0M562.9 346h0M532.2 312.9h0M571.3 331h0M526.1 325.7h0M535.8 342.3h0M533.6 338.6h0M554.8 339.9h0M540.5 327.8h0M560.3 337.2h0M539.2 348.3h0" stroke-width="1"/>
</g>
<rect x="576.8" y="300.1" width="52.6" height="52.4" fill="#020202"/>
<g stroke="#1818c0" stroke-linecap="round" fill="none">
<path d="M604.9 343.9q-2.5 1.4 -5.2 0.2" stroke-width="0.5"/>
<path d="M599.9 339.8q-0.6 0.3 -1 0.8M590.7 302.5h0M608 345.7h0M594.2 314.9h0M603.2 333h0" stroke-width="1.5"/>
<path d="M582.8 326h0M626.6 319.7h0M615.5 348.4h0M625.2 331h0M580 325.7h0" stroke-width="1"/>
<path d="M617.9 305.5h0" stroke-width="2"/>
</g>
<g style="isolation:isolate">
<rect x="630.7" y="300.1" width="52.6" height="52.4" fill="#020202"/>
<g stroke="#40e0dc" stroke-linecap="round" fill="none" style="mix-blend-mode:screen">
<path d="M656.3 345.5q-2.5 0.6 -3.4 3.1M657.2 347q-3.1 -0.7 -5.8 1" stroke-width="3"/>
<path d="M643.2 338.9q1.8 2.2 4.7 2.2M658.8 343.9q-2.5 1.4 -5.2 0.2M670.3 314q1.4 2.4 3.3 4.5M637.6 306.5h0M660.4 343.7h0M639.4 315.5h0M632.3 325.7h0M661.9 345.7h0M642.4 329.6h0M664.4 321h0M635.8 333.1h0M679.8 333.7h0M633.6 307.8h0M642 327.1h0M660 305.2h0M643.7 337.8h0M643.6 328.6h0" stroke-width="1.5"/>
<path d="M673.7 307.7q-1.1 2.7 -3.5 4.4M671.8 305.5h0M647.8 317.8h0M652.4 338.6h0M649.2 321.2h0" stroke-width="2"/>
<path d="M681.5 311.2q-3.1 0.9 -5.7 2.9M652.9 304.2q2 1.3 3.9 2.8" stroke-width="2.5"/>
<path d="M642.9 311h0M678.8 307.3h0M638.5 346.7h0M671.6 312.2h0M639 310.6h0M662.2 322.6h0M670.7 346h0M640 312.9h0M679.1 331h0M633.9 325.7h0M643.6 342.3h0M641.4 338.6h0M662.6 339.9h0M648.3 327.8h0M668.1 337.2h0M647 348.3h0" stroke-width="1"/>
</g>
<g stroke="#1818c0" stroke-linecap="round" fill="none" style="mix-blend-mode:screen">
<path d="M658.8 343.9q-2.5 1.4 -5.2 0.2" stroke-width="0.5"/>
<path d="M653.8 339.8q-0.6 0.3 -1 0.8M644.6 302.5h0M661.9 345.7h0M648.1 314.9h0M657.1 333h0" stroke-width="1.5"/>
<path d="M636.7 326h0M680.5 319.7h0M669.4 348.4h0M679.1 331h0M633.9 325.7h0" stroke-width="1"/>
<path d="M671.8 305.5h0" stroke-width="2"/>
</g>
<g stroke="#b01212" stroke-linecap="round" fill="none" style="mix-blend-mode:screen">
<path d="M657.2 347q-3.1 -0.7 -5.8 1M681.5 311.2q-3.1 0.9 -5.7 2.9M643.7 319h0M668.1 337.2h0M665.1 321.3h0M633.9 325.7h0" stroke-width="1"/>
<path d="M662.8 325q1.3 -0.1 2 1.1M645 336h0" stroke-width="0.5"/>
<path d="M652.4 338.6h0M649.2 321.2h0M652.4 338.6h0" stroke-width="2"/>
<path d="M632.3 325.7h0M633.6 307.8h0" stroke-width="1.5"/>
</g>
<g stroke="#14d858" stroke-linecap="round" fill="none" style="mix-blend-mode:screen">
<path d="M655.5 333.2q-2.1 -0.9 -3.5 1M643.2 338.9q1.8 2.2 4.7 2.2M670.7 346h0M633.9 325.7h0" stroke-width="1"/>
<path d="M656.3 345.5q-2.5 0.6 -3.4 3.1M652.9 304.2q2 1.3 3.9 2.8M661.9 345.7h0M650.1 317.1h0M633.6 307.8h0M635.8 333.1h0M643.6 328.6h0M660 305.2h0M638.1 350.4h0M637.6 306.5h0M642 327.1h0" stroke-width="1.5"/>
<path d="M654.4 340.2q-0.2 2.8 -2.8 3.5M657.2 347q-3.1 -0.7 -5.8 1M671.8 305.5h0M638.9 322.7h0M648.8 343.6h0" stroke-width="2"/>
</g>
</g>
<path d="M676.3 350.9h5.4" stroke="#fff" stroke-width=".8"/>
<text x="679" y="349.9" font-size="2.4" text-anchor="middle" fill="#eee">100μm</text>
<rect x="415.1" y="353.9" width="52.6" height="52.4" fill="#020202"/>
<g stroke="#14d858" stroke-linecap="round" fill="none">
<path d="M429.7 357.5q2.1 0.4 4.1 1M462.4 395.7h0M437.3 364.5h0M434.2 402.2h0M453.1 358.5h0M423.1 368.5h0M450.6 355.6h0M437.3 364.5h0M424.3 364h0" stroke-width="1.5"/>
<path d="M430.5 385.1q-1.2 0.1 -1.6 1.2M430.5 385.1q-1.2 0.1 -1.6 1.2M447.5 358.3q-0.2 2.8 1.1 5.2M447.5 358.3q-0.2 2.8 1.1 5.2M430.4 392.7q0.7 1.7 -0 3.3M429.6 367h0M419.3 358.7h0M434.9 396.5h0M434.8 398.3h0M435.8 364h0M459.9 392.8h0M450.9 364.6h0M442.8 381.7h0M431.4 397.2h0M442.5 389.1h0M419.3 358.7h0M439.3 392.3h0M435.3 363.1h0M419.4 402.8h0M459.9 392.8h0M419.4 402.8h0M419.3 358.7h0" stroke-width="1"/>
<path d="M425 388.8q-2.8 0.9 -5.1 2.9M461.7 391.8q-0.6 3.5 -4 4.2M457 362.5q-0.8 0.6 -1.8 0.6M452.4 405.2h0M432.9 399.9h0M434.3 386.2h0M446.1 355.7h0M446.1 355.7h0" stroke-width="2"/>
</g>
<rect x="469" y="353.9" width="52.6" height="52.4" fill="#020202"/>
<g stroke="#e81616" stroke-linecap="round" fill="none">
<path d="M499.3 389.6q0.1 2.2 -1.5 3.8M488.3 398.6q0.7 1.7 2.4 2.5M487.8 389.6h0M508.3 387.1h0M487.8 389.6h0M508.3 387.1h0M510.5 394.5h0M471.4 385.5h0M488.3 393.4h0M515.1 371.7h0M474.2 392.1h0M514.9 401.5h0M476.2 400.8h0M493.2 362h0" stroke-width="1"/>
<path d="M494.8 360.3q1.1 1.3 2.8 1.7M485.7 363q-3.9 -0.2 -4.7 3.6M474.5 386q-0.7 2.7 -3.1 4.3M500 355.7h0M492.4 364.5h0M486.2 360.7h0M493 380.4h0M510.8 396h0M474.2 364.3h0M488.2 386.2h0" stroke-width="2"/>
<path d="M477.9 361.8q-1.6 0.4 -3.3 0.9M475.6 367.5q-0.6 3.3 2.6 4.3M490.7 390.3q-0.6 0.6 -0.9 1.4M505.6 387.7q-1.4 2.7 -4.1 4.1M474.8 364.8h0M474.8 364.8h0M483.4 370.4h0M488.1 402.2h0M504.5 355.6h0M514.9 402.1h0M519.2 381.1h0M475.7 360.5h0M491.2 364.5h0" stroke-width="1.5"/>
</g>
<rect x="522.9" y="353.9" width="52.6" height="52.4" fill="#020202"/>
<g stroke="#38c8c8" stroke-linecap="round" fill="none">
<path d="M553.6 373q-1 0.4 -0.8 1.5M555.3 358.3q-0.2 2.8 1.1 5.2M542.2 398.6q0.7 1.7 2.4 2.5M565.5 404.5h0M542 402.2h0M570.2 395.7h0M541.8 379.9h0M537.6 392h0M568.8 402.1h0M528.7 364.8h0M535.5 357.2h0M558.4 355.6h0M545.1 364.5h0M568.6 378.7h0M552.1 356.3h0M560.9 358.5h0M529.1 372.6h0M529.6 360.5h0M551.9 364.1h0M537.3 370.4h0M561.8 358h0M551.9 400.4h0M526 364.1h0" stroke-width="1.5"/>
<path d="M553.2 389.6q0.1 2.2 -1.5 3.8M538.3 385.1q-1.2 0.1 -1.6 1.2M534.9 402.2h0M564.4 388.1h0M558.7 356.1h0M542.2 393.4h0M542.7 396.5h0M543.1 363.1h0M527.2 402.8h0M569 371.7h0M528.1 392.1h0M562.2 387.1h0M527.1 358.7h0M547.1 362h0M547.1 392.3h0M525.3 385.5h0M567.7 392.8h0M554.8 356h0M541.7 389.6h0M561 362.7h0M557.4 373.7h0" stroke-width="1"/>
<path d="M553.9 355.7h0M530.5 367.4h0M540.7 399.9h0M542.1 386.2h0M568.5 398.4h0" stroke-width="2"/>
</g>
<rect x="576.8" y="353.9" width="52.6" height="52.4" fill="#020202"/>
<g stroke="#1c1cf0" stroke-linecap="round" fill="none">
<path d="M586.1 373.8q-0.5 2.7 -3.2 3.4M590.1 356.8q-2.2 1.4 -4 3.2M607.3 405h0M611.5 399.8h0M606.1 380.9h0M596 386.2h0" stroke-width="2"/>
<path d="M591.3 397q2.3 0.3 4.6 0.7M624.5 378q1.7 0.9 3.6 0.6M607.1 397.1q2.8 0.2 5.6 0M607.5 373q-1 0.4 -0.8 1.5M595.7 379.9h0M615.7 358h0M605.8 364.1h0M591.5 392h0M595.7 379.9h0M605.8 364.1h0M614.8 358.5h0M605.7 369.4h0M606 356.3h0M621.3 367.6h0M614.8 358.5h0M622.7 402.1h0M619.4 404.5h0M589.4 357.2h0M583.5 360.5h0M622.9 371.7h0" stroke-width="1.5"/>
<path d="M592.2 385.1q-1.2 0.1 -1.6 1.2M607.1 389.6q0.1 2.2 -1.5 3.8M596.1 393.4h0M579.2 385.5h0M601 392.3h0M582 392.1h0M616.1 387.1h0M618.3 388.1h0M596.1 393.4h0M594.4 368h0M579.2 385.5h0M614.1 397.6h0M622.9 371.7h0M596.1 393.4h0M581.1 402.8h0M619.2 398.3h0" stroke-width="1"/>
<path d="M592.2 385.1q-1.2 0.1 -1.6 1.2" stroke-width="0.5"/>
</g>
<g style="isolation:isolate">
<rect x="630.7" y="353.9" width="52.6" height="52.4" fill="#020202"/>
<g stroke="#38c8c8" stroke-linecap="round" fill="none" style="mix-blend-mode:screen">
<path d="M661.4 373q-1 0.4 -0.8 1.5M663.1 358.3q-0.2 2.8 1.1 5.2M650 398.6q0.7 1.7 2.4 2.5M673.3 404.5h0M649.8 402.2h0M678 395.7h0M649.6 379.9h0M645.4 392h0M676.6 402.1h0M636.5 364.8h0M643.3 357.2h0M666.2 355.6h0M652.9 364.5h0M676.4 378.7h0M659.9 356.3h0M668.7 358.5h0M636.9 372.6h0M637.4 360.5h0M659.7 364.1h0M645.1 370.4h0M669.6 358h0M659.7 400.4h0M633.8 364.1h0" stroke-width="1.5"/>
<path d="M661 389.6q0.1 2.2 -1.5 3.8M646.1 385.1q-1.2 0.1 -1.6 1.2M642.7 402.2h0M672.2 388.1h0M666.5 356.1h0M650 393.4h0M650.5 396.5h0M650.9 363.1h0M635 402.8h0M676.8 371.7h0M635.9 392.1h0M670 387.1h0M634.9 358.7h0M654.9 362h0M654.9 392.3h0M633.1 385.5h0M675.5 392.8h0M662.6 356h0M649.5 389.6h0M668.8 362.7h0M665.2 373.7h0" stroke-width="1"/>
<path d="M661.7 355.7h0M638.3 367.4h0M648.5 399.9h0M649.9 386.2h0M676.3 398.4h0" stroke-width="2"/>
</g>
<g stroke="#1c1cf0" stroke-linecap="round" fill="none" style="mix-blend-mode:screen">
<path d="M640 373.8q-0.5 2.7 -3.2 3.4M644 356.8q-2.2 1.4 -4 3.2M661.2 405h0M665.4 399.8h0M660 380.9h0M649.9 386.2h0" stroke-width="2"/>
<path d="M645.2 397q2.3 0.3 4.6 0.7M678.4 378q1.7 0.9 3.6 0.6M661 397.1q2.8 0.2 5.6 0M661.4 373q-1 0.4 -0.8 1.5M649.6 379.9h0M669.6 358h0M659.7 364.1h0M645.4 392h0M649.6 379.9h0M659.7 364.1h0M668.7 358.5h0M659.6 369.4h0M659.9 356.3h0M675.2 367.6h0M668.7 358.5h0M676.6 402.1h0M673.3 404.5h0M643.3 357.2h0M637.4 360.5h0M676.8 371.7h0" stroke-width="1.5"/>
<path d="M646.1 385.1q-1.2 0.1 -1.6 1.2M661 389.6q0.1 2.2 -1.5 3.8M650 393.4h0M633.1 385.5h0M654.9 392.3h0M635.9 392.1h0M670 387.1h0M672.2 388.1h0M650 393.4h0M648.3 368h0M633.1 385.5h0M668 397.6h0M676.8 371.7h0M650 393.4h0M635 402.8h0M673.1 398.3h0" stroke-width="1"/>
<path d="M646.1 385.1q-1.2 0.1 -1.6 1.2" stroke-width="0.5"/>
</g>
<g stroke="#e81616" stroke-linecap="round" fill="none" style="mix-blend-mode:screen">
<path d="M661 389.6q0.1 2.2 -1.5 3.8M650 398.6q0.7 1.7 2.4 2.5M649.5 389.6h0M670 387.1h0M649.5 389.6h0M670 387.1h0M672.2 394.5h0M633.1 385.5h0M650 393.4h0M676.8 371.7h0M635.9 392.1h0M676.6 401.5h0M637.9 400.8h0M654.9 362h0" stroke-width="1"/>
<path d="M656.5 360.3q1.1 1.3 2.8 1.7M647.4 363q-3.9 -0.2 -4.7 3.6M636.2 386q-0.7 2.7 -3.1 4.3M661.7 355.7h0M654.1 364.5h0M647.9 360.7h0M654.7 380.4h0M672.5 396h0M635.9 364.3h0M649.9 386.2h0" stroke-width="2"/>
<path d="M639.6 361.8q-1.6 0.4 -3.3 0.9M637.3 367.5q-0.6 3.3 2.6 4.3M652.4 390.3q-0.6 0.6 -0.9 1.4M667.3 387.7q-1.4 2.7 -4.1 4.1M636.5 364.8h0M636.5 364.8h0M645.1 370.4h0M649.8 402.2h0M666.2 355.6h0M676.6 402.1h0M680.9 381.1h0M637.4 360.5h0M652.9 364.5h0" stroke-width="1.5"/>
</g>
<g stroke="#14d858" stroke-linecap="round" fill="none" style="mix-blend-mode:screen">
<path d="M645.3 357.5q2.1 0.4 4.1 1M678 395.7h0M652.9 364.5h0M649.8 402.2h0M668.7 358.5h0M638.7 368.5h0M666.2 355.6h0M652.9 364.5h0M639.9 364h0" stroke-width="1.5"/>
<path d="M646.1 385.1q-1.2 0.1 -1.6 1.2M646.1 385.1q-1.2 0.1 -1.6 1.2M663.1 358.3q-0.2 2.8 1.1 5.2M663.1 358.3q-0.2 2.8 1.1 5.2M646 392.7q0.7 1.7 -0 3.3M645.2 367h0M634.9 358.7h0M650.5 396.5h0M650.4 398.3h0M651.4 364h0M675.5 392.8h0M666.5 364.6h0M658.4 381.7h0M647 397.2h0M658.1 389.1h0M634.9 358.7h0M654.9 392.3h0M650.9 363.1h0M635 402.8h0M675.5 392.8h0M635 402.8h0M634.9 358.7h0" stroke-width="1"/>
<path d="M640.6 388.8q-2.8 0.9 -5.1 2.9M677.3 391.8q-0.6 3.5 -4 4.2M672.6 362.5q-0.8 0.6 -1.8 0.6M668 405.2h0M648.5 399.9h0M649.9 386.2h0M661.7 355.7h0M661.7 355.7h0" stroke-width="2"/>
</g>
</g>
<path d="M676.3 404.7h5.4" stroke="#fff" stroke-width=".8"/>
<text x="679" y="403.7" font-size="2.4" text-anchor="middle" fill="#eee">100μm</text>
<rect x="415.1" y="407.8" width="52.6" height="52.4" fill="#020202"/>
<g stroke="#0a4018" stroke-linecap="round" fill="none">
<path d="M459.6 419.3h0M456.8 449.6h0" stroke-width="2"/>
<path d="M447.7 436.1h0" stroke-width="1.5"/>
<path d="M418.9 418.4h0" stroke-width="0.5"/>
</g>
<rect x="469" y="407.8" width="52.6" height="52.4" fill="#020202"/>
<g stroke="#c01414" stroke-linecap="round" fill="none">
<path d="M477.4 412.7q-1.6 1.8 -0.4 3.8M481.8 436.9h0M493.3 425.9h0M470.2 421.2h0M520.3 430.9h0M493.3 425.9h0M509.9 451.1h0M486.5 430.2h0M473.1 449.1h0" stroke-width="1.5"/>
<path d="M517.4 446.2q1.3 0.9 2.1 2.2" stroke-width="0.5"/>
<path d="M492.2 413.3q-0.8 0.1 -1.6 0.1M507.2 451.5q0.9 -0.5 1.7 0.1M496.5 413.3h0M476.6 417.5h0M488.4 428.2h0M481.4 454.3h0M496.3 418.2h0M477.3 459.1h0" stroke-width="1"/>
</g>
<rect x="522.9" y="407.8" width="52.6" height="52.4" fill="#020202"/>
<g stroke="#40d8d4" stroke-linecap="round" fill="none">
<path d="M560.3 431.6q-2.2 2.1 -1 4.9M542.3 432.7q2.3 1.4 1.3 3.9M529.2 425.7q-3.7 -0.6 -5.3 2.7M570.3 454.8h0M565.8 441.5h0M565.4 438.9h0M541.7 416.7h0M559.5 457.6h0M567.4 419.3h0M553.7 447.1h0M570.1 417h0M563.4 458.3h0M548.7 410.2h0M564.6 449.6h0M573.9 450.1h0M547.2 420.3h0" stroke-width="2"/>
<path d="M553.8 409.5q-1.3 1.3 -0.1 2.8M548 449.7h0M530.5 417.5h0M557.2 450.4h0M537.6 419.9h0M549.7 449.7h0M540.1 439.8h0M538.9 420.5h0M535.6 408.9h0M563.4 426.2h0M542.3 428.2h0M531.2 459.1h0M542.5 446.7h0M574 436.1h0M541.5 445.6h0M541.6 458.1h0M559.8 456.4h0M525.6 417.3h0M550.4 413.3h0" stroke-width="1"/>
<path d="M561.1 451.5q0.9 -0.5 1.7 0.1M571.3 446.2q1.3 0.9 2.1 2.2M525.9 423.4h0M535.7 436.9h0M555.5 436.1h0M560 413.4h0M547.2 425.9h0M549 429.5h0M543.5 438h0M565.5 427.1h0M569.3 444.4h0M559.4 424.5h0M533.3 417.1h0M569.2 446.3h0M560.9 458.6h0M560.1 410.9h0M556.1 441h0M536.5 458h0M524.1 421.2h0" stroke-width="1.5"/>
</g>
<rect x="576.8" y="407.8" width="52.6" height="52.4" fill="#020202"/>
<g stroke="#141480" stroke-linecap="round" fill="none">
<path d="M601.5 453.8h0M585.1 459.1h0M585.1 459.1h0" stroke-width="1"/>
<path d="M623.2 444.4h0" stroke-width="1.5"/>
<path d="M619.7 441.5h0M619.3 438.9h0M601.1 420.3h0" stroke-width="2"/>
<path d="M578.1 440.3h0" stroke-width="0.5"/>
</g>
<g style="isolation:isolate">
<rect x="630.7" y="407.8" width="52.6" height="52.4" fill="#020202"/>
<g stroke="#40d8d4" stroke-linecap="round" fill="none" style="mix-blend-mode:screen">
<path d="M668.1 431.6q-2.2 2.1 -1 4.9M650.1 432.7q2.3 1.4 1.3 3.9M637 425.7q-3.7 -0.6 -5.3 2.7M678.1 454.8h0M673.6 441.5h0M673.2 438.9h0M649.5 416.7h0M667.3 457.6h0M675.2 419.3h0M661.5 447.1h0M677.9 417h0M671.2 458.3h0M656.5 410.2h0M672.4 449.6h0M681.7 450.1h0M655 420.3h0" stroke-width="2"/>
<path d="M661.6 409.5q-1.3 1.3 -0.1 2.8M655.8 449.7h0M638.3 417.5h0M665 450.4h0M645.4 419.9h0M657.5 449.7h0M647.9 439.8h0M646.7 420.5h0M643.4 408.9h0M671.2 426.2h0M650.1 428.2h0M639 459.1h0M650.3 446.7h0M681.8 436.1h0M649.3 445.6h0M649.4 458.1h0M667.6 456.4h0M633.4 417.3h0M658.2 413.3h0" stroke-width="1"/>
<path d="M668.9 451.5q0.9 -0.5 1.7 0.1M679.1 446.2q1.3 0.9 2.1 2.2M633.7 423.4h0M643.5 436.9h0M663.3 436.1h0M667.8 413.4h0M655 425.9h0M656.8 429.5h0M651.3 438h0M673.3 427.1h0M677.1 444.4h0M667.2 424.5h0M641.1 417.1h0M677 446.3h0M668.7 458.6h0M667.9 410.9h0M663.9 441h0M644.3 458h0M631.9 421.2h0" stroke-width="1.5"/>
</g>
<g stroke="#141480" stroke-linecap="round" fill="none" style="mix-blend-mode:screen">
<path d="M655.4 453.8h0M639 459.1h0M639 459.1h0" stroke-width="1"/>
<path d="M677.1 444.4h0" stroke-width="1.5"/>
<path d="M673.6 441.5h0M673.2 438.9h0M655 420.3h0" stroke-width="2"/>
<path d="M632 440.3h0" stroke-width="0.5"/>
</g>
<g stroke="#c01414" stroke-linecap="round" fill="none" style="mix-blend-mode:screen">
<path d="M639.1 412.7q-1.6 1.8 -0.4 3.8M643.5 436.9h0M655 425.9h0M631.9 421.2h0M682 430.9h0M655 425.9h0M671.6 451.1h0M648.2 430.2h0M634.8 449.1h0" stroke-width="1.5"/>
<path d="M679.1 446.2q1.3 0.9 2.1 2.2" stroke-width="0.5"/>
<path d="M653.9 413.3q-0.8 0.1 -1.6 0.1M668.9 451.5q0.9 -0.5 1.7 0.1M658.2 413.3h0M638.3 417.5h0M650.1 428.2h0M643.1 454.3h0M658 418.2h0M639 459.1h0" stroke-width="1"/>
</g>
<g stroke="#0a4018" stroke-linecap="round" fill="none" style="mix-blend-mode:screen">
<path d="M675.2 419.3h0M672.4 449.6h0" stroke-width="2"/>
<path d="M663.3 436.1h0" stroke-width="1.5"/>
<path d="M634.5 418.4h0" stroke-width="0.5"/>
</g>
</g>
<path d="M676.3 458.6h5.4" stroke="#fff" stroke-width=".8"/>
<text x="679" y="457.6" font-size="2.4" text-anchor="middle" fill="#eee">100μm</text>
<rect x="415.1" y="461.9" width="52.6" height="52.4" fill="#020202"/>
<g stroke="#108838" stroke-linecap="round" fill="none">
<path d="M443.7 490.6q0.2 0.9 -0 1.8M418.3 497.1h0M456.2 464.6h0M417.2 505.3h0M450.1 499.9h0M442.3 471.1h0" stroke-width="1"/>
<path d="M419.1 498.3q0.2 2.8 1.5 5.2M443.7 469h0" stroke-width="1.5"/>
<path d="M449.1 472.2h0M462.1 504.9h0" stroke-width="2"/>
</g>
<rect x="469" y="461.9" width="52.6" height="52.4" fill="#020202"/>
<g stroke="#ee1818" stroke-linecap="round" fill="none">
<path d="M494.1 501.2q-2.5 0.3 -4.9 0.8M483.6 487.9q2.4 -0.5 3.4 1.8M502.9 470.5h0M492.4 475.3h0M505.7 463.7h0M502.9 470.5h0" stroke-width="2"/>
<path d="M495.6 487.8q-1.4 0.2 -1.9 1.5M471.4 493q2.2 2 3.8 4.5M507.7 481.2q0.3 1.7 1 3.2M495.8 473.8h0M471.4 499.8h0M509.4 507.7h0M503.5 473.5h0M474.7 490h0M472.6 468.5h0M501.5 510.5h0M481.3 492.2h0M488.6 479.1h0M511.1 476.9h0" stroke-width="1.5"/>
<path d="M498.7 494.4q1.9 1.8 3.8 3.5M473 498.3q0.2 2.8 1.5 5.2" stroke-width="3"/>
<path d="M482.4 488.7q-1.5 3.1 -0 6.1M505.9 476.1q1.9 2.2 -0 4.4M499.1 486.1q-3.1 1.8 -3 5.3" stroke-width="2.5"/>
<path d="M518.6 490.1h0M509.3 464.8h0M471.8 500.5h0M518.1 512.7h0M486.5 487.2h0M506 477.8h0M484.4 465.8h0M486.4 474.5h0M506.3 497.8h0M496.2 471.1h0" stroke-width="1"/>
</g>
<rect x="522.9" y="461.9" width="52.6" height="52.4" fill="#020202"/>
<g stroke="#40e0dc" stroke-linecap="round" fill="none">
<path d="M529.1 507.1q1.3 3.2 4.2 5.2M528.1 487.6q-1.2 2.9 -2.9 5.6M526.9 498.3q0.2 2.8 1.5 5.2" stroke-width="3"/>
<path d="M560.1 503.3q3.8 -0.9 6.4 2.1M561.6 481.2q0.3 1.7 1 3.2M565.6 482.2q0.8 3.5 -2.4 5.2M563.1 505.6q-0.9 1.6 0.2 3.1M556.8 470.5h0M552.4 509.6h0M546.3 475.3h0M569.9 504.9h0M556.9 472.2h0" stroke-width="2"/>
<path d="M525.3 493q2.2 2 3.8 4.5M544.5 467.4h0M535.2 492.2h0M565.5 463.7h0M556.6 512.4h0M525.3 499.8h0M550 484.3h0M526.5 468.5h0M563.3 507.7h0M524 488.7h0M556.6 506.8h0M554.1 510.4h0M540.9 480.6h0M542.5 479.1h0M571.2 498h0M546.8 499.5h0" stroke-width="1.5"/>
<path d="M547 469.1q1.7 0.1 3 1.2" stroke-width="2.5"/>
<path d="M525.1 503.3h0M557.2 477.1h0M572.5 490.1h0M543.9 510.2h0M525 505.3h0M563.2 464.8h0M549.9 507.2h0M559.9 477.8h0M550.1 471.1h0M524.9 507.4h0M570.8 474.2h0M525.7 500.5h0" stroke-width="1"/>
</g>
<rect x="576.8" y="461.9" width="52.6" height="52.4" fill="#020202"/>
<g stroke="#1818a0" stroke-linecap="round" fill="none">
<path d="M615.5 481.2q0.3 1.7 1 3.2M626.4 490.1h0M625.9 475.7h0M627.8 489.2h0M578.8 507.4h0" stroke-width="1"/>
<path d="M589.1 492.2h0" stroke-width="1.5"/>
<path d="M624.2 503.3h0M626.8 498.1h0" stroke-width="0.5"/>
<path d="M623.8 504.9h0" stroke-width="2"/>
</g>
<g style="isolation:isolate">
<rect x="630.7" y="461.9" width="52.6" height="52.4" fill="#020202"/>
<g stroke="#40e0dc" stroke-linecap="round" fill="none" style="mix-blend-mode:screen">
<path d="M636.9 507.1q1.3 3.2 4.2 5.2M635.9 487.6q-1.2 2.9 -2.9 5.6M634.7 498.3q0.2 2.8 1.5 5.2" stroke-width="3"/>
<path d="M667.9 503.3q3.8 -0.9 6.4 2.1M669.4 481.2q0.3 1.7 1 3.2M673.4 482.2q0.8 3.5 -2.4 5.2M670.9 505.6q-0.9 1.6 0.2 3.1M664.6 470.5h0M660.2 509.6h0M654.1 475.3h0M677.7 504.9h0M664.7 472.2h0" stroke-width="2"/>
<path d="M633.1 493q2.2 2 3.8 4.5M652.3 467.4h0M643 492.2h0M673.3 463.7h0M664.4 512.4h0M633.1 499.8h0M657.8 484.3h0M634.3 468.5h0M671.1 507.7h0M631.8 488.7h0M664.4 506.8h0M661.9 510.4h0M648.7 480.6h0M650.3 479.1h0M679 498h0M654.6 499.5h0" stroke-width="1.5"/>
<path d="M654.8 469.1q1.7 0.1 3 1.2" stroke-width="2.5"/>
<path d="M632.9 503.3h0M665 477.1h0M680.3 490.1h0M651.7 510.2h0M632.8 505.3h0M671 464.8h0M657.7 507.2h0M667.7 477.8h0M657.9 471.1h0M632.7 507.4h0M678.6 474.2h0M633.5 500.5h0" stroke-width="1"/>
</g>
<g stroke="#1818a0" stroke-linecap="round" fill="none" style="mix-blend-mode:screen">
<path d="M669.4 481.2q0.3 1.7 1 3.2M680.3 490.1h0M679.8 475.7h0M681.7 489.2h0M632.7 507.4h0" stroke-width="1"/>
<path d="M643 492.2h0" stroke-width="1.5"/>
<path d="M678.1 503.3h0M680.7 498.1h0" stroke-width="0.5"/>
<path d="M677.7 504.9h0" stroke-width="2"/>
</g>
<g stroke="#ee1818" stroke-linecap="round" fill="none" style="mix-blend-mode:screen">
<path d="M655.8 501.2q-2.5 0.3 -4.9 0.8M645.3 487.9q2.4 -0.5 3.4 1.8M664.6 470.5h0M654.1 475.3h0M667.4 463.7h0M664.6 470.5h0" stroke-width="2"/>
<path d="M657.3 487.8q-1.4 0.2 -1.9 1.5M633.1 493q2.2 2 3.8 4.5M669.4 481.2q0.3 1.7 1 3.2M657.5 473.8h0M633.1 499.8h0M671.1 507.7h0M665.2 473.5h0M636.4 490h0M634.3 468.5h0M663.2 510.5h0M643 492.2h0M650.3 479.1h0M672.8 476.9h0" stroke-width="1.5"/>
<path d="M660.4 494.4q1.9 1.8 3.8 3.5M634.7 498.3q0.2 2.8 1.5 5.2" stroke-width="3"/>
<path d="M644.1 488.7q-1.5 3.1 -0 6.1M667.6 476.1q1.9 2.2 -0 4.4M660.8 486.1q-3.1 1.8 -3 5.3" stroke-width="2.5"/>
<path d="M680.3 490.1h0M671 464.8h0M633.5 500.5h0M679.8 512.7h0M648.2 487.2h0M667.7 477.8h0M646.1 465.8h0M648.1 474.5h0M668 497.8h0M657.9 471.1h0" stroke-width="1"/>
</g>
<g stroke="#108838" stroke-linecap="round" fill="none" style="mix-blend-mode:screen">
<path d="M659.3 490.6q0.2 0.9 -0 1.8M633.9 497.1h0M671.8 464.6h0M632.8 505.3h0M665.7 499.9h0M657.9 471.1h0" stroke-width="1"/>
<path d="M634.7 498.3q0.2 2.8 1.5 5.2M659.3 469h0" stroke-width="1.5"/>
<path d="M664.7 472.2h0M677.7 504.9h0" stroke-width="2"/>
</g>
</g>
<path d="M676.3 512.7h5.4" stroke="#fff" stroke-width=".8"/>
<text x="679" y="511.7" font-size="2.4" text-anchor="middle" fill="#eee">100μm</text>
<text x="0.1" y="529.4" font-size="10.4">M</text>
<rect x="39.7" y="537.7" width="9.9" height="4.7" fill="#d6d6d6" stroke="#000" stroke-width="0.7"/>
<text x="53" y="542.9" font-size="8.3" textLength="22" lengthAdjust="spacingAndGlyphs">CTRL</text>
<rect x="93.5" y="537.7" width="10.2" height="4.7" fill="#2cb4f1" stroke="#000" stroke-width="0.7"/>
<text x="106.6" y="542.9" font-size="8.3" textLength="22.7" lengthAdjust="spacingAndGlyphs">LDHA</text>
<text x="129.6" y="538.9" font-size="4.2" textLength="7.6" lengthAdjust="spacingAndGlyphs" font-style="italic">ΔMc</text>
<rect x="35.8" y="653.2" width="17" height="27.4" fill="#d6d6d6" stroke="#000" stroke-width="0.7"/>
<rect x="62.7" y="651.6" width="17" height="29" fill="#2cb4f1" stroke="#000" stroke-width="0.7"/>
<rect x="107.1" y="612.4" width="17.5" height="68.2" fill="#d6d6d6" stroke="#000" stroke-width="0.7"/>
<rect x="134" y="618.4" width="17.5" height="62.2" fill="#2cb4f1" stroke="#000" stroke-width="0.7"/>
<path d="M44.4 649.5V656.8M41 649.5h6.8M41 656.8h6.8" stroke="#000" stroke-width=".8" fill="none"/>
<path d="M71.2 650.3V653.4M67.8 650.3h6.8M67.8 653.4h6.8" stroke="#000" stroke-width=".8" fill="none"/>
<path d="M115.9 608.2V616.9M112.5 608.2h6.8M112.5 616.9h6.8" stroke="#000" stroke-width=".8" fill="none"/>
<path d="M142.8 617.4V619.5M139.4 617.4h6.8M139.4 619.5h6.8" stroke="#000" stroke-width=".8" fill="none"/>
<path d="M26.1 579.9V680.6H159.8" stroke="#000" stroke-width=".9" fill="none"/>
<text x="20.9" y="583.2" font-size="8.2" text-anchor="end">10</text>
<text x="20.9" y="603.4" font-size="8.2" text-anchor="end">8</text>
<text x="20.9" y="623.5" font-size="8.2" text-anchor="end">6</text>
<text x="20.9" y="643.5" font-size="8.2" text-anchor="end">4</text>
<text x="20.9" y="663.6" font-size="8.2" text-anchor="end">2</text>
<text x="20.9" y="683.6" font-size="8.2" text-anchor="end">0</text>
<path d="M26.1 580.3h-3.6M26.1 600.4h-3.6M26.1 620.5h-3.6M26.1 640.5h-3.6M26.1 660.6h-3.6M26.1 680.6h-3.6M57.7 680.6v2.4M128.4 680.6v2.4" stroke="#000" stroke-width=".9" fill="none"/>
<text x="57.3" y="694.8" font-size="8.9" text-anchor="middle" textLength="38.8" lengthAdjust="spacingAndGlyphs">LPS(Sed)</text>
<text x="128.6" y="694.8" font-size="8.9" text-anchor="middle" textLength="38.8" lengthAdjust="spacingAndGlyphs">LPS(Exe)</text>
<path d="M43.6 647.7h0M42.3 649.5h0M44.3 651.3h0M46 654.7h0M45.5 660h0M70.4 648.7h0M71.3 650.3h0M72 651.6h0M70.7 652.9h0M71.2 651h0M115.8 602h0M115.5 606.4h0M116.3 612.9h0M114.9 616.9h0M115.7 620.3h0M141 615.5h0M145.2 617.4h0M141.7 618.7h0M141 620h0M143 618h0" stroke="#000" stroke-width="2.2" stroke-linecap="round" fill="none"/>
<path d="M46.5 563.8L115.7 563.8" stroke="#555" stroke-width="0.9" fill="none"/>
<text x="58.8" y="560.2" font-size="8.6" textLength="47" lengthAdjust="spacingAndGlyphs"><tspan font-style="italic">P</tspan>=1.2x10<tspan font-size="5.4" dy="-3.2">−5</tspan></text>
<path d="M71 579.8L142.3 579.8" stroke="#555" stroke-width="0.9" fill="none"/>
<text x="83" y="576.9" font-size="8.6" textLength="46.8" lengthAdjust="spacingAndGlyphs"><tspan font-style="italic">P</tspan>=5.7x10<tspan font-size="5.4" dy="-3.2">−9</tspan></text>
<path d="M116.2 594.1L142.3 594.1" stroke="#555" stroke-width="0.9" fill="none"/>
<text x="123.5" y="591.5" font-size="8.6" textLength="9.7" lengthAdjust="spacingAndGlyphs">ns</text>
<path d="M44.4 639L70.5 639" stroke="#555" stroke-width="0.9" fill="none"/>
<text x="52.8" y="636.4" font-size="8.6" textLength="9.4" lengthAdjust="spacingAndGlyphs">ns</text>
<text font-size="8.6" text-anchor="middle" textLength="115.5" lengthAdjust="spacingAndGlyphs" transform="translate(7.8 632.8) rotate(-90)">iNOS<tspan font-size="5.4" dy="-3">+</tspan><tspan dy="3">CD68</tspan><tspan font-size="5.4" dy="-3">+</tspan><tspan dy="3"> positive area(%)</tspan></text>
<text x="165.6" y="530.3" font-size="10.4">N</text>
<rect x="207.3" y="538.1" width="10" height="4.5" fill="#d6d6d6" stroke="#000" stroke-width="0.7"/>
<text x="221" y="543.1" font-size="8.3" textLength="22.6" lengthAdjust="spacingAndGlyphs">CTRL</text>
<rect x="259.8" y="538.1" width="10" height="4.5" fill="#2cb4f1" stroke="#000" stroke-width="0.7"/>
<text x="273" y="543.1" font-size="8.3" textLength="22.8" lengthAdjust="spacingAndGlyphs">LDHA</text>
<text x="296.1" y="539.1" font-size="4.2" textLength="7.6" lengthAdjust="spacingAndGlyphs" font-style="italic">ΔMc</text>
<rect x="205.5" y="652.9" width="17.6" height="27.6" fill="#d6d6d6" stroke="#000" stroke-width="0.7"/>
<rect x="232.3" y="679.4" width="17" height="1.1" fill="#2cb4f1" stroke="#000" stroke-width="0.7"/>
<rect x="276.9" y="615.4" width="17.9" height="65.1" fill="#d6d6d6" stroke="#000" stroke-width="0.7"/>
<rect x="303.7" y="679.4" width="17.9" height="1.1" fill="#2cb4f1" stroke="#000" stroke-width="0.7"/>
<path d="M214.4 651.1V654.8M211 651.1h6.8M211 654.8h6.8" stroke="#000" stroke-width=".8" fill="none"/>
<path d="M285.9 610.4V620.6M282.5 610.4h6.8M282.5 620.6h6.8" stroke="#000" stroke-width=".8" fill="none"/>
<path d="M196 579.8V680.5H330.8" stroke="#000" stroke-width=".9" fill="none"/>
<text x="190.4" y="583.2" font-size="8.2" text-anchor="end">25</text>
<text x="190.4" y="603.2" font-size="8.2" text-anchor="end">20</text>
<text x="190.4" y="623.4" font-size="8.2" text-anchor="end">15</text>
<text x="190.4" y="643.4" font-size="8.2" text-anchor="end">10</text>
<text x="190.4" y="663.4" font-size="8.2" text-anchor="end">5</text>
<text x="190.4" y="683.5" font-size="8.2" text-anchor="end">0</text>
<path d="M196 580.2h-3.6M196 600.3h-3.6M196 620.4h-3.6M196 640.4h-3.6M196 660.4h-3.6M196 680.5h-3.6M227.7 680.5v2.4M299.9 680.5v2.4" stroke="#000" stroke-width=".9" fill="none"/>
<text x="226" y="694.8" font-size="8.9" text-anchor="middle" textLength="38.8" lengthAdjust="spacingAndGlyphs">LPS(Sed)</text>
<text x="297.3" y="694.8" font-size="8.9" text-anchor="middle" textLength="38.8" lengthAdjust="spacingAndGlyphs">LPS(Exe)</text>
<path d="M215.8 647.7h0M214.1 651.1h0M213.4 652.9h0M214.9 654.3h0M214.9 656.9h0M233.6 679.5h0M237.5 679.3h0M241.4 679.3h0M244.6 679.3h0M248.5 679.7h0M285.8 599.1h0M285.5 613.5h0M286 616.2h0M286 620.1h0M286.4 630.6h0M305 679.5h0M308.5 679h0M312.4 679h0M316.3 679.3h0M320.3 679.9h0" stroke="#000" stroke-width="2.2" stroke-linecap="round" fill="none"/>
<path d="M216 564.9L286.1 564.9" stroke="#555" stroke-width="0.9" fill="none"/>
<text x="228.8" y="562.3" font-size="8.6" textLength="46.8" lengthAdjust="spacingAndGlyphs"><tspan font-style="italic">P</tspan>=1.1x10<tspan font-size="5.4" dy="-3.2">−4</tspan></text>
<path d="M240.1 579.4L312.4 579.4" stroke="#555" stroke-width="0.9" fill="none"/>
<text x="273.8" y="576.7" font-size="8.6" textLength="9.2" lengthAdjust="spacingAndGlyphs">ns</text>
<path d="M286.6 595.7L312.4 595.7" stroke="#555" stroke-width="0.9" fill="none"/>
<text x="276.4" y="592.5" font-size="8.6" textLength="47" lengthAdjust="spacingAndGlyphs"><tspan font-style="italic">P</tspan>=1.6x10<tspan font-size="5.4" dy="-3.2">−6</tspan></text>
<path d="M214.4 641.9L240.1 641.9" stroke="#555" stroke-width="0.9" fill="none"/>
<text x="206.8" y="638.5" font-size="8.6" textLength="47" lengthAdjust="spacingAndGlyphs"><tspan font-style="italic">P</tspan>=2.7x10<tspan font-size="5.4" dy="-3.2">−7</tspan></text>
<text font-size="8.6" text-anchor="middle" textLength="127" lengthAdjust="spacingAndGlyphs" transform="translate(174 627) rotate(-90)">Pan Kla<tspan font-size="5.4" dy="-3">+</tspan><tspan dy="3">CD68</tspan><tspan font-size="5.4" dy="-3">+</tspan><tspan dy="3"> positive area (%)</tspan></text>
<text x="334.8" y="530.3" font-size="10.4">O</text>
<rect x="374.1" y="537.3" width="10.3" height="4.5" fill="#d6d6d6" stroke="#000" stroke-width="0.7"/>
<text x="387.8" y="542.3" font-size="8.3" textLength="22.3" lengthAdjust="spacingAndGlyphs">CTRL</text>
<rect x="426.4" y="537.3" width="10" height="4.5" fill="#2cb4f1" stroke="#000" stroke-width="0.7"/>
<text x="439.6" y="542.3" font-size="8.3" textLength="22.6" lengthAdjust="spacingAndGlyphs">LDHA</text>
<text x="462.5" y="538.3" font-size="4.2" textLength="7.6" lengthAdjust="spacingAndGlyphs" font-style="italic">ΔMc</text>
<rect x="373.4" y="639.3" width="17.6" height="41.5" fill="#d6d6d6" stroke="#000" stroke-width="0.7"/>
<rect x="400.2" y="667.9" width="17.3" height="12.9" fill="#2cb4f1" stroke="#000" stroke-width="0.7"/>
<rect x="443.8" y="604.3" width="17.6" height="76.5" fill="#d6d6d6" stroke="#000" stroke-width="0.7"/>
<rect x="470.6" y="667.4" width="17" height="13.4" fill="#2cb4f1" stroke="#000" stroke-width="0.7"/>
<path d="M382.3 635.9V643M378.9 635.9h6.8M378.9 643h6.8" stroke="#000" stroke-width=".8" fill="none"/>
<path d="M408.9 665.3V670.5M405.5 665.3h6.8M405.5 670.5h6.8" stroke="#000" stroke-width=".8" fill="none"/>
<path d="M452.7 598.6V609.6M449.3 598.6h6.8M449.3 609.6h6.8" stroke="#000" stroke-width=".8" fill="none"/>
<path d="M479.2 664.8V670M475.8 664.8h6.8M475.8 670h6.8" stroke="#000" stroke-width=".8" fill="none"/>
<path d="M361.5 582.1V680.8H497.4" stroke="#000" stroke-width=".9" fill="none"/>
<text x="356.3" y="585.5" font-size="8.2" text-anchor="end">10</text>
<text x="356.3" y="605.2" font-size="8.2" text-anchor="end">8</text>
<text x="356.3" y="624.8" font-size="8.2" text-anchor="end">6</text>
<text x="356.3" y="644.5" font-size="8.2" text-anchor="end">4</text>
<text x="356.3" y="664.1" font-size="8.2" text-anchor="end">2</text>
<text x="356.3" y="683.8" font-size="8.2" text-anchor="end">0</text>
<path d="M361.5 582.5h-3.6M361.5 602.2h-3.6M361.5 621.8h-3.6M361.5 641.5h-3.6M361.5 661.1h-3.6M361.5 680.8h-3.6M395.7 680.8v2.4M465.8 680.8v2.4" stroke="#000" stroke-width=".9" fill="none"/>
<text x="393.8" y="694.5" font-size="8.9" text-anchor="middle" textLength="38.8" lengthAdjust="spacingAndGlyphs">LPS(Sed)</text>
<text x="464.5" y="694.5" font-size="8.9" text-anchor="middle" textLength="38.8" lengthAdjust="spacingAndGlyphs">LPS(Exe)</text>
<path d="M384.3 629.3h0M381 636.4h0M380.9 640.6h0M384 642.4h0M382.8 645h0M406.9 660.8h0M410.7 664.8h0M409.5 668.7h0M407.2 670.5h0M406.9 672.6h0M453.4 589.4h0M452.2 597h0M452 605.6h0M453.3 612.2h0M453.4 618.3h0M479 659h0M477.5 666.1h0M477.3 668.7h0M480.7 670.5h0M480.1 671.9h0" stroke="#000" stroke-width="2.2" stroke-linecap="round" fill="none"/>
<path d="M381.2 564.4L453 564.4" stroke="#555" stroke-width="0.9" fill="none"/>
<text x="395.2" y="561.8" font-size="8.6" textLength="47.3" lengthAdjust="spacingAndGlyphs"><tspan font-style="italic">P</tspan>=4.0x10<tspan font-size="5.4" dy="-3.2">−4</tspan></text>
<path d="M410.1 574.9L479.2 574.9" stroke="#555" stroke-width="0.9" fill="none"/>
<text x="443" y="572.8" font-size="8.6" textLength="9.7" lengthAdjust="spacingAndGlyphs">ns</text>
<path d="M453.5 588L479.2 588" stroke="#555" stroke-width="0.9" fill="none"/>
<text x="440.4" y="585.4" font-size="8.6" textLength="47.2" lengthAdjust="spacingAndGlyphs"><tspan font-style="italic">P</tspan>=4.3x10<tspan font-size="5.4" dy="-3.2">−6</tspan></text>
<path d="M381.8 624.8L408 624.8" stroke="#555" stroke-width="0.9" fill="none"/>
<text x="374.7" y="622.2" font-size="8.6" textLength="47.3" lengthAdjust="spacingAndGlyphs"><tspan font-style="italic">P</tspan>=6.4x10<tspan font-size="5.4" dy="-3.2">−5</tspan></text>
<text font-size="8.6" text-anchor="middle" textLength="114.5" lengthAdjust="spacingAndGlyphs" transform="translate(344 633.2) rotate(-90)">Arg1<tspan font-size="5.4" dy="-3">+</tspan><tspan dy="3">CD68</tspan><tspan font-size="5.4" dy="-3">+</tspan><tspan dy="3"> positive area(%)</tspan></text>
<text x="506.8" y="530.1" font-size="10.4">P</text>
<rect x="564.1" y="537.3" width="10" height="4.5" fill="#d6d6d6" stroke="#000" stroke-width="0.7"/>
<text x="577.8" y="542.3" font-size="8.3" textLength="22.6" lengthAdjust="spacingAndGlyphs">CTRL</text>
<rect x="616.7" y="537.3" width="10" height="4.5" fill="#2cb4f1" stroke="#000" stroke-width="0.7"/>
<text x="629.8" y="542.3" font-size="8.3" textLength="22.3" lengthAdjust="spacingAndGlyphs">LDHA</text>
<text x="652.4" y="538.3" font-size="4.2" textLength="7.6" lengthAdjust="spacingAndGlyphs" font-style="italic">ΔMc</text>
<rect x="559.4" y="650.3" width="17.1" height="30.7" fill="#d6d6d6" stroke="#000" stroke-width="0.7"/>
<rect x="585.1" y="674" width="17.6" height="7" fill="#2cb4f1" stroke="#000" stroke-width="0.7"/>
<rect x="629" y="617.5" width="17.9" height="63.5" fill="#d6d6d6" stroke="#000" stroke-width="0.7"/>
<rect x="655.6" y="660.3" width="17.6" height="20.7" fill="#2cb4f1" stroke="#000" stroke-width="0.7"/>
<path d="M567.9 646.4V654.3M564.5 646.4h6.8M564.5 654.3h6.8" stroke="#000" stroke-width=".8" fill="none"/>
<path d="M593.9 672.1V675.3M590.5 672.1h6.8M590.5 675.3h6.8" stroke="#000" stroke-width=".8" fill="none"/>
<path d="M638 613V621.4M634.6 613h6.8M634.6 621.4h6.8" stroke="#000" stroke-width=".8" fill="none"/>
<path d="M664.4 657.7V663.4M661 657.7h6.8M661 663.4h6.8" stroke="#000" stroke-width=".8" fill="none"/>
<path d="M549.7 582.4V681H682.9" stroke="#000" stroke-width=".9" fill="none"/>
<text x="544.4" y="585.8" font-size="8.2" text-anchor="end">100</text>
<text x="544.4" y="605.4" font-size="8.2" text-anchor="end">80</text>
<text x="544.4" y="625.1" font-size="8.2" text-anchor="end">60</text>
<text x="544.4" y="644.7" font-size="8.2" text-anchor="end">40</text>
<text x="544.4" y="664.4" font-size="8.2" text-anchor="end">20</text>
<text x="544.4" y="684" font-size="8.2" text-anchor="end">0</text>
<path d="M549.7 582.8h-3.6M549.7 602.4h-3.6M549.7 622.1h-3.6M549.7 641.7h-3.6M549.7 661.4h-3.6M549.7 681h-3.6M580.7 681v2.4M650.8 681v2.4" stroke="#000" stroke-width=".9" fill="none"/>
<text x="579.4" y="694.5" font-size="8.9" text-anchor="middle" textLength="38.8" lengthAdjust="spacingAndGlyphs">LPS(Sed)</text>
<text x="649.5" y="694.5" font-size="8.9" text-anchor="middle" textLength="38.8" lengthAdjust="spacingAndGlyphs">LPS(Exe)</text>
<path d="M566.4 641.6h0M567.8 646.4h0M568.8 651.6h0M566.8 654.3h0M566.6 658.2h0M591.1 671.3h0M593.7 672.6h0M595.3 674h0M595.7 674.7h0M596.2 675.3h0M638.7 604.9h0M639.2 613.5h0M639.1 618.8h0M638.6 621.4h0M637.7 625.4h0M665.7 651.6h0M663 659.5h0M663 662.1h0M663.8 665.3h0M666 666.1h0" stroke="#000" stroke-width="2.2" stroke-linecap="round" fill="none"/>
<path d="M595.6 564.9L664.7 564.9" stroke="#555" stroke-width="0.9" fill="none"/>
<text x="606.9" y="562.3" font-size="8.6" textLength="47.3" lengthAdjust="spacingAndGlyphs"><tspan font-style="italic">P</tspan>=1.2x10<tspan font-size="5.4" dy="-3.2">−3</tspan></text>
<path d="M639 582.5L664.7 582.5" stroke="#555" stroke-width="0.9" fill="none"/>
<text x="628.5" y="579.4" font-size="8.6" textLength="47.3" lengthAdjust="spacingAndGlyphs"><tspan font-style="italic">P</tspan>=1.2x10<tspan font-size="5.4" dy="-3.2">−5</tspan></text>
<path d="M567.5 598.3L637.7 598.3" stroke="#555" stroke-width="0.9" fill="none"/>
<text x="581.2" y="595.1" font-size="8.6" textLength="47.3" lengthAdjust="spacingAndGlyphs"><tspan font-style="italic">P</tspan>=1.5x10<tspan font-size="5.4" dy="-3.2">−4</tspan></text>
<path d="M567.5 634.5L593.5 634.5" stroke="#555" stroke-width="0.9" fill="none"/>
<text x="559.4" y="631.4" font-size="8.6" textLength="46.8" lengthAdjust="spacingAndGlyphs"><tspan font-style="italic">P</tspan>=1.1x10<tspan font-size="5.4" dy="-3.2">−4</tspan></text>
<text font-size="8.4" text-anchor="middle" textLength="105" lengthAdjust="spacingAndGlyphs" transform="translate(515.8 632) rotate(-90)">% of Arg1<tspan font-size="5.4" dy="-3">+</tspan><tspan dy="3"> Pan Kla</tspan><tspan font-size="5.4" dy="-3">+</tspan><tspan dy="3"> CD68</tspan><tspan font-size="5.4" dy="-3">+</tspan></text>
<text font-size="8.4" text-anchor="middle" textLength="59" lengthAdjust="spacingAndGlyphs" transform="translate(526.8 635) rotate(-90)">in Arg1<tspan font-size="5.4" dy="-3">+</tspan><tspan dy="3"> CD68</tspan><tspan font-size="5.4" dy="-3">+</tspan></text>
</svg>
</body></html>
